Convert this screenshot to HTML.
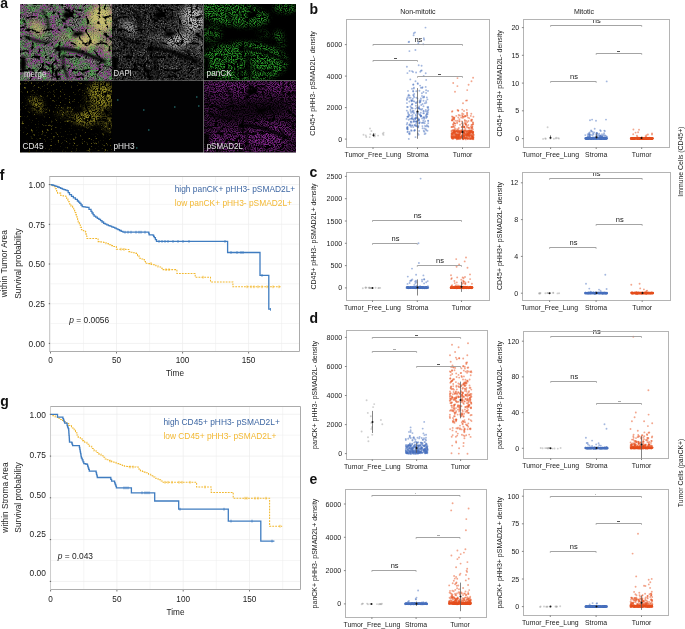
<!DOCTYPE html>
<html><head><meta charset="utf-8"><style>
html,body{margin:0;padding:0;background:#fff;}
svg{display:block;will-change:transform;}
text{font-family:"Liberation Sans", sans-serif;}
</style></head><body>
<svg width="685" height="629" viewBox="0 0 685 629" font-family='"Liberation Sans", sans-serif'>
<defs><filter id="bl0_8" x="-50%" y="-50%" width="200%" height="200%"><feGaussianBlur stdDeviation="0.8"/></filter><filter id="bl1_5" x="-50%" y="-50%" width="200%" height="200%"><feGaussianBlur stdDeviation="1.5"/></filter><filter id="bl2" x="-50%" y="-50%" width="200%" height="200%"><feGaussianBlur stdDeviation="2"/></filter><filter id="bl3" x="-50%" y="-50%" width="200%" height="200%"><feGaussianBlur stdDeviation="3"/></filter><filter id="bl4" x="-50%" y="-50%" width="200%" height="200%"><feGaussianBlur stdDeviation="4"/></filter><filter id="bl6" x="-50%" y="-50%" width="200%" height="200%"><feGaussianBlur stdDeviation="6"/></filter><clipPath id="cp0"><rect x="20" y="4" width="92" height="76.5"/></clipPath><clipPath id="cp1"><rect x="112" y="4" width="91.5" height="76.5"/></clipPath><clipPath id="cp2"><rect x="203.5" y="4" width="92.5" height="76.5"/></clipPath><clipPath id="cp3"><rect x="20" y="80.5" width="92" height="72.0"/></clipPath><clipPath id="cp4"><rect x="112" y="80.5" width="91.5" height="72.0"/></clipPath><clipPath id="cp5"><rect x="203.5" y="80.5" width="92.5" height="72.0"/></clipPath><filter id="tis_f" filterUnits="userSpaceOnUse" x="0" y="0" width="93" height="77" color-interpolation-filters="sRGB"><feTurbulence type="turbulence" baseFrequency="0.075" numOctaves="3" seed="5"/><feColorMatrix type="matrix" values="0 0 0 0 1 0 0 0 0 1 0 0 0 0 1 9 0 0 0 -0.75"/></filter><mask id="tis" maskUnits="userSpaceOnUse" x="0" y="0" width="93" height="77"><rect width="93" height="77" fill="#000"/><rect width="93" height="77" filter="url(#tis_f)"/><g filter="url(#bl0_8)"><path d="M36 45 C48 44 58 47 66 50 S80 56 86 58" stroke="#000" stroke-width="3.2" fill="none"/><ellipse cx="47" cy="11" rx="4" ry="3.5" fill="#000"/><ellipse cx="58" cy="30" rx="6" ry="2.2" fill="#000" transform="rotate(-10 58 30)"/><ellipse cx="3" cy="60" rx="3" ry="8" fill="#000"/><path d="M5 33 C15 36 22 40 30 38" stroke="#000" stroke-width="2" fill="none"/><path d="M22 6 C26 12 30 18 28 26" stroke="#000" stroke-width="1.8" fill="none"/><path d="M44 50 C42 58 44 66 48 74" stroke="#000" stroke-width="2" fill="none"/></g></mask><filter id="f_m_base" filterUnits="userSpaceOnUse" x="0" y="0" width="93" height="77" color-interpolation-filters="sRGB"><feTurbulence type="fractalNoise" baseFrequency="0.6" numOctaves="1" seed="23"/><feColorMatrix type="matrix" values="0 0 0 0 0.196 0 0 0 0 0.220 0 0 0 0 0.196 3 0 0 0 -0.8"/></filter><filter id="f_m_w" filterUnits="userSpaceOnUse" x="0" y="0" width="93" height="77" color-interpolation-filters="sRGB"><feTurbulence type="fractalNoise" baseFrequency="0.83" numOctaves="1" seed="21"/><feColorMatrix type="matrix" values="0 0 0 0 0.549 0 0 0 0 0.549 0 0 0 0 0.529 4 0 0 0 -1.55"/></filter><filter id="f_m_g" filterUnits="userSpaceOnUse" x="0" y="0" width="93" height="77" color-interpolation-filters="sRGB"><feTurbulence type="fractalNoise" baseFrequency="0.77" numOctaves="1" seed="3" result="fn"/><feTurbulence type="fractalNoise" baseFrequency="0.13" numOctaves="2" seed="101" result="mn"/><feColorMatrix in="fn" type="matrix" values="0 0 0 0 0.275 0 0 0 0 0.627 0 0 0 0 0.275 4 0 0 0 -1.35" result="fa"/><feColorMatrix in="mn" type="matrix" values="0 0 0 0 0 0 0 0 0 0 0 0 0 0 0 4 0 0 0 -1.4" result="ma"/><feComposite in="fa" in2="ma" operator="in"/></filter><filter id="f_m_m" filterUnits="userSpaceOnUse" x="0" y="0" width="93" height="77" color-interpolation-filters="sRGB"><feTurbulence type="fractalNoise" baseFrequency="0.71" numOctaves="1" seed="11" result="fn"/><feTurbulence type="fractalNoise" baseFrequency="0.13" numOctaves="2" seed="102" result="mn"/><feColorMatrix in="fn" type="matrix" values="0 0 0 0 0.569 0 0 0 0 0.216 0 0 0 0 0.569 4 0 0 0 -1.5" result="fa"/><feColorMatrix in="mn" type="matrix" values="0 0 0 0 0 0 0 0 0 0 0 0 0 0 0 4 0 0 0 -1.5" result="ma"/><feComposite in="fa" in2="ma" operator="in"/></filter><filter id="f_m_y" filterUnits="userSpaceOnUse" x="0" y="0" width="93" height="77" color-interpolation-filters="sRGB"><feTurbulence type="fractalNoise" baseFrequency="0.87" numOctaves="1" seed="31"/><feColorMatrix type="matrix" values="0 0 0 0 0.784 0 0 0 0 0.745 0 0 0 0 0.431 4 0 0 0 -0.9"/></filter><mask id="r_y" maskUnits="userSpaceOnUse" x="0" y="0" width="93" height="77"><rect x="-10" y="-10" width="113" height="97" fill="rgb(0,0,0)"/><g filter="url(#bl3)"><ellipse cx="81" cy="15" rx="13" ry="14" fill="rgb(255,255,255)" transform="rotate(0 81 15)"/><ellipse cx="70" cy="23" rx="6.5" ry="5.5" fill="rgb(30,30,30)" transform="rotate(0 70 23)"/><ellipse cx="67" cy="37" rx="14" ry="7" fill="rgb(255,255,255)" transform="rotate(-10 67 37)"/><ellipse cx="17" cy="24" rx="5" ry="9" fill="rgb(216,216,216)" transform="rotate(-40 17 24)"/><ellipse cx="45" cy="33" rx="9" ry="2.5" fill="rgb(140,140,140)" transform="rotate(-5 45 33)"/><ellipse cx="88" cy="42" rx="5" ry="9" fill="rgb(153,153,153)" transform="rotate(0 88 42)"/></g></mask><filter id="f_d0" filterUnits="userSpaceOnUse" x="0" y="0" width="93" height="77" color-interpolation-filters="sRGB"><feTurbulence type="fractalNoise" baseFrequency="0.55" numOctaves="1" seed="44"/><feColorMatrix type="matrix" values="0 0 0 0 0.204 0 0 0 0 0.204 0 0 0 0 0.204 3 0 0 0 -0.95"/></filter><filter id="f_d" filterUnits="userSpaceOnUse" x="0" y="0" width="93" height="77" color-interpolation-filters="sRGB"><feTurbulence type="fractalNoise" baseFrequency="0.93" numOctaves="1" seed="41"/><feColorMatrix type="matrix" values="0 0 0 0 0.471 0 0 0 0 0.471 0 0 0 0 0.471 4 0 0 0 -2.2"/></filter><filter id="f_d2" filterUnits="userSpaceOnUse" x="0" y="0" width="93" height="77" color-interpolation-filters="sRGB"><feTurbulence type="fractalNoise" baseFrequency="0.93" numOctaves="1" seed="43"/><feColorMatrix type="matrix" values="0 0 0 0 0.745 0 0 0 0 0.745 0 0 0 0 0.745 4 0 0 0 -1.35"/></filter><filter id="f_p" filterUnits="userSpaceOnUse" x="0" y="0" width="93" height="77" color-interpolation-filters="sRGB"><feTurbulence type="fractalNoise" baseFrequency="0.83" numOctaves="1" seed="51"/><feColorMatrix type="matrix" values="0 0 0 0 0.157 0 0 0 0 0.608 0 0 0 0 0.157 4 0 0 0 -1.6"/></filter><mask id="r_p" maskUnits="userSpaceOnUse" x="0" y="0" width="93" height="77"><rect x="-10" y="-10" width="113" height="97" fill="rgb(0,0,0)"/><g filter="url(#bl2)"><ellipse cx="30" cy="10" rx="36" ry="12" fill="rgb(255,255,255)" transform="rotate(8 30 10)"/><ellipse cx="40" cy="58" rx="44" ry="20" fill="rgb(255,255,255)" transform="rotate(0 40 58)"/><ellipse cx="45" cy="64" rx="4" ry="13" fill="rgb(0,0,0)" transform="rotate(0 45 64)"/><ellipse cx="82" cy="4" rx="12" ry="5" fill="rgb(229,229,229)" transform="rotate(0 82 4)"/><ellipse cx="8" cy="30" rx="10" ry="8" fill="rgb(204,204,204)" transform="rotate(0 8 30)"/><ellipse cx="75" cy="32" rx="5" ry="5" fill="rgb(204,204,204)" transform="rotate(0 75 32)"/><ellipse cx="79" cy="40" rx="3" ry="3" fill="rgb(204,204,204)" transform="rotate(0 79 40)"/><ellipse cx="60" cy="30" rx="6" ry="3" fill="rgb(178,178,178)" transform="rotate(0 60 30)"/></g></mask><filter id="f_c" filterUnits="userSpaceOnUse" x="0" y="0" width="93" height="77" color-interpolation-filters="sRGB"><feTurbulence type="fractalNoise" baseFrequency="0.81" numOctaves="1" seed="61"/><feColorMatrix type="matrix" values="0 0 0 0 0.588 0 0 0 0 0.557 0 0 0 0 0.137 4 0 0 0 -1.4"/></filter><filter id="f_c2" filterUnits="userSpaceOnUse" x="0" y="0" width="93" height="77" color-interpolation-filters="sRGB"><feTurbulence type="fractalNoise" baseFrequency="0.45" numOctaves="3" seed="63"/><feColorMatrix type="matrix" values="0 0 0 0 0.471 0 0 0 0 0.439 0 0 0 0 0.098 5 0 0 0 -3.15"/></filter><filter id="f_s" filterUnits="userSpaceOnUse" x="0" y="0" width="93" height="77" color-interpolation-filters="sRGB"><feTurbulence type="fractalNoise" baseFrequency="0.83" numOctaves="1" seed="71"/><feColorMatrix type="matrix" values="0 0 0 0 0.529 0 0 0 0 0.157 0 0 0 0 0.569 4 0 0 0 -1.5"/></filter><mask id="r_s" maskUnits="userSpaceOnUse" x="0" y="0" width="93" height="77"><rect x="-10" y="-10" width="113" height="97" fill="rgb(127,127,127)"/><g filter="url(#bl4)"><ellipse cx="62" cy="57" rx="26" ry="13" fill="rgb(255,255,255)" transform="rotate(-10 62 57)"/><ellipse cx="22" cy="60" rx="22" ry="10" fill="rgb(216,216,216)" transform="rotate(0 22 60)"/><ellipse cx="30" cy="6" rx="30" ry="7" fill="rgb(229,229,229)" transform="rotate(0 30 6)"/><ellipse cx="76" cy="5" rx="16" ry="6" fill="rgb(255,255,255)" transform="rotate(0 76 5)"/><ellipse cx="50" cy="29" rx="38" ry="9" fill="rgb(51,51,51)" transform="rotate(-5 50 29)"/></g></mask></defs>
<rect width="685" height="629" fill="#fff"/>
<g clip-path="url(#cp0)"><g transform="translate(20,4)"><rect width="93" height="77" fill="#000"/><g mask="url(#tis)"><rect width="93" height="77" filter="url(#f_m_base)"/><rect width="93" height="77" filter="url(#f_m_w)"/><rect width="93" height="77" filter="url(#f_m_g)"/><rect width="93" height="77" filter="url(#f_m_m)"/><g mask="url(#r_y)"><rect width="93" height="77" filter="url(#f_m_y)"/></g></g></g></g><g clip-path="url(#cp1)"><g transform="translate(112,4)"><rect width="93" height="77" fill="#000"/><g mask="url(#tis)"><rect width="93" height="77" filter="url(#f_d0)"/><rect width="93" height="77" filter="url(#f_d)"/><g mask="url(#r_y)"><rect width="93" height="77" filter="url(#f_d2)"/></g></g></g></g><g clip-path="url(#cp2)"><g transform="translate(203.5,4)"><rect width="93" height="77" fill="#000"/><g mask="url(#tis)"><g mask="url(#r_p)"><rect width="93" height="77" filter="url(#f_p)"/></g></g></g></g><g clip-path="url(#cp3)"><g transform="translate(20,80.5)"><rect width="93" height="77" fill="#000"/><g mask="url(#tis)"><rect width="93" height="77" filter="url(#f_c2)"/><g mask="url(#r_y)"><rect width="93" height="77" filter="url(#f_c)"/></g></g></g></g><g clip-path="url(#cp4)"><g transform="translate(112,80.5)"><rect width="93" height="77" fill="#020203"/><rect x="5" y="19" width="1.5" height="1" fill="#3ab0b0" opacity="0.8"/><rect x="31" y="29" width="1.5" height="1" fill="#3ab0b0" opacity="0.8"/><rect x="62" y="26" width="1.5" height="1" fill="#3ab0b0" opacity="0.8"/><rect x="84" y="16" width="1.5" height="1" fill="#3ab0b0" opacity="0.8"/><rect x="86" y="25" width="1.5" height="1" fill="#3ab0b0" opacity="0.8"/><rect x="36" y="49" width="1.5" height="1" fill="#3ab0b0" opacity="0.8"/><rect x="24" y="67" width="1.5" height="1" fill="#3ab0b0" opacity="0.8"/></g></g><g clip-path="url(#cp5)"><g transform="translate(203.5,80.5)"><rect width="93" height="77" fill="#000"/><g mask="url(#tis)"><g mask="url(#r_s)"><rect width="93" height="77" filter="url(#f_s)"/></g></g></g></g><text x="24.0" y="76.6" font-size="8.4" fill="#e6e6e6" textLength="22.3" lengthAdjust="spacingAndGlyphs">merge</text><text x="113.6" y="76.4" font-size="8.4" fill="#e6e6e6" textLength="18.2" lengthAdjust="spacingAndGlyphs">DAPI</text><text x="206.6" y="76.4" font-size="8.4" fill="#e6e6e6" textLength="25.0" lengthAdjust="spacingAndGlyphs">panCK</text><text x="22.4" y="149.0" font-size="8.4" fill="#e6e6e6" textLength="21.2" lengthAdjust="spacingAndGlyphs">CD45</text><text x="113.5" y="148.8" font-size="8.4" fill="#e6e6e6" textLength="21.2" lengthAdjust="spacingAndGlyphs">pHH3</text><text x="206.7" y="149.0" font-size="8.4" fill="#e6e6e6" textLength="36.2" lengthAdjust="spacingAndGlyphs">pSMAD2L</text>
<g fill="#a0a0a0" fill-opacity="0.5"><circle cx="366.3" cy="137.0" r="0.95"/><circle cx="378.1" cy="135.6" r="0.95"/><circle cx="383.5" cy="134.9" r="0.95"/><circle cx="370.3" cy="134.3" r="0.95"/><circle cx="374.7" cy="136.6" r="0.95"/><circle cx="382.8" cy="133.7" r="0.95"/><circle cx="370.0" cy="128.5" r="0.95"/><circle cx="363.5" cy="134.7" r="0.95"/><circle cx="374.8" cy="135.6" r="0.95"/><circle cx="383.6" cy="132.7" r="0.95"/><circle cx="369.7" cy="137.1" r="0.95"/><circle cx="365.8" cy="135.4" r="0.95"/><circle cx="375.0" cy="133.9" r="0.95"/><circle cx="371.4" cy="131.0" r="0.95"/></g>
<g fill="#4a72c0" fill-opacity="0.5"><circle cx="413.4" cy="119.4" r="0.95"/><circle cx="416.3" cy="126.1" r="0.95"/><circle cx="418.9" cy="108.3" r="0.95"/><circle cx="407.7" cy="129.5" r="0.95"/><circle cx="414.1" cy="113.0" r="0.95"/><circle cx="426.1" cy="118.0" r="0.95"/><circle cx="423.7" cy="130.7" r="0.95"/><circle cx="418.3" cy="113.8" r="0.95"/><circle cx="407.4" cy="132.1" r="0.95"/><circle cx="421.2" cy="116.3" r="0.95"/><circle cx="414.9" cy="130.3" r="0.95"/><circle cx="424.5" cy="128.5" r="0.95"/><circle cx="408.0" cy="116.5" r="0.95"/><circle cx="420.9" cy="100.1" r="0.95"/><circle cx="407.5" cy="126.9" r="0.95"/><circle cx="407.3" cy="123.0" r="0.95"/><circle cx="420.3" cy="109.3" r="0.95"/><circle cx="416.3" cy="91.3" r="0.95"/><circle cx="410.6" cy="111.1" r="0.95"/><circle cx="424.4" cy="117.2" r="0.95"/><circle cx="422.2" cy="87.9" r="0.95"/><circle cx="424.3" cy="131.7" r="0.95"/><circle cx="420.9" cy="98.4" r="0.95"/><circle cx="418.9" cy="120.3" r="0.95"/><circle cx="427.9" cy="126.1" r="0.95"/><circle cx="418.2" cy="127.4" r="0.95"/><circle cx="408.7" cy="119.8" r="0.95"/><circle cx="411.6" cy="101.2" r="0.95"/><circle cx="406.8" cy="124.4" r="0.95"/><circle cx="425.6" cy="111.4" r="0.95"/><circle cx="422.3" cy="108.9" r="0.95"/><circle cx="411.6" cy="118.2" r="0.95"/><circle cx="413.1" cy="112.6" r="0.95"/><circle cx="414.2" cy="130.7" r="0.95"/><circle cx="419.1" cy="130.9" r="0.95"/><circle cx="428.2" cy="123.3" r="0.95"/><circle cx="428.2" cy="107.0" r="0.95"/><circle cx="425.8" cy="116.0" r="0.95"/><circle cx="418.5" cy="119.6" r="0.95"/><circle cx="423.4" cy="110.9" r="0.95"/><circle cx="411.1" cy="115.8" r="0.95"/><circle cx="418.6" cy="120.4" r="0.95"/><circle cx="417.3" cy="101.7" r="0.95"/><circle cx="423.5" cy="106.3" r="0.95"/><circle cx="416.9" cy="121.6" r="0.95"/><circle cx="412.2" cy="111.6" r="0.95"/><circle cx="423.3" cy="113.3" r="0.95"/><circle cx="416.3" cy="97.6" r="0.95"/><circle cx="421.2" cy="105.0" r="0.95"/><circle cx="418.3" cy="120.6" r="0.95"/><circle cx="422.5" cy="87.2" r="0.95"/><circle cx="413.3" cy="127.1" r="0.95"/><circle cx="408.6" cy="116.5" r="0.95"/><circle cx="422.6" cy="104.0" r="0.95"/><circle cx="410.3" cy="125.8" r="0.95"/><circle cx="409.1" cy="114.6" r="0.95"/><circle cx="409.7" cy="131.9" r="0.95"/><circle cx="412.0" cy="107.9" r="0.95"/><circle cx="412.4" cy="103.9" r="0.95"/><circle cx="427.1" cy="111.3" r="0.95"/><circle cx="423.0" cy="97.5" r="0.95"/><circle cx="418.8" cy="119.6" r="0.95"/><circle cx="427.4" cy="107.1" r="0.95"/><circle cx="406.8" cy="110.6" r="0.95"/><circle cx="413.6" cy="111.0" r="0.95"/><circle cx="416.0" cy="115.8" r="0.95"/><circle cx="407.0" cy="99.9" r="0.95"/><circle cx="413.3" cy="91.5" r="0.95"/><circle cx="426.3" cy="114.7" r="0.95"/><circle cx="411.2" cy="107.7" r="0.95"/><circle cx="414.6" cy="130.3" r="0.95"/><circle cx="410.5" cy="106.3" r="0.95"/><circle cx="419.2" cy="108.7" r="0.95"/><circle cx="413.2" cy="84.7" r="0.95"/><circle cx="423.5" cy="100.8" r="0.95"/><circle cx="414.1" cy="121.0" r="0.95"/><circle cx="423.9" cy="117.7" r="0.95"/><circle cx="417.0" cy="107.7" r="0.95"/><circle cx="409.5" cy="134.2" r="0.95"/><circle cx="419.9" cy="114.9" r="0.95"/><circle cx="426.9" cy="125.2" r="0.95"/><circle cx="407.2" cy="127.4" r="0.95"/><circle cx="411.7" cy="130.7" r="0.95"/><circle cx="424.9" cy="103.3" r="0.95"/><circle cx="417.5" cy="126.8" r="0.95"/><circle cx="410.7" cy="122.0" r="0.95"/><circle cx="415.9" cy="117.8" r="0.95"/><circle cx="410.6" cy="97.8" r="0.95"/><circle cx="407.4" cy="129.1" r="0.95"/><circle cx="409.1" cy="115.4" r="0.95"/><circle cx="418.1" cy="112.1" r="0.95"/><circle cx="424.0" cy="96.5" r="0.95"/><circle cx="420.2" cy="101.1" r="0.95"/><circle cx="409.3" cy="97.9" r="0.95"/><circle cx="423.3" cy="120.8" r="0.95"/><circle cx="427.0" cy="116.6" r="0.95"/><circle cx="415.3" cy="118.8" r="0.95"/><circle cx="414.1" cy="97.2" r="0.95"/><circle cx="426.1" cy="90.2" r="0.95"/><circle cx="418.5" cy="126.0" r="0.95"/><circle cx="409.1" cy="124.9" r="0.95"/><circle cx="423.5" cy="122.7" r="0.95"/><circle cx="419.7" cy="122.1" r="0.95"/><circle cx="427.6" cy="114.2" r="0.95"/><circle cx="423.7" cy="111.1" r="0.95"/><circle cx="413.5" cy="121.5" r="0.95"/><circle cx="415.5" cy="137.1" r="0.95"/><circle cx="407.5" cy="116.9" r="0.95"/><circle cx="415.0" cy="118.3" r="0.95"/><circle cx="416.9" cy="112.0" r="0.95"/><circle cx="413.1" cy="91.0" r="0.95"/><circle cx="407.1" cy="106.9" r="0.95"/><circle cx="408.2" cy="113.8" r="0.95"/><circle cx="421.4" cy="109.8" r="0.95"/><circle cx="427.9" cy="107.9" r="0.95"/><circle cx="427.5" cy="130.7" r="0.95"/><circle cx="422.0" cy="95.9" r="0.95"/><circle cx="419.8" cy="102.5" r="0.95"/><circle cx="426.8" cy="97.4" r="0.95"/><circle cx="419.6" cy="102.2" r="0.95"/><circle cx="412.6" cy="117.0" r="0.95"/><circle cx="426.8" cy="117.0" r="0.95"/><circle cx="407.4" cy="127.7" r="0.95"/><circle cx="428.4" cy="109.4" r="0.95"/><circle cx="411.1" cy="130.2" r="0.95"/><circle cx="426.2" cy="130.3" r="0.95"/><circle cx="419.3" cy="123.0" r="0.95"/><circle cx="415.6" cy="125.5" r="0.95"/><circle cx="406.6" cy="118.9" r="0.95"/><circle cx="407.8" cy="131.6" r="0.95"/><circle cx="408.8" cy="138.9" r="0.95"/><circle cx="425.0" cy="125.9" r="0.95"/><circle cx="407.4" cy="128.3" r="0.95"/><circle cx="417.3" cy="118.3" r="0.95"/><circle cx="409.7" cy="133.6" r="0.95"/><circle cx="424.1" cy="97.2" r="0.95"/><circle cx="425.8" cy="109.9" r="0.95"/><circle cx="412.4" cy="125.6" r="0.95"/><circle cx="416.6" cy="121.9" r="0.95"/><circle cx="419.0" cy="119.1" r="0.95"/><circle cx="417.8" cy="118.3" r="0.95"/><circle cx="428.3" cy="126.8" r="0.95"/><circle cx="406.9" cy="98.9" r="0.95"/><circle cx="413.4" cy="84.4" r="0.95"/><circle cx="415.7" cy="114.8" r="0.95"/><circle cx="426.8" cy="114.5" r="0.95"/><circle cx="425.8" cy="129.1" r="0.95"/><circle cx="422.6" cy="128.3" r="0.95"/><circle cx="413.1" cy="119.1" r="0.95"/><circle cx="411.0" cy="121.4" r="0.95"/><circle cx="419.6" cy="100.5" r="0.95"/><circle cx="410.2" cy="125.1" r="0.95"/><circle cx="424.6" cy="134.1" r="0.95"/><circle cx="428.0" cy="90.9" r="0.95"/><circle cx="411.1" cy="112.7" r="0.95"/><circle cx="422.4" cy="126.1" r="0.95"/><circle cx="420.8" cy="112.8" r="0.95"/><circle cx="417.9" cy="133.5" r="0.95"/><circle cx="426.8" cy="113.2" r="0.95"/><circle cx="420.9" cy="87.8" r="0.95"/><circle cx="417.4" cy="98.4" r="0.95"/><circle cx="419.1" cy="106.4" r="0.95"/><circle cx="415.9" cy="121.4" r="0.95"/><circle cx="416.0" cy="118.2" r="0.95"/><circle cx="414.5" cy="124.9" r="0.95"/><circle cx="415.9" cy="103.1" r="0.95"/><circle cx="427.9" cy="112.6" r="0.95"/><circle cx="406.9" cy="103.1" r="0.95"/><circle cx="415.2" cy="119.2" r="0.95"/><circle cx="419.5" cy="122.7" r="0.95"/><circle cx="411.8" cy="100.8" r="0.95"/><circle cx="425.7" cy="86.9" r="0.95"/><circle cx="412.8" cy="98.8" r="0.95"/><circle cx="413.6" cy="101.1" r="0.95"/><circle cx="426.1" cy="101.1" r="0.95"/><circle cx="411.8" cy="104.6" r="0.95"/><circle cx="421.9" cy="122.9" r="0.95"/><circle cx="416.8" cy="113.3" r="0.95"/><circle cx="411.6" cy="118.7" r="0.95"/><circle cx="425.5" cy="133.5" r="0.95"/><circle cx="409.0" cy="133.4" r="0.95"/><circle cx="428.2" cy="121.0" r="0.95"/><circle cx="416.6" cy="121.2" r="0.95"/><circle cx="407.8" cy="107.0" r="0.95"/><circle cx="408.0" cy="90.9" r="0.95"/><circle cx="421.1" cy="115.7" r="0.95"/><circle cx="426.1" cy="92.9" r="0.95"/><circle cx="420.1" cy="85.6" r="0.95"/><circle cx="419.4" cy="90.7" r="0.95"/><circle cx="412.0" cy="118.6" r="0.95"/><circle cx="422.6" cy="122.6" r="0.95"/><circle cx="411.5" cy="122.5" r="0.95"/><circle cx="419.1" cy="123.6" r="0.95"/><circle cx="416.2" cy="123.7" r="0.95"/><circle cx="410.5" cy="109.8" r="0.95"/><circle cx="413.8" cy="96.0" r="0.95"/><circle cx="427.4" cy="99.4" r="0.95"/><circle cx="419.8" cy="114.4" r="0.95"/><circle cx="415.5" cy="108.6" r="0.95"/><circle cx="420.5" cy="101.7" r="0.95"/><circle cx="407.2" cy="128.7" r="0.95"/><circle cx="418.8" cy="107.9" r="0.95"/><circle cx="413.2" cy="95.0" r="0.95"/><circle cx="426.3" cy="102.7" r="0.95"/><circle cx="412.1" cy="104.4" r="0.95"/><circle cx="412.6" cy="115.0" r="0.95"/><circle cx="409.9" cy="124.3" r="0.95"/><circle cx="416.2" cy="102.7" r="0.95"/><circle cx="410.1" cy="118.9" r="0.95"/><circle cx="409.4" cy="101.5" r="0.95"/><circle cx="413.8" cy="88.6" r="0.95"/><circle cx="423.2" cy="117.2" r="0.95"/><circle cx="417.0" cy="117.1" r="0.95"/><circle cx="423.5" cy="92.0" r="0.95"/><circle cx="415.9" cy="105.8" r="0.95"/><circle cx="412.0" cy="125.2" r="0.95"/><circle cx="418.1" cy="126.9" r="0.95"/><circle cx="414.9" cy="125.5" r="0.95"/><circle cx="409.5" cy="95.6" r="0.95"/><circle cx="414.4" cy="101.6" r="0.95"/><circle cx="416.6" cy="125.9" r="0.95"/><circle cx="411.1" cy="100.1" r="0.95"/><circle cx="413.9" cy="87.6" r="0.95"/><circle cx="418.5" cy="107.9" r="0.95"/><circle cx="422.1" cy="118.6" r="0.95"/><circle cx="408.0" cy="112.2" r="0.95"/><circle cx="411.2" cy="126.9" r="0.95"/><circle cx="418.6" cy="134.8" r="0.95"/><circle cx="412.0" cy="88.7" r="0.95"/><circle cx="412.7" cy="108.5" r="0.95"/><circle cx="423.9" cy="113.3" r="0.95"/><circle cx="421.9" cy="93.2" r="0.95"/><circle cx="420.9" cy="115.8" r="0.95"/><circle cx="407.5" cy="97.4" r="0.95"/><circle cx="412.2" cy="100.4" r="0.95"/><circle cx="424.6" cy="123.3" r="0.95"/><circle cx="416.0" cy="121.6" r="0.95"/><circle cx="428.1" cy="120.6" r="0.95"/><circle cx="414.0" cy="121.8" r="0.95"/><circle cx="428.1" cy="110.8" r="0.95"/><circle cx="425.1" cy="121.2" r="0.95"/><circle cx="420.9" cy="116.5" r="0.95"/><circle cx="426.1" cy="126.4" r="0.95"/><circle cx="408.7" cy="94.7" r="0.95"/><circle cx="424.2" cy="118.9" r="0.95"/><circle cx="420.6" cy="115.5" r="0.95"/><circle cx="412.7" cy="110.9" r="0.95"/><circle cx="408.4" cy="95.7" r="0.95"/><circle cx="407.5" cy="116.6" r="0.95"/><circle cx="414.2" cy="94.0" r="0.95"/><circle cx="416.1" cy="72.5" r="0.95"/><circle cx="412.0" cy="71.1" r="0.95"/><circle cx="420.3" cy="71.7" r="0.95"/><circle cx="417.7" cy="83.3" r="0.95"/><circle cx="425.7" cy="73.3" r="0.95"/><circle cx="410.3" cy="79.4" r="0.95"/><circle cx="417.8" cy="83.9" r="0.95"/><circle cx="418.7" cy="65.3" r="0.95"/><circle cx="426.2" cy="79.9" r="0.95"/><circle cx="407.4" cy="73.1" r="0.95"/><circle cx="406.9" cy="66.7" r="0.95"/><circle cx="409.6" cy="70.9" r="0.95"/><circle cx="423.7" cy="76.0" r="0.95"/><circle cx="413.0" cy="72.0" r="0.95"/><circle cx="421.7" cy="70.5" r="0.95"/><circle cx="421.6" cy="65.7" r="0.95"/><circle cx="415.5" cy="81.2" r="0.95"/><circle cx="421.0" cy="70.6" r="0.95"/><circle cx="409.4" cy="51.1" r="0.95"/><circle cx="415.4" cy="50.0" r="0.95"/><circle cx="415.0" cy="32.4" r="0.95"/><circle cx="418.6" cy="41.9" r="0.95"/><circle cx="424.1" cy="39.7" r="0.95"/><circle cx="413.8" cy="33.2" r="0.95"/><circle cx="425.5" cy="27.6" r="0.95"/><circle cx="423.3" cy="44.3" r="0.95"/><circle cx="423.8" cy="38.2" r="0.95"/><circle cx="409.1" cy="41.8" r="0.95"/><circle cx="408.6" cy="42.1" r="0.95"/><circle cx="413.6" cy="35.2" r="0.95"/><circle cx="418.3" cy="43.6" r="0.95"/></g>
<g fill="#e8501e" fill-opacity="0.5"><circle cx="467.0" cy="134.7" r="0.95"/><circle cx="469.0" cy="135.3" r="0.95"/><circle cx="458.5" cy="130.7" r="0.95"/><circle cx="468.3" cy="133.2" r="0.95"/><circle cx="459.7" cy="131.4" r="0.95"/><circle cx="454.9" cy="131.2" r="0.95"/><circle cx="461.6" cy="137.1" r="0.95"/><circle cx="459.0" cy="134.1" r="0.95"/><circle cx="462.8" cy="131.1" r="0.95"/><circle cx="470.9" cy="131.7" r="0.95"/><circle cx="466.8" cy="137.8" r="0.95"/><circle cx="470.5" cy="138.3" r="0.95"/><circle cx="463.7" cy="135.2" r="0.95"/><circle cx="457.5" cy="138.8" r="0.95"/><circle cx="469.1" cy="136.9" r="0.95"/><circle cx="453.4" cy="138.2" r="0.95"/><circle cx="472.7" cy="132.9" r="0.95"/><circle cx="469.3" cy="132.3" r="0.95"/><circle cx="463.7" cy="131.4" r="0.95"/><circle cx="460.5" cy="137.8" r="0.95"/><circle cx="453.5" cy="133.2" r="0.95"/><circle cx="453.8" cy="133.1" r="0.95"/><circle cx="466.3" cy="138.0" r="0.95"/><circle cx="469.2" cy="131.6" r="0.95"/><circle cx="472.0" cy="130.4" r="0.95"/><circle cx="451.7" cy="137.0" r="0.95"/><circle cx="468.6" cy="130.6" r="0.95"/><circle cx="463.2" cy="135.9" r="0.95"/><circle cx="454.9" cy="134.9" r="0.95"/><circle cx="471.3" cy="130.7" r="0.95"/><circle cx="460.3" cy="131.9" r="0.95"/><circle cx="457.6" cy="138.1" r="0.95"/><circle cx="468.7" cy="135.5" r="0.95"/><circle cx="458.2" cy="134.8" r="0.95"/><circle cx="462.2" cy="136.4" r="0.95"/><circle cx="459.5" cy="137.7" r="0.95"/><circle cx="466.6" cy="136.3" r="0.95"/><circle cx="463.9" cy="133.1" r="0.95"/><circle cx="463.1" cy="139.3" r="0.95"/><circle cx="451.7" cy="134.6" r="0.95"/><circle cx="467.2" cy="135.3" r="0.95"/><circle cx="470.2" cy="138.7" r="0.95"/><circle cx="458.9" cy="136.4" r="0.95"/><circle cx="469.6" cy="133.6" r="0.95"/><circle cx="473.4" cy="134.8" r="0.95"/><circle cx="452.5" cy="138.2" r="0.95"/><circle cx="453.2" cy="130.6" r="0.95"/><circle cx="458.6" cy="132.1" r="0.95"/><circle cx="461.3" cy="130.3" r="0.95"/><circle cx="471.5" cy="138.5" r="0.95"/><circle cx="463.8" cy="136.8" r="0.95"/><circle cx="458.3" cy="138.8" r="0.95"/><circle cx="459.1" cy="132.7" r="0.95"/><circle cx="472.5" cy="136.9" r="0.95"/><circle cx="469.7" cy="137.6" r="0.95"/><circle cx="454.2" cy="135.3" r="0.95"/><circle cx="454.3" cy="131.1" r="0.95"/><circle cx="473.2" cy="132.3" r="0.95"/><circle cx="472.6" cy="136.6" r="0.95"/><circle cx="456.4" cy="137.4" r="0.95"/><circle cx="457.5" cy="130.8" r="0.95"/><circle cx="463.1" cy="134.0" r="0.95"/><circle cx="466.3" cy="133.1" r="0.95"/><circle cx="464.6" cy="138.2" r="0.95"/><circle cx="467.7" cy="138.8" r="0.95"/><circle cx="467.2" cy="133.1" r="0.95"/><circle cx="461.7" cy="135.2" r="0.95"/><circle cx="452.4" cy="138.4" r="0.95"/><circle cx="465.1" cy="130.7" r="0.95"/><circle cx="470.4" cy="133.9" r="0.95"/><circle cx="470.3" cy="132.4" r="0.95"/><circle cx="462.2" cy="138.1" r="0.95"/><circle cx="457.5" cy="131.9" r="0.95"/><circle cx="473.2" cy="138.2" r="0.95"/><circle cx="451.6" cy="131.5" r="0.95"/><circle cx="459.2" cy="135.2" r="0.95"/><circle cx="454.0" cy="136.4" r="0.95"/><circle cx="458.9" cy="134.6" r="0.95"/><circle cx="458.7" cy="130.9" r="0.95"/><circle cx="455.4" cy="137.2" r="0.95"/><circle cx="464.5" cy="138.2" r="0.95"/><circle cx="452.9" cy="134.6" r="0.95"/><circle cx="467.6" cy="137.4" r="0.95"/><circle cx="472.1" cy="137.8" r="0.95"/><circle cx="459.7" cy="138.1" r="0.95"/><circle cx="463.3" cy="139.0" r="0.95"/><circle cx="457.1" cy="137.0" r="0.95"/><circle cx="472.3" cy="136.2" r="0.95"/><circle cx="463.8" cy="136.3" r="0.95"/><circle cx="464.2" cy="132.9" r="0.95"/><circle cx="472.3" cy="136.9" r="0.95"/><circle cx="457.1" cy="135.0" r="0.95"/><circle cx="451.9" cy="137.5" r="0.95"/><circle cx="472.3" cy="135.9" r="0.95"/><circle cx="459.6" cy="139.0" r="0.95"/><circle cx="456.7" cy="137.1" r="0.95"/><circle cx="465.9" cy="138.6" r="0.95"/><circle cx="471.7" cy="132.4" r="0.95"/><circle cx="466.8" cy="134.2" r="0.95"/><circle cx="454.7" cy="137.1" r="0.95"/><circle cx="473.5" cy="135.2" r="0.95"/><circle cx="461.6" cy="131.2" r="0.95"/><circle cx="472.8" cy="138.5" r="0.95"/><circle cx="463.2" cy="131.8" r="0.95"/><circle cx="462.9" cy="135.7" r="0.95"/><circle cx="467.6" cy="134.9" r="0.95"/><circle cx="470.0" cy="131.8" r="0.95"/><circle cx="463.8" cy="136.0" r="0.95"/><circle cx="455.9" cy="135.0" r="0.95"/><circle cx="452.0" cy="133.2" r="0.95"/><circle cx="464.1" cy="130.3" r="0.95"/><circle cx="471.8" cy="136.1" r="0.95"/><circle cx="455.6" cy="131.8" r="0.95"/><circle cx="464.5" cy="132.9" r="0.95"/><circle cx="451.6" cy="133.3" r="0.95"/><circle cx="467.2" cy="135.3" r="0.95"/><circle cx="457.1" cy="136.3" r="0.95"/><circle cx="470.5" cy="138.9" r="0.95"/><circle cx="455.3" cy="137.6" r="0.95"/><circle cx="468.1" cy="138.6" r="0.95"/><circle cx="459.5" cy="132.3" r="0.95"/><circle cx="461.0" cy="136.7" r="0.95"/><circle cx="464.4" cy="138.1" r="0.95"/><circle cx="456.1" cy="138.0" r="0.95"/><circle cx="466.8" cy="131.5" r="0.95"/><circle cx="456.4" cy="131.5" r="0.95"/><circle cx="473.2" cy="133.2" r="0.95"/><circle cx="458.4" cy="136.6" r="0.95"/><circle cx="455.1" cy="136.9" r="0.95"/><circle cx="466.9" cy="136.4" r="0.95"/><circle cx="469.0" cy="134.9" r="0.95"/><circle cx="453.7" cy="137.8" r="0.95"/><circle cx="461.5" cy="135.6" r="0.95"/><circle cx="453.8" cy="137.0" r="0.95"/><circle cx="466.2" cy="130.7" r="0.95"/><circle cx="454.3" cy="130.8" r="0.95"/><circle cx="468.2" cy="134.3" r="0.95"/><circle cx="461.9" cy="137.1" r="0.95"/><circle cx="464.9" cy="130.7" r="0.95"/><circle cx="455.6" cy="136.4" r="0.95"/><circle cx="463.6" cy="136.3" r="0.95"/><circle cx="473.4" cy="139.1" r="0.95"/><circle cx="458.7" cy="135.6" r="0.95"/><circle cx="465.4" cy="135.2" r="0.95"/><circle cx="457.0" cy="134.9" r="0.95"/><circle cx="473.5" cy="137.3" r="0.95"/><circle cx="472.2" cy="134.7" r="0.95"/><circle cx="465.8" cy="139.4" r="0.95"/><circle cx="456.0" cy="136.7" r="0.95"/><circle cx="473.2" cy="138.0" r="0.95"/><circle cx="458.2" cy="135.6" r="0.95"/><circle cx="467.9" cy="138.8" r="0.95"/><circle cx="472.0" cy="139.0" r="0.95"/><circle cx="451.5" cy="136.1" r="0.95"/><circle cx="452.3" cy="137.0" r="0.95"/><circle cx="452.1" cy="134.0" r="0.95"/><circle cx="465.4" cy="134.3" r="0.95"/><circle cx="470.3" cy="132.5" r="0.95"/><circle cx="472.6" cy="133.3" r="0.95"/><circle cx="465.1" cy="132.9" r="0.95"/><circle cx="457.3" cy="131.7" r="0.95"/><circle cx="451.6" cy="135.5" r="0.95"/><circle cx="458.6" cy="136.6" r="0.95"/><circle cx="462.5" cy="130.2" r="0.95"/><circle cx="458.1" cy="137.9" r="0.95"/><circle cx="469.3" cy="132.5" r="0.95"/><circle cx="468.6" cy="133.4" r="0.95"/><circle cx="463.0" cy="138.7" r="0.95"/><circle cx="461.1" cy="132.3" r="0.95"/><circle cx="471.7" cy="131.7" r="0.95"/><circle cx="467.7" cy="133.8" r="0.95"/><circle cx="454.6" cy="132.4" r="0.95"/><circle cx="469.8" cy="132.2" r="0.95"/><circle cx="465.4" cy="137.7" r="0.95"/><circle cx="457.4" cy="134.9" r="0.95"/><circle cx="463.2" cy="134.3" r="0.95"/><circle cx="459.0" cy="131.7" r="0.95"/><circle cx="453.0" cy="132.5" r="0.95"/><circle cx="471.4" cy="132.2" r="0.95"/><circle cx="451.6" cy="134.0" r="0.95"/><circle cx="454.0" cy="131.5" r="0.95"/><circle cx="469.3" cy="133.4" r="0.95"/><circle cx="468.9" cy="132.8" r="0.95"/><circle cx="451.8" cy="136.8" r="0.95"/><circle cx="470.0" cy="139.1" r="0.95"/><circle cx="462.9" cy="137.7" r="0.95"/><circle cx="470.4" cy="135.7" r="0.95"/><circle cx="458.6" cy="137.8" r="0.95"/><circle cx="473.1" cy="131.8" r="0.95"/><circle cx="468.5" cy="134.5" r="0.95"/><circle cx="464.3" cy="134.1" r="0.95"/><circle cx="468.5" cy="134.0" r="0.95"/><circle cx="472.7" cy="132.9" r="0.95"/><circle cx="468.0" cy="134.6" r="0.95"/><circle cx="458.6" cy="138.9" r="0.95"/><circle cx="473.2" cy="131.8" r="0.95"/><circle cx="461.1" cy="132.3" r="0.95"/><circle cx="473.4" cy="134.7" r="0.95"/><circle cx="466.9" cy="134.5" r="0.95"/><circle cx="468.4" cy="133.3" r="0.95"/><circle cx="460.6" cy="138.7" r="0.95"/><circle cx="467.0" cy="133.0" r="0.95"/><circle cx="458.3" cy="137.2" r="0.95"/><circle cx="467.7" cy="138.5" r="0.95"/><circle cx="460.5" cy="136.9" r="0.95"/><circle cx="453.2" cy="132.5" r="0.95"/><circle cx="458.3" cy="137.0" r="0.95"/><circle cx="452.6" cy="132.9" r="0.95"/><circle cx="467.6" cy="130.7" r="0.95"/><circle cx="456.0" cy="135.0" r="0.95"/><circle cx="469.7" cy="135.9" r="0.95"/><circle cx="456.5" cy="135.0" r="0.95"/><circle cx="460.2" cy="133.0" r="0.95"/><circle cx="454.8" cy="132.7" r="0.95"/><circle cx="465.4" cy="134.1" r="0.95"/><circle cx="455.3" cy="133.3" r="0.95"/><circle cx="462.7" cy="138.1" r="0.95"/><circle cx="458.1" cy="137.9" r="0.95"/><circle cx="462.1" cy="137.2" r="0.95"/><circle cx="464.2" cy="132.8" r="0.95"/><circle cx="464.4" cy="136.7" r="0.95"/><circle cx="459.6" cy="133.8" r="0.95"/><circle cx="473.1" cy="139.2" r="0.95"/><circle cx="454.3" cy="138.3" r="0.95"/><circle cx="456.4" cy="136.9" r="0.95"/><circle cx="454.4" cy="132.9" r="0.95"/><circle cx="462.4" cy="132.7" r="0.95"/><circle cx="457.2" cy="133.2" r="0.95"/><circle cx="456.0" cy="136.2" r="0.95"/><circle cx="457.2" cy="134.4" r="0.95"/><circle cx="458.6" cy="135.0" r="0.95"/><circle cx="459.4" cy="134.9" r="0.95"/><circle cx="451.9" cy="138.3" r="0.95"/><circle cx="467.7" cy="131.4" r="0.95"/><circle cx="451.6" cy="137.2" r="0.95"/><circle cx="471.3" cy="130.6" r="0.95"/><circle cx="456.0" cy="131.2" r="0.95"/><circle cx="471.1" cy="138.6" r="0.95"/><circle cx="462.5" cy="135.2" r="0.95"/><circle cx="454.1" cy="131.9" r="0.95"/><circle cx="465.1" cy="130.9" r="0.95"/><circle cx="465.3" cy="135.3" r="0.95"/><circle cx="459.8" cy="136.4" r="0.95"/><circle cx="451.9" cy="137.6" r="0.95"/><circle cx="470.5" cy="131.2" r="0.95"/><circle cx="453.2" cy="137.5" r="0.95"/><circle cx="455.3" cy="133.9" r="0.95"/><circle cx="455.9" cy="138.2" r="0.95"/><circle cx="469.5" cy="134.8" r="0.95"/><circle cx="459.9" cy="131.2" r="0.95"/><circle cx="457.2" cy="138.0" r="0.95"/><circle cx="466.3" cy="131.8" r="0.95"/><circle cx="459.9" cy="134.4" r="0.95"/><circle cx="469.0" cy="131.2" r="0.95"/><circle cx="454.5" cy="132.8" r="0.95"/><circle cx="465.6" cy="137.2" r="0.95"/><circle cx="463.0" cy="131.6" r="0.95"/><circle cx="468.1" cy="134.7" r="0.95"/><circle cx="463.3" cy="138.6" r="0.95"/><circle cx="456.8" cy="138.8" r="0.95"/><circle cx="453.2" cy="134.7" r="0.95"/><circle cx="471.0" cy="135.3" r="0.95"/><circle cx="453.4" cy="136.3" r="0.95"/><circle cx="464.5" cy="137.9" r="0.95"/><circle cx="452.1" cy="135.8" r="0.95"/><circle cx="464.0" cy="136.4" r="0.95"/><circle cx="453.3" cy="132.0" r="0.95"/><circle cx="456.8" cy="139.2" r="0.95"/><circle cx="463.2" cy="132.5" r="0.95"/><circle cx="472.3" cy="131.7" r="0.95"/><circle cx="460.8" cy="138.1" r="0.95"/><circle cx="470.0" cy="131.5" r="0.95"/><circle cx="468.4" cy="133.0" r="0.95"/><circle cx="467.3" cy="131.4" r="0.95"/><circle cx="472.6" cy="137.0" r="0.95"/><circle cx="468.2" cy="135.6" r="0.95"/><circle cx="464.0" cy="135.6" r="0.95"/><circle cx="456.6" cy="130.7" r="0.95"/><circle cx="456.4" cy="134.2" r="0.95"/><circle cx="462.3" cy="135.9" r="0.95"/><circle cx="467.0" cy="135.6" r="0.95"/><circle cx="473.3" cy="137.1" r="0.95"/><circle cx="469.1" cy="138.5" r="0.95"/><circle cx="466.2" cy="138.2" r="0.95"/><circle cx="472.2" cy="131.8" r="0.95"/><circle cx="459.4" cy="136.2" r="0.95"/><circle cx="461.8" cy="131.0" r="0.95"/><circle cx="458.3" cy="136.6" r="0.95"/><circle cx="462.1" cy="136.5" r="0.95"/><circle cx="455.3" cy="134.6" r="0.95"/><circle cx="459.2" cy="137.5" r="0.95"/><circle cx="463.2" cy="135.8" r="0.95"/><circle cx="454.4" cy="130.4" r="0.95"/><circle cx="463.8" cy="131.8" r="0.95"/><circle cx="457.7" cy="131.9" r="0.95"/><circle cx="458.5" cy="133.8" r="0.95"/><circle cx="462.4" cy="131.4" r="0.95"/><circle cx="451.6" cy="130.7" r="0.95"/><circle cx="456.0" cy="134.2" r="0.95"/><circle cx="460.3" cy="132.8" r="0.95"/><circle cx="472.7" cy="138.6" r="0.95"/><circle cx="464.2" cy="133.1" r="0.95"/><circle cx="465.6" cy="135.3" r="0.95"/><circle cx="469.7" cy="132.4" r="0.95"/><circle cx="452.3" cy="133.9" r="0.95"/><circle cx="463.3" cy="136.7" r="0.95"/><circle cx="453.0" cy="138.9" r="0.95"/><circle cx="459.7" cy="131.2" r="0.95"/><circle cx="457.7" cy="138.3" r="0.95"/><circle cx="459.6" cy="134.8" r="0.95"/><circle cx="471.2" cy="135.9" r="0.95"/><circle cx="457.5" cy="136.5" r="0.95"/><circle cx="473.1" cy="132.4" r="0.95"/><circle cx="456.1" cy="130.9" r="0.95"/><circle cx="453.2" cy="136.8" r="0.95"/><circle cx="468.7" cy="133.6" r="0.95"/><circle cx="468.9" cy="136.2" r="0.95"/><circle cx="471.1" cy="134.2" r="0.95"/><circle cx="469.4" cy="135.7" r="0.95"/><circle cx="471.1" cy="137.6" r="0.95"/><circle cx="457.2" cy="137.4" r="0.95"/><circle cx="462.4" cy="136.9" r="0.95"/><circle cx="455.1" cy="131.6" r="0.95"/><circle cx="464.1" cy="135.1" r="0.95"/><circle cx="454.8" cy="137.2" r="0.95"/><circle cx="461.8" cy="130.9" r="0.95"/><circle cx="457.3" cy="130.8" r="0.95"/><circle cx="467.4" cy="135.2" r="0.95"/><circle cx="464.9" cy="138.2" r="0.95"/><circle cx="472.5" cy="137.5" r="0.95"/><circle cx="452.6" cy="130.1" r="0.95"/><circle cx="455.1" cy="125.6" r="0.95"/><circle cx="454.5" cy="129.8" r="0.95"/><circle cx="464.3" cy="127.4" r="0.95"/><circle cx="461.8" cy="126.9" r="0.95"/><circle cx="467.3" cy="122.3" r="0.95"/><circle cx="458.3" cy="117.5" r="0.95"/><circle cx="472.2" cy="119.8" r="0.95"/><circle cx="473.2" cy="124.4" r="0.95"/><circle cx="460.0" cy="124.7" r="0.95"/><circle cx="457.1" cy="123.2" r="0.95"/><circle cx="471.4" cy="125.0" r="0.95"/><circle cx="462.6" cy="126.3" r="0.95"/><circle cx="471.1" cy="130.2" r="0.95"/><circle cx="453.8" cy="126.8" r="0.95"/><circle cx="462.9" cy="116.2" r="0.95"/><circle cx="455.6" cy="129.1" r="0.95"/><circle cx="473.2" cy="122.9" r="0.95"/><circle cx="464.9" cy="121.0" r="0.95"/><circle cx="468.0" cy="117.6" r="0.95"/><circle cx="471.9" cy="127.6" r="0.95"/><circle cx="470.8" cy="126.7" r="0.95"/><circle cx="452.5" cy="127.0" r="0.95"/><circle cx="453.2" cy="124.8" r="0.95"/><circle cx="472.9" cy="124.1" r="0.95"/><circle cx="467.3" cy="115.8" r="0.95"/><circle cx="462.8" cy="117.9" r="0.95"/><circle cx="453.7" cy="117.5" r="0.95"/><circle cx="461.3" cy="130.7" r="0.95"/><circle cx="469.8" cy="130.9" r="0.95"/><circle cx="454.1" cy="119.7" r="0.95"/><circle cx="452.7" cy="116.9" r="0.95"/><circle cx="465.5" cy="124.1" r="0.95"/><circle cx="472.8" cy="122.3" r="0.95"/><circle cx="454.2" cy="131.5" r="0.95"/><circle cx="468.3" cy="125.0" r="0.95"/><circle cx="473.4" cy="116.7" r="0.95"/><circle cx="454.1" cy="118.0" r="0.95"/><circle cx="454.4" cy="117.8" r="0.95"/><circle cx="465.2" cy="116.2" r="0.95"/><circle cx="451.7" cy="126.9" r="0.95"/><circle cx="472.9" cy="129.3" r="0.95"/><circle cx="457.3" cy="129.1" r="0.95"/><circle cx="453.9" cy="123.2" r="0.95"/><circle cx="471.2" cy="120.5" r="0.95"/><circle cx="464.9" cy="116.0" r="0.95"/><circle cx="464.8" cy="119.9" r="0.95"/><circle cx="468.5" cy="121.0" r="0.95"/><circle cx="454.0" cy="119.0" r="0.95"/><circle cx="465.9" cy="123.7" r="0.95"/><circle cx="453.9" cy="122.3" r="0.95"/><circle cx="469.0" cy="130.6" r="0.95"/><circle cx="459.4" cy="119.3" r="0.95"/><circle cx="464.3" cy="127.4" r="0.95"/><circle cx="463.9" cy="117.0" r="0.95"/><circle cx="459.6" cy="121.0" r="0.95"/><circle cx="464.2" cy="126.8" r="0.95"/><circle cx="465.5" cy="129.0" r="0.95"/><circle cx="464.3" cy="127.1" r="0.95"/><circle cx="461.9" cy="121.4" r="0.95"/><circle cx="451.9" cy="120.2" r="0.95"/><circle cx="458.4" cy="129.5" r="0.95"/><circle cx="469.6" cy="130.1" r="0.95"/><circle cx="465.4" cy="122.8" r="0.95"/><circle cx="457.1" cy="122.1" r="0.95"/><circle cx="463.2" cy="124.9" r="0.95"/><circle cx="468.3" cy="127.7" r="0.95"/><circle cx="459.3" cy="121.6" r="0.95"/><circle cx="469.9" cy="131.4" r="0.95"/><circle cx="472.1" cy="126.3" r="0.95"/><circle cx="453.1" cy="124.1" r="0.95"/><circle cx="452.0" cy="116.4" r="0.95"/><circle cx="466.4" cy="120.9" r="0.95"/><circle cx="461.2" cy="117.5" r="0.95"/><circle cx="455.0" cy="123.6" r="0.95"/><circle cx="468.8" cy="127.7" r="0.95"/><circle cx="464.4" cy="127.0" r="0.95"/><circle cx="456.3" cy="115.9" r="0.95"/><circle cx="452.2" cy="120.2" r="0.95"/><circle cx="464.1" cy="126.7" r="0.95"/><circle cx="463.7" cy="131.2" r="0.95"/><circle cx="461.8" cy="123.4" r="0.95"/><circle cx="457.7" cy="120.6" r="0.95"/><circle cx="472.1" cy="124.6" r="0.95"/><circle cx="451.5" cy="127.1" r="0.95"/><circle cx="455.9" cy="120.8" r="0.95"/><circle cx="462.7" cy="116.6" r="0.95"/><circle cx="471.9" cy="127.9" r="0.95"/><circle cx="453.4" cy="130.3" r="0.95"/><circle cx="466.9" cy="126.0" r="0.95"/><circle cx="465.9" cy="124.6" r="0.95"/><circle cx="452.3" cy="120.4" r="0.95"/><circle cx="469.9" cy="128.2" r="0.95"/><circle cx="452.5" cy="118.4" r="0.95"/><circle cx="471.4" cy="119.6" r="0.95"/><circle cx="455.1" cy="123.4" r="0.95"/><circle cx="471.8" cy="128.3" r="0.95"/><circle cx="465.7" cy="116.2" r="0.95"/><circle cx="453.4" cy="126.3" r="0.95"/><circle cx="469.3" cy="118.2" r="0.95"/><circle cx="454.7" cy="127.9" r="0.95"/><circle cx="467.0" cy="127.3" r="0.95"/><circle cx="452.9" cy="119.3" r="0.95"/><circle cx="472.5" cy="126.7" r="0.95"/><circle cx="470.8" cy="115.9" r="0.95"/><circle cx="464.2" cy="123.2" r="0.95"/><circle cx="458.8" cy="128.0" r="0.95"/><circle cx="461.7" cy="127.3" r="0.95"/><circle cx="465.9" cy="124.8" r="0.95"/><circle cx="471.4" cy="121.0" r="0.95"/><circle cx="453.2" cy="83.0" r="0.95"/><circle cx="463.4" cy="114.1" r="0.95"/><circle cx="462.3" cy="109.6" r="0.95"/><circle cx="467.0" cy="112.6" r="0.95"/><circle cx="473.1" cy="77.7" r="0.95"/><circle cx="471.3" cy="113.8" r="0.95"/><circle cx="458.7" cy="115.0" r="0.95"/><circle cx="467.1" cy="114.8" r="0.95"/><circle cx="457.6" cy="109.9" r="0.95"/><circle cx="467.2" cy="90.1" r="0.95"/><circle cx="455.0" cy="91.8" r="0.95"/><circle cx="466.0" cy="100.6" r="0.95"/><circle cx="457.5" cy="78.1" r="0.95"/><circle cx="457.4" cy="86.1" r="0.95"/><circle cx="458.2" cy="110.7" r="0.95"/><circle cx="462.2" cy="113.5" r="0.95"/><circle cx="468.6" cy="84.8" r="0.95"/><circle cx="467.0" cy="100.4" r="0.95"/><circle cx="462.1" cy="115.2" r="0.95"/><circle cx="463.0" cy="103.2" r="0.95"/><circle cx="466.8" cy="109.9" r="0.95"/><circle cx="458.3" cy="110.6" r="0.95"/><circle cx="464.0" cy="111.0" r="0.95"/><circle cx="467.1" cy="113.4" r="0.95"/><circle cx="459.9" cy="115.5" r="0.95"/><circle cx="452.0" cy="111.7" r="0.95"/><circle cx="452.4" cy="111.1" r="0.95"/><circle cx="471.5" cy="81.3" r="0.95"/></g>
<line x1="373.5" y1="136.7" x2="373.5" y2="133.1" stroke="#555" stroke-width="0.9" stroke-opacity="0.8"/>
<circle cx="373.5" cy="135.2" r="1.0" fill="#111"/>
<line x1="417.5" y1="138.8" x2="417.5" y2="88.1" stroke="#555" stroke-width="0.9" stroke-opacity="0.8"/>
<circle cx="417.5" cy="111.5" r="1.0" fill="#111"/>
<line x1="462.5" y1="139.1" x2="462.5" y2="121.4" stroke="#555" stroke-width="0.9" stroke-opacity="0.8"/>
<circle cx="462.5" cy="131.9" r="1.0" fill="#111"/>
<path d="M373 45.7V44.5H462.5V45.7" fill="none" stroke="#9a9a9a" stroke-width="0.9"/>
<text x="418.4" y="41.9" font-size="7.5" text-anchor="middle" fill="#1a1a1a">ns</text>
<path d="M373 61.7V60.5H417.5V61.7" fill="none" stroke="#9a9a9a" stroke-width="0.9"/>
<rect x="394" y="58" width="3" height="1" fill="#555"/>
<path d="M417.5 77.7V76.5H462.5V77.7" fill="none" stroke="#9a9a9a" stroke-width="0.9"/>
<rect x="438" y="74" width="3" height="1" fill="#555"/>
<rect x="346.5" y="19.5" width="143.0" height="128.0" fill="none" stroke="#b4b4b4" stroke-width="1"/>
<line x1="344.9" y1="139.1" x2="346.5" y2="139.1" stroke="#555" stroke-width="0.7"/>
<text x="342.3" y="141.6" font-size="7.1" text-anchor="end" fill="#222">0</text>
<line x1="344.9" y1="107.6" x2="346.5" y2="107.6" stroke="#555" stroke-width="0.7"/>
<text x="342.3" y="110.1" font-size="7.1" text-anchor="end" fill="#222">2000</text>
<line x1="344.9" y1="76.1" x2="346.5" y2="76.1" stroke="#555" stroke-width="0.7"/>
<text x="342.3" y="78.6" font-size="7.1" text-anchor="end" fill="#222">4000</text>
<line x1="344.9" y1="44.6" x2="346.5" y2="44.6" stroke="#555" stroke-width="0.7"/>
<text x="342.3" y="47.1" font-size="7.1" text-anchor="end" fill="#222">6000</text>
<line x1="373" y1="147.5" x2="373" y2="149.0" stroke="#555" stroke-width="0.7"/>
<text x="373" y="157.3" font-size="6.9" text-anchor="middle" fill="#222">Tumor_Free_Lung</text>
<line x1="417.5" y1="147.5" x2="417.5" y2="149.0" stroke="#555" stroke-width="0.7"/>
<text x="417.5" y="157.3" font-size="6.9" text-anchor="middle" fill="#222">Stroma</text>
<line x1="462.5" y1="147.5" x2="462.5" y2="149.0" stroke="#555" stroke-width="0.7"/>
<text x="462.5" y="157.3" font-size="6.9" text-anchor="middle" fill="#222">Tumor</text>
<text x="315.5" y="83.4" font-size="7" text-anchor="middle" fill="#222" transform="rotate(-90 315.5 83.4)">CD45+ pHH3- pSMAD2L- density</text>
<text x="417.9" y="14.3" font-size="7" text-anchor="middle" fill="#222">Non-mitotic</text>
<g fill="#a0a0a0" fill-opacity="0.5"><circle cx="543.1" cy="138.9" r="0.95"/><circle cx="545.8" cy="138.8" r="0.95"/><circle cx="553.9" cy="138.7" r="0.95"/><circle cx="555.9" cy="138.4" r="0.95"/><circle cx="558.0" cy="138.1" r="0.95"/><circle cx="556.3" cy="137.8" r="0.95"/><circle cx="545.2" cy="138.5" r="0.95"/><circle cx="547.6" cy="127.2" r="0.95"/><circle cx="558.9" cy="138.5" r="0.95"/><circle cx="550.4" cy="138.6" r="0.95"/></g>
<g fill="#4a72c0" fill-opacity="0.5"><circle cx="604.6" cy="138.1" r="0.95"/><circle cx="593.1" cy="138.7" r="0.95"/><circle cx="597.0" cy="132.9" r="0.95"/><circle cx="590.9" cy="138.2" r="0.95"/><circle cx="599.9" cy="138.4" r="0.95"/><circle cx="605.8" cy="138.2" r="0.95"/><circle cx="606.5" cy="138.4" r="0.95"/><circle cx="596.5" cy="138.3" r="0.95"/><circle cx="593.1" cy="133.4" r="0.95"/><circle cx="596.2" cy="138.9" r="0.95"/><circle cx="602.0" cy="137.5" r="0.95"/><circle cx="591.3" cy="131.3" r="0.95"/><circle cx="586.4" cy="138.9" r="0.95"/><circle cx="604.0" cy="138.0" r="0.95"/><circle cx="606.1" cy="138.7" r="0.95"/><circle cx="593.8" cy="138.5" r="0.95"/><circle cx="598.6" cy="138.5" r="0.95"/><circle cx="604.3" cy="130.6" r="0.95"/><circle cx="592.4" cy="138.2" r="0.95"/><circle cx="602.3" cy="138.7" r="0.95"/><circle cx="599.6" cy="137.9" r="0.95"/><circle cx="586.9" cy="138.8" r="0.95"/><circle cx="593.2" cy="138.4" r="0.95"/><circle cx="606.6" cy="137.7" r="0.95"/><circle cx="599.2" cy="133.8" r="0.95"/><circle cx="597.5" cy="133.9" r="0.95"/><circle cx="588.7" cy="138.7" r="0.95"/><circle cx="606.5" cy="138.8" r="0.95"/><circle cx="602.6" cy="138.7" r="0.95"/><circle cx="601.0" cy="138.5" r="0.95"/><circle cx="603.3" cy="137.9" r="0.95"/><circle cx="599.0" cy="138.5" r="0.95"/><circle cx="589.1" cy="138.4" r="0.95"/><circle cx="592.4" cy="131.7" r="0.95"/><circle cx="602.4" cy="137.4" r="0.95"/><circle cx="607.1" cy="138.1" r="0.95"/><circle cx="586.6" cy="138.4" r="0.95"/><circle cx="586.9" cy="138.9" r="0.95"/><circle cx="593.1" cy="138.3" r="0.95"/><circle cx="604.0" cy="138.6" r="0.95"/><circle cx="599.1" cy="138.2" r="0.95"/><circle cx="595.3" cy="138.9" r="0.95"/><circle cx="591.3" cy="138.5" r="0.95"/><circle cx="595.7" cy="138.3" r="0.95"/><circle cx="588.4" cy="138.5" r="0.95"/><circle cx="602.8" cy="138.3" r="0.95"/><circle cx="586.5" cy="138.7" r="0.95"/><circle cx="588.2" cy="138.5" r="0.95"/><circle cx="586.2" cy="138.4" r="0.95"/><circle cx="588.4" cy="138.3" r="0.95"/><circle cx="594.5" cy="138.4" r="0.95"/><circle cx="594.8" cy="138.3" r="0.95"/><circle cx="594.1" cy="132.5" r="0.95"/><circle cx="591.4" cy="138.8" r="0.95"/><circle cx="589.4" cy="138.2" r="0.95"/><circle cx="597.3" cy="135.6" r="0.95"/><circle cx="601.1" cy="136.7" r="0.95"/><circle cx="600.1" cy="136.5" r="0.95"/><circle cx="605.6" cy="138.4" r="0.95"/><circle cx="594.7" cy="128.8" r="0.95"/><circle cx="596.9" cy="138.2" r="0.95"/><circle cx="599.9" cy="138.4" r="0.95"/><circle cx="600.8" cy="138.4" r="0.95"/><circle cx="595.2" cy="138.6" r="0.95"/><circle cx="601.0" cy="138.7" r="0.95"/><circle cx="594.6" cy="138.2" r="0.95"/><circle cx="587.7" cy="138.3" r="0.95"/><circle cx="589.2" cy="138.3" r="0.95"/><circle cx="599.8" cy="138.4" r="0.95"/><circle cx="605.2" cy="138.2" r="0.95"/><circle cx="590.6" cy="138.2" r="0.95"/><circle cx="588.4" cy="138.6" r="0.95"/><circle cx="597.9" cy="138.3" r="0.95"/><circle cx="603.0" cy="138.5" r="0.95"/><circle cx="594.6" cy="138.5" r="0.95"/><circle cx="599.6" cy="138.2" r="0.95"/><circle cx="587.2" cy="138.4" r="0.95"/><circle cx="606.0" cy="119.6" r="0.95"/><circle cx="599.3" cy="138.1" r="0.95"/><circle cx="602.2" cy="138.9" r="0.95"/><circle cx="593.4" cy="138.4" r="0.95"/><circle cx="596.5" cy="136.6" r="0.95"/><circle cx="589.8" cy="136.6" r="0.95"/><circle cx="600.3" cy="136.5" r="0.95"/><circle cx="606.2" cy="138.8" r="0.95"/><circle cx="604.4" cy="138.9" r="0.95"/><circle cx="603.6" cy="137.9" r="0.95"/><circle cx="588.1" cy="138.8" r="0.95"/><circle cx="604.4" cy="138.5" r="0.95"/><circle cx="598.8" cy="138.2" r="0.95"/><circle cx="594.5" cy="138.3" r="0.95"/><circle cx="597.3" cy="138.3" r="0.95"/><circle cx="587.9" cy="138.5" r="0.95"/><circle cx="597.8" cy="138.5" r="0.95"/><circle cx="591.7" cy="138.5" r="0.95"/><circle cx="591.3" cy="138.7" r="0.95"/><circle cx="589.8" cy="135.5" r="0.95"/><circle cx="597.4" cy="137.9" r="0.95"/><circle cx="587.0" cy="137.8" r="0.95"/><circle cx="596.7" cy="138.8" r="0.95"/><circle cx="589.7" cy="132.5" r="0.95"/><circle cx="591.9" cy="138.8" r="0.95"/><circle cx="590.3" cy="138.5" r="0.95"/><circle cx="585.9" cy="138.2" r="0.95"/><circle cx="600.8" cy="131.0" r="0.95"/><circle cx="587.7" cy="138.5" r="0.95"/><circle cx="605.9" cy="138.5" r="0.95"/><circle cx="597.5" cy="138.1" r="0.95"/><circle cx="596.3" cy="138.2" r="0.95"/><circle cx="604.6" cy="138.6" r="0.95"/><circle cx="592.8" cy="138.3" r="0.95"/><circle cx="589.3" cy="138.7" r="0.95"/><circle cx="603.7" cy="138.4" r="0.95"/><circle cx="598.5" cy="138.4" r="0.95"/><circle cx="589.6" cy="138.2" r="0.95"/><circle cx="601.4" cy="138.3" r="0.95"/><circle cx="597.6" cy="137.9" r="0.95"/><circle cx="585.7" cy="138.3" r="0.95"/><circle cx="599.6" cy="138.7" r="0.95"/><circle cx="607.0" cy="138.6" r="0.95"/><circle cx="596.7" cy="138.1" r="0.95"/><circle cx="606.3" cy="138.5" r="0.95"/><circle cx="604.1" cy="133.2" r="0.95"/><circle cx="603.6" cy="138.5" r="0.95"/><circle cx="590.0" cy="138.4" r="0.95"/><circle cx="586.9" cy="138.2" r="0.95"/><circle cx="590.0" cy="120.3" r="0.95"/><circle cx="589.0" cy="133.1" r="0.95"/><circle cx="598.8" cy="138.8" r="0.95"/><circle cx="606.1" cy="136.2" r="0.95"/><circle cx="600.2" cy="130.3" r="0.95"/><circle cx="604.9" cy="138.8" r="0.95"/><circle cx="602.0" cy="138.3" r="0.95"/><circle cx="591.0" cy="138.9" r="0.95"/><circle cx="606.5" cy="137.9" r="0.95"/><circle cx="592.6" cy="138.3" r="0.95"/><circle cx="600.1" cy="138.8" r="0.95"/><circle cx="602.8" cy="137.8" r="0.95"/><circle cx="593.9" cy="138.7" r="0.95"/><circle cx="599.6" cy="138.6" r="0.95"/><circle cx="604.4" cy="138.0" r="0.95"/><circle cx="585.5" cy="138.2" r="0.95"/><circle cx="587.3" cy="138.3" r="0.95"/><circle cx="587.1" cy="138.5" r="0.95"/><circle cx="590.2" cy="138.2" r="0.95"/><circle cx="601.8" cy="136.0" r="0.95"/><circle cx="594.2" cy="138.6" r="0.95"/><circle cx="597.4" cy="138.6" r="0.95"/><circle cx="596.4" cy="135.3" r="0.95"/><circle cx="595.4" cy="138.5" r="0.95"/><circle cx="600.4" cy="135.4" r="0.95"/><circle cx="600.4" cy="138.8" r="0.95"/><circle cx="601.9" cy="136.7" r="0.95"/><circle cx="593.0" cy="138.3" r="0.95"/><circle cx="587.2" cy="137.7" r="0.95"/><circle cx="604.6" cy="138.8" r="0.95"/><circle cx="589.2" cy="135.9" r="0.95"/><circle cx="603.0" cy="138.6" r="0.95"/><circle cx="604.1" cy="138.3" r="0.95"/><circle cx="592.6" cy="138.5" r="0.95"/><circle cx="601.2" cy="138.4" r="0.95"/><circle cx="591.8" cy="138.4" r="0.95"/><circle cx="593.8" cy="138.5" r="0.95"/><circle cx="590.1" cy="138.6" r="0.95"/><circle cx="600.7" cy="138.4" r="0.95"/><circle cx="599.8" cy="138.5" r="0.95"/><circle cx="585.5" cy="138.9" r="0.95"/><circle cx="591.5" cy="138.6" r="0.95"/><circle cx="606.3" cy="138.1" r="0.95"/><circle cx="586.6" cy="138.1" r="0.95"/><circle cx="588.6" cy="138.7" r="0.95"/><circle cx="596.6" cy="133.2" r="0.95"/><circle cx="591.2" cy="138.5" r="0.95"/><circle cx="589.0" cy="138.2" r="0.95"/><circle cx="605.1" cy="138.5" r="0.95"/><circle cx="590.3" cy="138.6" r="0.95"/><circle cx="587.7" cy="134.2" r="0.95"/><circle cx="599.5" cy="138.1" r="0.95"/><circle cx="597.3" cy="138.3" r="0.95"/><circle cx="601.6" cy="138.6" r="0.95"/><circle cx="605.2" cy="138.6" r="0.95"/><circle cx="589.2" cy="138.3" r="0.95"/><circle cx="600.7" cy="138.8" r="0.95"/><circle cx="586.6" cy="138.5" r="0.95"/><circle cx="591.4" cy="138.3" r="0.95"/><circle cx="604.4" cy="138.0" r="0.95"/><circle cx="601.6" cy="138.8" r="0.95"/><circle cx="591.3" cy="138.4" r="0.95"/><circle cx="593.5" cy="134.4" r="0.95"/><circle cx="596.9" cy="138.6" r="0.95"/><circle cx="588.9" cy="134.3" r="0.95"/><circle cx="588.7" cy="138.4" r="0.95"/><circle cx="603.9" cy="138.8" r="0.95"/><circle cx="593.3" cy="139.0" r="0.95"/><circle cx="586.0" cy="138.9" r="0.95"/><circle cx="589.6" cy="134.3" r="0.95"/><circle cx="602.0" cy="134.2" r="0.95"/><circle cx="601.7" cy="138.0" r="0.95"/><circle cx="587.9" cy="136.0" r="0.95"/><circle cx="587.1" cy="138.5" r="0.95"/><circle cx="592.8" cy="138.7" r="0.95"/><circle cx="596.0" cy="138.9" r="0.95"/><circle cx="603.8" cy="138.3" r="0.95"/><circle cx="605.4" cy="138.9" r="0.95"/><circle cx="597.6" cy="137.3" r="0.95"/><circle cx="588.9" cy="137.1" r="0.95"/><circle cx="590.0" cy="138.0" r="0.95"/><circle cx="598.7" cy="135.1" r="0.95"/><circle cx="602.1" cy="138.4" r="0.95"/><circle cx="603.4" cy="137.9" r="0.95"/><circle cx="603.8" cy="134.6" r="0.95"/><circle cx="599.1" cy="136.5" r="0.95"/><circle cx="600.5" cy="135.7" r="0.95"/><circle cx="601.1" cy="138.6" r="0.95"/><circle cx="588.3" cy="138.2" r="0.95"/><circle cx="601.7" cy="137.7" r="0.95"/><circle cx="599.1" cy="138.3" r="0.95"/><circle cx="600.9" cy="138.2" r="0.95"/><circle cx="595.7" cy="138.5" r="0.95"/><circle cx="601.7" cy="138.2" r="0.95"/><circle cx="596.4" cy="138.3" r="0.95"/><circle cx="598.2" cy="138.2" r="0.95"/><circle cx="589.7" cy="138.2" r="0.95"/><circle cx="604.9" cy="131.1" r="0.95"/><circle cx="604.6" cy="138.6" r="0.95"/><circle cx="591.1" cy="130.5" r="0.95"/><circle cx="585.4" cy="138.6" r="0.95"/><circle cx="599.1" cy="138.3" r="0.95"/><circle cx="596.6" cy="133.0" r="0.95"/><circle cx="600.0" cy="138.4" r="0.95"/><circle cx="605.2" cy="135.4" r="0.95"/><circle cx="586.8" cy="138.8" r="0.95"/><circle cx="604.7" cy="137.7" r="0.95"/><circle cx="600.9" cy="138.8" r="0.95"/><circle cx="604.6" cy="138.1" r="0.95"/><circle cx="603.6" cy="138.4" r="0.95"/><circle cx="602.8" cy="138.7" r="0.95"/><circle cx="595.4" cy="136.6" r="0.95"/><circle cx="602.9" cy="135.8" r="0.95"/><circle cx="606.3" cy="138.6" r="0.95"/><circle cx="601.4" cy="138.5" r="0.95"/><circle cx="594.0" cy="138.5" r="0.95"/><circle cx="596.4" cy="138.3" r="0.95"/><circle cx="590.9" cy="138.6" r="0.95"/><circle cx="603.8" cy="138.1" r="0.95"/><circle cx="600.3" cy="138.6" r="0.95"/><circle cx="597.8" cy="138.7" r="0.95"/><circle cx="585.4" cy="138.1" r="0.95"/><circle cx="606.5" cy="138.1" r="0.95"/><circle cx="595.5" cy="138.2" r="0.95"/><circle cx="590.8" cy="138.7" r="0.95"/><circle cx="585.9" cy="138.6" r="0.95"/><circle cx="602.8" cy="137.8" r="0.95"/><circle cx="590.9" cy="138.9" r="0.95"/><circle cx="593.4" cy="138.4" r="0.95"/><circle cx="606.1" cy="138.4" r="0.95"/><circle cx="600.2" cy="138.1" r="0.95"/><circle cx="585.3" cy="135.1" r="0.95"/><circle cx="587.5" cy="138.7" r="0.95"/><circle cx="590.7" cy="138.7" r="0.95"/><circle cx="600.1" cy="138.3" r="0.95"/><circle cx="600.8" cy="138.4" r="0.95"/><circle cx="596.8" cy="138.1" r="0.95"/><circle cx="603.5" cy="138.7" r="0.95"/><circle cx="598.0" cy="137.9" r="0.95"/><circle cx="592.7" cy="138.0" r="0.95"/><circle cx="592.4" cy="135.3" r="0.95"/><circle cx="597.6" cy="138.3" r="0.95"/><circle cx="590.5" cy="138.4" r="0.95"/><circle cx="585.5" cy="138.0" r="0.95"/><circle cx="595.1" cy="137.7" r="0.95"/><circle cx="604.8" cy="138.3" r="0.95"/><circle cx="601.7" cy="138.6" r="0.95"/><circle cx="592.1" cy="138.5" r="0.95"/><circle cx="607.0" cy="138.6" r="0.95"/><circle cx="593.7" cy="138.9" r="0.95"/><circle cx="590.9" cy="138.7" r="0.95"/><circle cx="592.0" cy="138.5" r="0.95"/><circle cx="592.1" cy="138.6" r="0.95"/><circle cx="604.6" cy="138.7" r="0.95"/><circle cx="589.2" cy="134.6" r="0.95"/><circle cx="601.1" cy="138.5" r="0.95"/><circle cx="603.9" cy="137.9" r="0.95"/><circle cx="598.4" cy="138.5" r="0.95"/><circle cx="602.3" cy="136.8" r="0.95"/><circle cx="586.6" cy="138.6" r="0.95"/><circle cx="591.1" cy="138.6" r="0.95"/><circle cx="593.9" cy="138.5" r="0.95"/><circle cx="597.0" cy="138.4" r="0.95"/><circle cx="604.8" cy="138.3" r="0.95"/><circle cx="591.2" cy="138.2" r="0.95"/><circle cx="587.7" cy="138.7" r="0.95"/><circle cx="605.4" cy="138.1" r="0.95"/><circle cx="593.1" cy="137.1" r="0.95"/><circle cx="604.2" cy="138.8" r="0.95"/><circle cx="607.0" cy="136.6" r="0.95"/><circle cx="586.7" cy="138.3" r="0.95"/><circle cx="596.3" cy="134.2" r="0.95"/><circle cx="590.8" cy="134.8" r="0.95"/><circle cx="600.2" cy="138.0" r="0.95"/><circle cx="587.9" cy="138.4" r="0.95"/><circle cx="587.2" cy="138.1" r="0.95"/><circle cx="587.5" cy="138.8" r="0.95"/><circle cx="604.5" cy="138.0" r="0.95"/><circle cx="602.9" cy="138.7" r="0.95"/><circle cx="599.5" cy="138.4" r="0.95"/><circle cx="603.2" cy="138.1" r="0.95"/><circle cx="586.2" cy="138.6" r="0.95"/><circle cx="590.1" cy="138.9" r="0.95"/><circle cx="601.8" cy="138.1" r="0.95"/><circle cx="587.3" cy="138.6" r="0.95"/><circle cx="588.4" cy="138.6" r="0.95"/><circle cx="600.0" cy="135.9" r="0.95"/><circle cx="595.7" cy="138.1" r="0.95"/><circle cx="604.4" cy="138.4" r="0.95"/><circle cx="600.4" cy="138.6" r="0.95"/><circle cx="586.5" cy="138.8" r="0.95"/><circle cx="602.3" cy="138.4" r="0.95"/><circle cx="598.2" cy="137.8" r="0.95"/><circle cx="601.8" cy="138.4" r="0.95"/><circle cx="591.3" cy="138.4" r="0.95"/><circle cx="589.9" cy="136.7" r="0.95"/><circle cx="596.7" cy="138.9" r="0.95"/><circle cx="601.0" cy="138.2" r="0.95"/><circle cx="596.4" cy="138.4" r="0.95"/><circle cx="597.9" cy="138.4" r="0.95"/><circle cx="596.4" cy="138.7" r="0.95"/><circle cx="604.6" cy="136.1" r="0.95"/><circle cx="602.5" cy="138.5" r="0.95"/><circle cx="587.8" cy="136.8" r="0.95"/><circle cx="592.1" cy="119.6" r="0.95"/><circle cx="596.0" cy="120.7" r="0.95"/></g>
<g fill="#e8501e" fill-opacity="0.5"><circle cx="652.7" cy="138.6" r="0.95"/><circle cx="638.9" cy="138.6" r="0.95"/><circle cx="651.0" cy="138.2" r="0.95"/><circle cx="644.5" cy="138.9" r="0.95"/><circle cx="639.0" cy="137.7" r="0.95"/><circle cx="648.4" cy="138.3" r="0.95"/><circle cx="633.9" cy="138.6" r="0.95"/><circle cx="639.8" cy="138.4" r="0.95"/><circle cx="640.9" cy="138.8" r="0.95"/><circle cx="650.4" cy="138.9" r="0.95"/><circle cx="647.6" cy="138.3" r="0.95"/><circle cx="638.8" cy="138.1" r="0.95"/><circle cx="635.1" cy="138.4" r="0.95"/><circle cx="634.6" cy="138.6" r="0.95"/><circle cx="633.6" cy="138.6" r="0.95"/><circle cx="639.7" cy="138.2" r="0.95"/><circle cx="645.8" cy="138.4" r="0.95"/><circle cx="631.2" cy="138.6" r="0.95"/><circle cx="647.3" cy="138.8" r="0.95"/><circle cx="637.2" cy="138.2" r="0.95"/><circle cx="646.0" cy="138.2" r="0.95"/><circle cx="652.0" cy="138.7" r="0.95"/><circle cx="642.8" cy="138.2" r="0.95"/><circle cx="636.9" cy="135.6" r="0.95"/><circle cx="652.3" cy="138.3" r="0.95"/><circle cx="643.7" cy="138.2" r="0.95"/><circle cx="652.1" cy="138.8" r="0.95"/><circle cx="648.6" cy="138.7" r="0.95"/><circle cx="634.7" cy="138.2" r="0.95"/><circle cx="631.6" cy="138.4" r="0.95"/><circle cx="632.5" cy="138.2" r="0.95"/><circle cx="634.5" cy="138.7" r="0.95"/><circle cx="648.1" cy="138.4" r="0.95"/><circle cx="652.1" cy="138.1" r="0.95"/><circle cx="633.8" cy="138.2" r="0.95"/><circle cx="648.4" cy="138.2" r="0.95"/><circle cx="648.1" cy="138.6" r="0.95"/><circle cx="648.3" cy="138.4" r="0.95"/><circle cx="631.6" cy="138.2" r="0.95"/><circle cx="646.6" cy="138.6" r="0.95"/><circle cx="647.5" cy="138.1" r="0.95"/><circle cx="636.8" cy="138.3" r="0.95"/><circle cx="649.4" cy="138.6" r="0.95"/><circle cx="634.1" cy="138.7" r="0.95"/><circle cx="631.6" cy="138.5" r="0.95"/><circle cx="636.4" cy="138.6" r="0.95"/><circle cx="646.5" cy="138.6" r="0.95"/><circle cx="635.0" cy="138.0" r="0.95"/><circle cx="644.8" cy="138.7" r="0.95"/><circle cx="630.9" cy="138.7" r="0.95"/><circle cx="650.4" cy="138.1" r="0.95"/><circle cx="642.1" cy="138.7" r="0.95"/><circle cx="651.1" cy="138.7" r="0.95"/><circle cx="642.0" cy="138.7" r="0.95"/><circle cx="641.5" cy="138.0" r="0.95"/><circle cx="642.7" cy="138.3" r="0.95"/><circle cx="638.1" cy="138.5" r="0.95"/><circle cx="635.6" cy="138.3" r="0.95"/><circle cx="647.1" cy="138.8" r="0.95"/><circle cx="640.7" cy="138.8" r="0.95"/><circle cx="633.5" cy="138.5" r="0.95"/><circle cx="647.1" cy="138.4" r="0.95"/><circle cx="639.2" cy="138.3" r="0.95"/><circle cx="651.8" cy="138.6" r="0.95"/><circle cx="645.1" cy="138.4" r="0.95"/><circle cx="633.2" cy="138.5" r="0.95"/><circle cx="639.6" cy="138.7" r="0.95"/><circle cx="645.3" cy="138.7" r="0.95"/><circle cx="643.2" cy="138.7" r="0.95"/><circle cx="633.6" cy="138.9" r="0.95"/><circle cx="643.5" cy="138.7" r="0.95"/><circle cx="634.9" cy="138.1" r="0.95"/><circle cx="646.2" cy="138.6" r="0.95"/><circle cx="645.4" cy="138.3" r="0.95"/><circle cx="641.4" cy="138.7" r="0.95"/><circle cx="644.8" cy="138.9" r="0.95"/><circle cx="632.7" cy="138.7" r="0.95"/><circle cx="631.0" cy="138.7" r="0.95"/><circle cx="642.5" cy="138.2" r="0.95"/><circle cx="639.9" cy="138.7" r="0.95"/><circle cx="649.8" cy="138.0" r="0.95"/><circle cx="641.9" cy="138.7" r="0.95"/><circle cx="633.3" cy="138.7" r="0.95"/><circle cx="651.4" cy="138.4" r="0.95"/><circle cx="635.3" cy="138.2" r="0.95"/><circle cx="635.5" cy="138.3" r="0.95"/><circle cx="646.3" cy="138.7" r="0.95"/><circle cx="643.0" cy="138.9" r="0.95"/><circle cx="640.1" cy="138.7" r="0.95"/><circle cx="630.7" cy="138.4" r="0.95"/><circle cx="631.2" cy="138.2" r="0.95"/><circle cx="648.5" cy="138.0" r="0.95"/><circle cx="637.3" cy="136.8" r="0.95"/><circle cx="642.3" cy="138.0" r="0.95"/><circle cx="633.1" cy="138.7" r="0.95"/><circle cx="639.6" cy="138.2" r="0.95"/><circle cx="641.2" cy="138.3" r="0.95"/><circle cx="652.7" cy="138.2" r="0.95"/><circle cx="634.7" cy="138.0" r="0.95"/><circle cx="642.8" cy="139.0" r="0.95"/><circle cx="647.8" cy="138.3" r="0.95"/><circle cx="642.6" cy="138.5" r="0.95"/><circle cx="652.2" cy="138.7" r="0.95"/><circle cx="644.0" cy="138.3" r="0.95"/><circle cx="640.3" cy="138.4" r="0.95"/><circle cx="639.0" cy="138.5" r="0.95"/><circle cx="632.7" cy="138.4" r="0.95"/><circle cx="652.4" cy="138.5" r="0.95"/><circle cx="641.8" cy="138.4" r="0.95"/><circle cx="648.6" cy="138.6" r="0.95"/><circle cx="639.1" cy="138.8" r="0.95"/><circle cx="635.1" cy="138.6" r="0.95"/><circle cx="631.1" cy="138.1" r="0.95"/><circle cx="634.6" cy="138.4" r="0.95"/><circle cx="646.9" cy="138.2" r="0.95"/><circle cx="650.0" cy="138.1" r="0.95"/><circle cx="651.6" cy="138.9" r="0.95"/><circle cx="644.2" cy="138.7" r="0.95"/><circle cx="651.4" cy="138.4" r="0.95"/><circle cx="649.5" cy="138.0" r="0.95"/><circle cx="647.9" cy="134.5" r="0.95"/><circle cx="647.8" cy="138.2" r="0.95"/><circle cx="632.5" cy="138.3" r="0.95"/><circle cx="644.0" cy="138.6" r="0.95"/><circle cx="634.6" cy="138.6" r="0.95"/><circle cx="652.0" cy="133.5" r="0.95"/><circle cx="648.7" cy="138.8" r="0.95"/><circle cx="645.5" cy="138.3" r="0.95"/><circle cx="639.9" cy="138.4" r="0.95"/><circle cx="633.4" cy="138.0" r="0.95"/><circle cx="636.9" cy="138.2" r="0.95"/><circle cx="650.5" cy="138.4" r="0.95"/><circle cx="650.0" cy="138.6" r="0.95"/><circle cx="650.5" cy="138.8" r="0.95"/><circle cx="646.3" cy="138.3" r="0.95"/><circle cx="636.1" cy="138.5" r="0.95"/><circle cx="637.6" cy="138.6" r="0.95"/><circle cx="631.6" cy="138.6" r="0.95"/><circle cx="638.2" cy="138.3" r="0.95"/><circle cx="642.6" cy="139.0" r="0.95"/><circle cx="652.6" cy="138.4" r="0.95"/><circle cx="651.8" cy="138.9" r="0.95"/><circle cx="642.3" cy="138.4" r="0.95"/><circle cx="635.0" cy="138.7" r="0.95"/><circle cx="641.4" cy="138.7" r="0.95"/><circle cx="651.0" cy="138.7" r="0.95"/><circle cx="646.0" cy="138.4" r="0.95"/><circle cx="633.6" cy="138.4" r="0.95"/><circle cx="632.1" cy="138.2" r="0.95"/><circle cx="652.3" cy="138.2" r="0.95"/><circle cx="633.7" cy="138.4" r="0.95"/><circle cx="632.0" cy="138.5" r="0.95"/><circle cx="635.7" cy="138.3" r="0.95"/><circle cx="644.7" cy="138.8" r="0.95"/><circle cx="631.0" cy="138.6" r="0.95"/><circle cx="643.5" cy="138.5" r="0.95"/><circle cx="640.0" cy="138.1" r="0.95"/><circle cx="638.4" cy="138.5" r="0.95"/><circle cx="638.1" cy="139.0" r="0.95"/><circle cx="638.2" cy="138.9" r="0.95"/><circle cx="648.5" cy="138.8" r="0.95"/><circle cx="641.5" cy="138.6" r="0.95"/><circle cx="649.3" cy="138.3" r="0.95"/><circle cx="635.6" cy="132.6" r="0.95"/><circle cx="641.5" cy="138.5" r="0.95"/><circle cx="651.7" cy="138.9" r="0.95"/><circle cx="639.6" cy="138.4" r="0.95"/><circle cx="633.0" cy="138.7" r="0.95"/><circle cx="642.1" cy="137.5" r="0.95"/><circle cx="650.0" cy="138.2" r="0.95"/><circle cx="634.9" cy="138.5" r="0.95"/><circle cx="652.6" cy="138.0" r="0.95"/><circle cx="636.6" cy="138.7" r="0.95"/><circle cx="638.1" cy="132.3" r="0.95"/><circle cx="631.1" cy="138.3" r="0.95"/><circle cx="637.5" cy="138.8" r="0.95"/><circle cx="632.9" cy="137.9" r="0.95"/><circle cx="650.2" cy="138.8" r="0.95"/><circle cx="648.4" cy="138.0" r="0.95"/><circle cx="641.3" cy="138.3" r="0.95"/><circle cx="633.4" cy="129.5" r="0.95"/><circle cx="646.9" cy="138.6" r="0.95"/><circle cx="633.6" cy="138.4" r="0.95"/><circle cx="632.2" cy="138.8" r="0.95"/><circle cx="647.3" cy="138.6" r="0.95"/><circle cx="651.8" cy="138.9" r="0.95"/><circle cx="635.2" cy="138.2" r="0.95"/><circle cx="634.9" cy="138.4" r="0.95"/><circle cx="643.8" cy="138.6" r="0.95"/><circle cx="647.7" cy="138.3" r="0.95"/><circle cx="637.6" cy="138.5" r="0.95"/><circle cx="651.6" cy="138.1" r="0.95"/><circle cx="641.4" cy="138.3" r="0.95"/><circle cx="647.1" cy="138.5" r="0.95"/><circle cx="649.2" cy="138.7" r="0.95"/><circle cx="651.8" cy="138.6" r="0.95"/><circle cx="643.8" cy="139.0" r="0.95"/><circle cx="648.4" cy="138.4" r="0.95"/><circle cx="633.0" cy="138.9" r="0.95"/><circle cx="632.1" cy="138.6" r="0.95"/><circle cx="651.2" cy="138.6" r="0.95"/><circle cx="651.6" cy="138.6" r="0.95"/><circle cx="647.1" cy="138.6" r="0.95"/><circle cx="635.6" cy="138.1" r="0.95"/><circle cx="647.0" cy="138.5" r="0.95"/><circle cx="633.4" cy="138.5" r="0.95"/><circle cx="636.5" cy="138.4" r="0.95"/><circle cx="650.0" cy="138.6" r="0.95"/><circle cx="647.2" cy="138.7" r="0.95"/><circle cx="640.3" cy="138.3" r="0.95"/><circle cx="640.2" cy="138.4" r="0.95"/><circle cx="647.8" cy="138.8" r="0.95"/><circle cx="637.3" cy="138.7" r="0.95"/><circle cx="635.4" cy="138.1" r="0.95"/><circle cx="645.8" cy="138.5" r="0.95"/><circle cx="638.0" cy="138.7" r="0.95"/><circle cx="646.5" cy="138.4" r="0.95"/><circle cx="647.4" cy="138.8" r="0.95"/><circle cx="633.8" cy="138.9" r="0.95"/><circle cx="640.3" cy="138.3" r="0.95"/><circle cx="639.0" cy="129.7" r="0.95"/><circle cx="642.3" cy="138.3" r="0.95"/><circle cx="632.0" cy="138.6" r="0.95"/><circle cx="646.5" cy="138.7" r="0.95"/><circle cx="639.4" cy="138.8" r="0.95"/><circle cx="631.1" cy="138.2" r="0.95"/><circle cx="631.1" cy="138.6" r="0.95"/><circle cx="642.2" cy="138.4" r="0.95"/><circle cx="642.3" cy="138.1" r="0.95"/><circle cx="631.5" cy="138.8" r="0.95"/><circle cx="650.2" cy="138.2" r="0.95"/><circle cx="645.1" cy="138.6" r="0.95"/><circle cx="642.5" cy="138.9" r="0.95"/><circle cx="644.8" cy="138.9" r="0.95"/><circle cx="645.7" cy="138.8" r="0.95"/><circle cx="633.3" cy="138.8" r="0.95"/><circle cx="637.7" cy="138.8" r="0.95"/><circle cx="648.1" cy="138.8" r="0.95"/><circle cx="647.3" cy="138.5" r="0.95"/><circle cx="642.2" cy="138.8" r="0.95"/><circle cx="632.0" cy="138.6" r="0.95"/><circle cx="643.2" cy="138.7" r="0.95"/><circle cx="638.2" cy="138.5" r="0.95"/><circle cx="646.9" cy="138.3" r="0.95"/><circle cx="645.7" cy="138.8" r="0.95"/><circle cx="638.8" cy="138.5" r="0.95"/><circle cx="641.3" cy="138.8" r="0.95"/><circle cx="636.6" cy="138.2" r="0.95"/><circle cx="639.3" cy="138.6" r="0.95"/><circle cx="634.1" cy="138.8" r="0.95"/><circle cx="641.8" cy="138.6" r="0.95"/><circle cx="639.8" cy="138.2" r="0.95"/><circle cx="639.2" cy="138.5" r="0.95"/><circle cx="632.7" cy="138.7" r="0.95"/><circle cx="643.6" cy="138.4" r="0.95"/><circle cx="631.3" cy="138.2" r="0.95"/><circle cx="638.1" cy="138.6" r="0.95"/><circle cx="634.5" cy="138.5" r="0.95"/><circle cx="636.7" cy="138.6" r="0.95"/><circle cx="645.8" cy="137.9" r="0.95"/><circle cx="647.2" cy="138.7" r="0.95"/><circle cx="632.5" cy="138.7" r="0.95"/><circle cx="641.3" cy="138.6" r="0.95"/><circle cx="651.3" cy="138.5" r="0.95"/><circle cx="649.4" cy="138.3" r="0.95"/><circle cx="645.0" cy="138.1" r="0.95"/><circle cx="648.8" cy="138.5" r="0.95"/><circle cx="640.7" cy="138.4" r="0.95"/><circle cx="638.9" cy="138.2" r="0.95"/><circle cx="645.9" cy="138.5" r="0.95"/><circle cx="631.9" cy="138.4" r="0.95"/><circle cx="651.2" cy="138.4" r="0.95"/><circle cx="637.2" cy="138.6" r="0.95"/><circle cx="638.9" cy="138.8" r="0.95"/><circle cx="652.3" cy="138.2" r="0.95"/><circle cx="635.6" cy="138.2" r="0.95"/><circle cx="640.5" cy="138.1" r="0.95"/><circle cx="645.5" cy="138.8" r="0.95"/><circle cx="632.3" cy="138.1" r="0.95"/><circle cx="633.2" cy="134.3" r="0.95"/><circle cx="633.6" cy="138.5" r="0.95"/><circle cx="638.7" cy="138.7" r="0.95"/><circle cx="652.0" cy="134.5" r="0.95"/><circle cx="640.0" cy="138.6" r="0.95"/><circle cx="633.6" cy="138.4" r="0.95"/><circle cx="650.1" cy="138.6" r="0.95"/><circle cx="633.8" cy="138.2" r="0.95"/><circle cx="650.5" cy="138.7" r="0.95"/><circle cx="647.5" cy="138.2" r="0.95"/><circle cx="644.3" cy="138.1" r="0.95"/><circle cx="646.9" cy="138.8" r="0.95"/><circle cx="637.8" cy="138.0" r="0.95"/><circle cx="646.8" cy="139.0" r="0.95"/><circle cx="644.4" cy="138.4" r="0.95"/><circle cx="637.9" cy="138.6" r="0.95"/><circle cx="652.0" cy="138.4" r="0.95"/><circle cx="635.6" cy="138.9" r="0.95"/><circle cx="640.1" cy="138.2" r="0.95"/><circle cx="637.5" cy="138.7" r="0.95"/><circle cx="652.3" cy="138.4" r="0.95"/><circle cx="649.5" cy="137.6" r="0.95"/><circle cx="640.0" cy="138.8" r="0.95"/><circle cx="652.1" cy="138.7" r="0.95"/><circle cx="646.2" cy="136.9" r="0.95"/><circle cx="650.9" cy="138.8" r="0.95"/><circle cx="642.4" cy="138.4" r="0.95"/><circle cx="630.9" cy="138.6" r="0.95"/><circle cx="638.5" cy="138.2" r="0.95"/><circle cx="652.5" cy="138.3" r="0.95"/><circle cx="651.2" cy="138.1" r="0.95"/><circle cx="638.6" cy="138.7" r="0.95"/><circle cx="645.5" cy="138.6" r="0.95"/><circle cx="641.4" cy="138.2" r="0.95"/><circle cx="649.0" cy="138.6" r="0.95"/><circle cx="641.2" cy="138.6" r="0.95"/><circle cx="648.4" cy="138.6" r="0.95"/><circle cx="641.2" cy="138.5" r="0.95"/><circle cx="646.9" cy="138.7" r="0.95"/><circle cx="638.1" cy="138.7" r="0.95"/><circle cx="639.0" cy="138.7" r="0.95"/><circle cx="639.0" cy="138.8" r="0.95"/><circle cx="651.4" cy="138.7" r="0.95"/><circle cx="639.1" cy="138.1" r="0.95"/><circle cx="640.2" cy="138.7" r="0.95"/><circle cx="631.4" cy="138.6" r="0.95"/><circle cx="651.1" cy="138.1" r="0.95"/><circle cx="650.3" cy="138.6" r="0.95"/><circle cx="652.6" cy="138.7" r="0.95"/><circle cx="646.5" cy="135.1" r="0.95"/><circle cx="640.0" cy="138.2" r="0.95"/><circle cx="649.5" cy="138.8" r="0.95"/><circle cx="646.6" cy="138.2" r="0.95"/><circle cx="641.7" cy="138.5" r="0.95"/><circle cx="638.7" cy="138.4" r="0.95"/><circle cx="640.8" cy="139.0" r="0.95"/><circle cx="644.5" cy="138.8" r="0.95"/><circle cx="650.7" cy="138.3" r="0.95"/><circle cx="647.7" cy="138.5" r="0.95"/><circle cx="643.8" cy="138.6" r="0.95"/><circle cx="647.0" cy="138.3" r="0.95"/><circle cx="645.6" cy="136.1" r="0.95"/><circle cx="647.9" cy="138.5" r="0.95"/><circle cx="644.9" cy="138.7" r="0.95"/><circle cx="636.9" cy="138.1" r="0.95"/><circle cx="650.4" cy="138.6" r="0.95"/><circle cx="644.9" cy="138.7" r="0.95"/><circle cx="650.3" cy="138.4" r="0.95"/><circle cx="652.4" cy="138.5" r="0.95"/><circle cx="646.7" cy="138.6" r="0.95"/><circle cx="638.7" cy="138.5" r="0.95"/></g>
<circle cx="606.7" cy="81.4" r="0.95" fill="#4a72c0" fill-opacity="0.5"/>
<line x1="550.5" y1="138.6" x2="550.5" y2="135.3" stroke="#555" stroke-width="0.9" stroke-opacity="0.8"/>
<circle cx="550.5" cy="137.8" r="1.0" fill="#111"/>
<line x1="596.5" y1="138.6" x2="596.5" y2="133.6" stroke="#555" stroke-width="0.9" stroke-opacity="0.8"/>
<circle cx="596.5" cy="137.2" r="1.0" fill="#111"/>
<line x1="641.5" y1="138.6" x2="641.5" y2="136.7" stroke="#555" stroke-width="0.9" stroke-opacity="0.8"/>
<circle cx="641.5" cy="138.0" r="1.0" fill="#111"/>
<path d="M550.6 26.7V25.5H641.7V26.7" fill="none" stroke="#9a9a9a" stroke-width="0.9"/>
<text x="596.8" y="22.9" font-size="7.5" text-anchor="middle" fill="#1a1a1a">ns</text>
<path d="M596.2 54.7V53.5H641.7V54.7" fill="none" stroke="#9a9a9a" stroke-width="0.9"/>
<rect x="617" y="51" width="3" height="1" fill="#555"/>
<path d="M550.6 82.7V81.5H596.2V82.7" fill="none" stroke="#9a9a9a" stroke-width="0.9"/>
<text x="574.0" y="78.9" font-size="7.5" text-anchor="middle" fill="#1a1a1a">ns</text>
<rect x="523.5" y="19.5" width="146.0" height="128.0" fill="none" stroke="#b4b4b4" stroke-width="1"/>
<line x1="521.9" y1="138.6" x2="523.5" y2="138.6" stroke="#555" stroke-width="0.7"/>
<text x="519.3" y="141.1" font-size="7.1" text-anchor="end" fill="#222">0</text>
<line x1="521.9" y1="110.8" x2="523.5" y2="110.8" stroke="#555" stroke-width="0.7"/>
<text x="519.3" y="113.3" font-size="7.1" text-anchor="end" fill="#222">5</text>
<line x1="521.9" y1="83.1" x2="523.5" y2="83.1" stroke="#555" stroke-width="0.7"/>
<text x="519.3" y="85.6" font-size="7.1" text-anchor="end" fill="#222">10</text>
<line x1="521.9" y1="55.3" x2="523.5" y2="55.3" stroke="#555" stroke-width="0.7"/>
<text x="519.3" y="57.8" font-size="7.1" text-anchor="end" fill="#222">15</text>
<line x1="521.9" y1="27.6" x2="523.5" y2="27.6" stroke="#555" stroke-width="0.7"/>
<text x="519.3" y="30.1" font-size="7.1" text-anchor="end" fill="#222">20</text>
<line x1="550.6" y1="147.5" x2="550.6" y2="149.0" stroke="#555" stroke-width="0.7"/>
<text x="550.6" y="157.3" font-size="6.9" text-anchor="middle" fill="#222">Tumor_Free_Lung</text>
<line x1="596.2" y1="147.5" x2="596.2" y2="149.0" stroke="#555" stroke-width="0.7"/>
<text x="596.2" y="157.3" font-size="6.9" text-anchor="middle" fill="#222">Stroma</text>
<line x1="641.7" y1="147.5" x2="641.7" y2="149.0" stroke="#555" stroke-width="0.7"/>
<text x="641.7" y="157.3" font-size="6.9" text-anchor="middle" fill="#222">Tumor</text>
<text x="502" y="83.4" font-size="7" text-anchor="middle" fill="#222" transform="rotate(-90 502 83.4)">CD45+ pHH3+ pSMAD2L- density</text>
<text x="584" y="14.3" font-size="7" text-anchor="middle" fill="#222">Mitotic</text>
<g fill="#a0a0a0" fill-opacity="0.5"><circle cx="369.6" cy="287.7" r="0.95"/><circle cx="370.6" cy="288.1" r="0.95"/><circle cx="362.8" cy="288.2" r="0.95"/><circle cx="378.9" cy="287.9" r="0.95"/><circle cx="375.6" cy="287.7" r="0.95"/><circle cx="378.3" cy="288.1" r="0.95"/><circle cx="369.9" cy="287.9" r="0.95"/><circle cx="366.3" cy="287.6" r="0.95"/><circle cx="380.2" cy="287.9" r="0.95"/><circle cx="371.3" cy="288.0" r="0.95"/><circle cx="365.6" cy="287.5" r="0.95"/><circle cx="369.4" cy="287.8" r="0.95"/><circle cx="365.6" cy="287.8" r="0.95"/><circle cx="368.7" cy="287.7" r="0.95"/></g>
<g fill="#4a72c0" fill-opacity="0.5"><circle cx="422.6" cy="287.8" r="0.95"/><circle cx="422.6" cy="287.7" r="0.95"/><circle cx="414.6" cy="287.4" r="0.95"/><circle cx="424.8" cy="287.4" r="0.95"/><circle cx="419.1" cy="287.8" r="0.95"/><circle cx="418.4" cy="287.0" r="0.95"/><circle cx="406.5" cy="288.0" r="0.95"/><circle cx="419.9" cy="287.4" r="0.95"/><circle cx="426.3" cy="288.2" r="0.95"/><circle cx="419.4" cy="287.4" r="0.95"/><circle cx="420.0" cy="287.5" r="0.95"/><circle cx="418.9" cy="287.9" r="0.95"/><circle cx="409.2" cy="287.8" r="0.95"/><circle cx="413.1" cy="287.2" r="0.95"/><circle cx="407.1" cy="286.9" r="0.95"/><circle cx="412.2" cy="287.7" r="0.95"/><circle cx="427.0" cy="287.2" r="0.95"/><circle cx="412.7" cy="287.5" r="0.95"/><circle cx="420.4" cy="287.6" r="0.95"/><circle cx="421.0" cy="287.2" r="0.95"/><circle cx="407.3" cy="287.7" r="0.95"/><circle cx="422.2" cy="287.0" r="0.95"/><circle cx="407.4" cy="287.7" r="0.95"/><circle cx="407.7" cy="287.8" r="0.95"/><circle cx="421.5" cy="287.5" r="0.95"/><circle cx="415.3" cy="287.1" r="0.95"/><circle cx="408.2" cy="287.6" r="0.95"/><circle cx="425.6" cy="287.9" r="0.95"/><circle cx="422.9" cy="288.0" r="0.95"/><circle cx="419.2" cy="287.3" r="0.95"/><circle cx="420.7" cy="287.8" r="0.95"/><circle cx="415.0" cy="288.0" r="0.95"/><circle cx="412.9" cy="287.6" r="0.95"/><circle cx="421.2" cy="287.6" r="0.95"/><circle cx="413.9" cy="287.8" r="0.95"/><circle cx="415.1" cy="287.5" r="0.95"/><circle cx="414.1" cy="288.1" r="0.95"/><circle cx="410.4" cy="287.5" r="0.95"/><circle cx="412.5" cy="287.6" r="0.95"/><circle cx="423.3" cy="287.1" r="0.95"/><circle cx="417.0" cy="286.7" r="0.95"/><circle cx="420.5" cy="287.8" r="0.95"/><circle cx="411.2" cy="287.4" r="0.95"/><circle cx="413.0" cy="287.6" r="0.95"/><circle cx="425.9" cy="288.0" r="0.95"/><circle cx="423.7" cy="287.4" r="0.95"/><circle cx="416.4" cy="287.6" r="0.95"/><circle cx="416.4" cy="288.2" r="0.95"/><circle cx="408.3" cy="287.6" r="0.95"/><circle cx="410.6" cy="287.8" r="0.95"/><circle cx="412.9" cy="287.5" r="0.95"/><circle cx="407.4" cy="287.4" r="0.95"/><circle cx="417.6" cy="287.2" r="0.95"/><circle cx="422.2" cy="288.0" r="0.95"/><circle cx="412.1" cy="287.6" r="0.95"/><circle cx="419.5" cy="287.0" r="0.95"/><circle cx="426.9" cy="287.7" r="0.95"/><circle cx="417.2" cy="287.6" r="0.95"/><circle cx="408.0" cy="287.4" r="0.95"/><circle cx="423.3" cy="287.3" r="0.95"/><circle cx="408.5" cy="288.0" r="0.95"/><circle cx="416.6" cy="287.9" r="0.95"/><circle cx="415.4" cy="287.9" r="0.95"/><circle cx="425.5" cy="287.6" r="0.95"/><circle cx="418.1" cy="287.8" r="0.95"/><circle cx="416.2" cy="287.7" r="0.95"/><circle cx="421.8" cy="288.1" r="0.95"/><circle cx="411.9" cy="287.9" r="0.95"/><circle cx="418.3" cy="287.5" r="0.95"/><circle cx="406.7" cy="287.0" r="0.95"/><circle cx="416.2" cy="287.4" r="0.95"/><circle cx="425.1" cy="287.6" r="0.95"/><circle cx="422.6" cy="287.9" r="0.95"/><circle cx="420.0" cy="288.1" r="0.95"/><circle cx="407.5" cy="287.6" r="0.95"/><circle cx="409.9" cy="288.0" r="0.95"/><circle cx="411.1" cy="287.4" r="0.95"/><circle cx="409.3" cy="287.5" r="0.95"/><circle cx="418.2" cy="287.7" r="0.95"/><circle cx="416.5" cy="286.9" r="0.95"/><circle cx="417.9" cy="287.6" r="0.95"/><circle cx="408.3" cy="287.1" r="0.95"/><circle cx="409.6" cy="287.4" r="0.95"/><circle cx="410.0" cy="287.8" r="0.95"/><circle cx="409.9" cy="288.1" r="0.95"/><circle cx="425.6" cy="287.7" r="0.95"/><circle cx="407.9" cy="288.0" r="0.95"/><circle cx="408.2" cy="287.9" r="0.95"/><circle cx="422.9" cy="287.6" r="0.95"/><circle cx="425.9" cy="287.5" r="0.95"/><circle cx="422.2" cy="288.0" r="0.95"/><circle cx="426.0" cy="287.6" r="0.95"/><circle cx="415.9" cy="287.5" r="0.95"/><circle cx="425.0" cy="287.5" r="0.95"/><circle cx="411.9" cy="287.4" r="0.95"/><circle cx="410.8" cy="287.3" r="0.95"/><circle cx="426.7" cy="287.6" r="0.95"/><circle cx="414.1" cy="287.6" r="0.95"/><circle cx="421.5" cy="287.6" r="0.95"/><circle cx="408.6" cy="287.0" r="0.95"/><circle cx="412.7" cy="287.8" r="0.95"/><circle cx="415.6" cy="287.8" r="0.95"/><circle cx="412.2" cy="287.4" r="0.95"/><circle cx="426.1" cy="287.6" r="0.95"/><circle cx="423.6" cy="287.9" r="0.95"/><circle cx="412.5" cy="287.5" r="0.95"/><circle cx="415.7" cy="288.0" r="0.95"/><circle cx="418.6" cy="288.0" r="0.95"/><circle cx="426.8" cy="287.1" r="0.95"/><circle cx="421.5" cy="288.0" r="0.95"/><circle cx="420.7" cy="287.2" r="0.95"/><circle cx="421.4" cy="287.4" r="0.95"/><circle cx="410.6" cy="287.0" r="0.95"/><circle cx="407.8" cy="287.1" r="0.95"/><circle cx="408.6" cy="288.2" r="0.95"/><circle cx="415.4" cy="288.3" r="0.95"/><circle cx="422.4" cy="287.5" r="0.95"/><circle cx="410.3" cy="287.8" r="0.95"/><circle cx="419.7" cy="287.9" r="0.95"/><circle cx="425.9" cy="287.5" r="0.95"/><circle cx="406.8" cy="287.4" r="0.95"/><circle cx="421.4" cy="287.4" r="0.95"/><circle cx="424.0" cy="288.1" r="0.95"/><circle cx="420.1" cy="288.1" r="0.95"/><circle cx="409.1" cy="288.0" r="0.95"/><circle cx="421.0" cy="287.4" r="0.95"/><circle cx="410.0" cy="287.8" r="0.95"/><circle cx="413.0" cy="288.0" r="0.95"/><circle cx="412.4" cy="287.8" r="0.95"/><circle cx="417.4" cy="288.1" r="0.95"/><circle cx="413.0" cy="288.1" r="0.95"/><circle cx="422.2" cy="287.6" r="0.95"/><circle cx="427.1" cy="288.1" r="0.95"/><circle cx="422.8" cy="287.8" r="0.95"/><circle cx="407.3" cy="287.6" r="0.95"/><circle cx="420.6" cy="287.1" r="0.95"/><circle cx="420.5" cy="287.3" r="0.95"/><circle cx="414.8" cy="288.0" r="0.95"/><circle cx="424.8" cy="287.9" r="0.95"/><circle cx="416.1" cy="287.8" r="0.95"/><circle cx="428.0" cy="288.0" r="0.95"/><circle cx="419.7" cy="287.6" r="0.95"/><circle cx="426.1" cy="287.4" r="0.95"/><circle cx="408.9" cy="287.9" r="0.95"/><circle cx="410.6" cy="287.8" r="0.95"/><circle cx="421.4" cy="287.3" r="0.95"/><circle cx="426.3" cy="287.8" r="0.95"/><circle cx="420.8" cy="288.0" r="0.95"/><circle cx="423.9" cy="287.7" r="0.95"/><circle cx="424.4" cy="288.2" r="0.95"/><circle cx="421.6" cy="287.4" r="0.95"/><circle cx="414.5" cy="287.4" r="0.95"/><circle cx="414.3" cy="287.4" r="0.95"/><circle cx="416.3" cy="287.5" r="0.95"/><circle cx="416.7" cy="287.4" r="0.95"/><circle cx="422.3" cy="287.3" r="0.95"/><circle cx="426.9" cy="287.1" r="0.95"/><circle cx="420.2" cy="287.4" r="0.95"/><circle cx="410.7" cy="287.4" r="0.95"/><circle cx="418.4" cy="287.8" r="0.95"/><circle cx="410.4" cy="287.0" r="0.95"/><circle cx="424.7" cy="287.7" r="0.95"/><circle cx="411.7" cy="287.8" r="0.95"/><circle cx="425.6" cy="287.4" r="0.95"/><circle cx="416.8" cy="287.9" r="0.95"/><circle cx="415.8" cy="287.4" r="0.95"/><circle cx="408.6" cy="287.9" r="0.95"/><circle cx="416.3" cy="287.3" r="0.95"/><circle cx="416.2" cy="287.3" r="0.95"/><circle cx="408.1" cy="288.0" r="0.95"/><circle cx="423.0" cy="287.5" r="0.95"/><circle cx="413.3" cy="287.4" r="0.95"/><circle cx="413.3" cy="287.8" r="0.95"/><circle cx="422.9" cy="287.8" r="0.95"/><circle cx="425.0" cy="288.2" r="0.95"/><circle cx="418.8" cy="287.1" r="0.95"/><circle cx="409.3" cy="288.0" r="0.95"/><circle cx="409.2" cy="288.1" r="0.95"/><circle cx="407.5" cy="286.9" r="0.95"/><circle cx="428.2" cy="287.4" r="0.95"/><circle cx="418.5" cy="287.6" r="0.95"/><circle cx="408.9" cy="287.5" r="0.95"/><circle cx="414.4" cy="288.0" r="0.95"/><circle cx="423.5" cy="287.9" r="0.95"/><circle cx="410.3" cy="287.8" r="0.95"/><circle cx="426.4" cy="287.3" r="0.95"/><circle cx="414.0" cy="287.4" r="0.95"/><circle cx="428.2" cy="287.3" r="0.95"/><circle cx="421.5" cy="287.4" r="0.95"/><circle cx="417.9" cy="287.8" r="0.95"/><circle cx="408.4" cy="287.7" r="0.95"/><circle cx="413.3" cy="287.8" r="0.95"/><circle cx="422.0" cy="287.5" r="0.95"/><circle cx="409.6" cy="288.1" r="0.95"/><circle cx="421.7" cy="287.8" r="0.95"/><circle cx="422.7" cy="288.2" r="0.95"/><circle cx="411.7" cy="287.8" r="0.95"/><circle cx="424.0" cy="287.3" r="0.95"/><circle cx="426.2" cy="287.3" r="0.95"/><circle cx="427.3" cy="287.9" r="0.95"/><circle cx="427.7" cy="287.9" r="0.95"/><circle cx="423.5" cy="287.3" r="0.95"/><circle cx="416.4" cy="287.6" r="0.95"/><circle cx="424.0" cy="287.3" r="0.95"/><circle cx="426.1" cy="287.2" r="0.95"/><circle cx="417.8" cy="287.4" r="0.95"/><circle cx="410.1" cy="287.5" r="0.95"/><circle cx="407.3" cy="287.4" r="0.95"/><circle cx="419.9" cy="287.7" r="0.95"/><circle cx="423.8" cy="287.8" r="0.95"/><circle cx="421.3" cy="287.3" r="0.95"/><circle cx="413.6" cy="287.1" r="0.95"/><circle cx="409.8" cy="287.9" r="0.95"/><circle cx="409.3" cy="287.9" r="0.95"/><circle cx="414.6" cy="287.8" r="0.95"/><circle cx="425.5" cy="288.0" r="0.95"/><circle cx="427.5" cy="288.0" r="0.95"/><circle cx="415.1" cy="288.1" r="0.95"/><circle cx="423.1" cy="287.6" r="0.95"/><circle cx="413.5" cy="287.3" r="0.95"/><circle cx="424.9" cy="287.1" r="0.95"/><circle cx="425.9" cy="288.0" r="0.95"/><circle cx="419.3" cy="287.3" r="0.95"/><circle cx="414.7" cy="287.7" r="0.95"/><circle cx="422.0" cy="287.8" r="0.95"/><circle cx="422.0" cy="288.1" r="0.95"/><circle cx="408.2" cy="287.3" r="0.95"/><circle cx="427.0" cy="287.5" r="0.95"/><circle cx="424.2" cy="287.5" r="0.95"/><circle cx="411.2" cy="287.2" r="0.95"/><circle cx="415.7" cy="287.9" r="0.95"/><circle cx="407.5" cy="287.4" r="0.95"/><circle cx="412.6" cy="288.0" r="0.95"/><circle cx="422.8" cy="287.5" r="0.95"/><circle cx="415.2" cy="287.4" r="0.95"/><circle cx="421.9" cy="287.7" r="0.95"/><circle cx="414.1" cy="287.6" r="0.95"/><circle cx="411.5" cy="287.3" r="0.95"/><circle cx="422.8" cy="287.7" r="0.95"/><circle cx="407.5" cy="287.8" r="0.95"/><circle cx="418.8" cy="287.7" r="0.95"/><circle cx="414.8" cy="287.6" r="0.95"/><circle cx="414.3" cy="287.1" r="0.95"/><circle cx="425.5" cy="287.5" r="0.95"/><circle cx="426.2" cy="287.5" r="0.95"/><circle cx="418.5" cy="287.6" r="0.95"/><circle cx="415.3" cy="287.6" r="0.95"/><circle cx="425.7" cy="287.5" r="0.95"/><circle cx="407.6" cy="287.6" r="0.95"/><circle cx="425.6" cy="287.5" r="0.95"/><circle cx="422.9" cy="287.4" r="0.95"/><circle cx="413.4" cy="287.9" r="0.95"/><circle cx="418.8" cy="287.5" r="0.95"/><circle cx="409.8" cy="287.8" r="0.95"/><circle cx="421.5" cy="288.1" r="0.95"/><circle cx="416.6" cy="288.0" r="0.95"/><circle cx="408.7" cy="287.7" r="0.95"/><circle cx="413.5" cy="288.0" r="0.95"/><circle cx="412.8" cy="287.0" r="0.95"/><circle cx="412.2" cy="288.0" r="0.95"/><circle cx="422.0" cy="279.7" r="0.95"/><circle cx="415.4" cy="283.3" r="0.95"/><circle cx="424.1" cy="279.3" r="0.95"/><circle cx="422.1" cy="281.4" r="0.95"/><circle cx="416.1" cy="280.7" r="0.95"/><circle cx="411.3" cy="280.5" r="0.95"/><circle cx="416.4" cy="282.3" r="0.95"/><circle cx="424.1" cy="283.4" r="0.95"/><circle cx="427.9" cy="286.2" r="0.95"/><circle cx="415.1" cy="281.4" r="0.95"/><circle cx="407.5" cy="283.9" r="0.95"/><circle cx="409.6" cy="283.0" r="0.95"/><circle cx="412.3" cy="279.5" r="0.95"/><circle cx="416.5" cy="285.8" r="0.95"/><circle cx="410.1" cy="281.0" r="0.95"/><circle cx="420.1" cy="286.3" r="0.95"/><circle cx="427.7" cy="281.1" r="0.95"/><circle cx="411.2" cy="280.4" r="0.95"/><circle cx="414.3" cy="284.9" r="0.95"/><circle cx="426.2" cy="282.3" r="0.95"/><circle cx="418.9" cy="263.0" r="0.95"/><circle cx="412.0" cy="268.6" r="0.95"/><circle cx="416.1" cy="274.8" r="0.95"/><circle cx="423.4" cy="275.4" r="0.95"/><circle cx="407.8" cy="276.6" r="0.95"/><circle cx="424.3" cy="279.4" r="0.95"/></g>
<g fill="#e8501e" fill-opacity="0.5"><circle cx="459.1" cy="287.8" r="0.95"/><circle cx="451.4" cy="287.4" r="0.95"/><circle cx="465.6" cy="287.5" r="0.95"/><circle cx="459.7" cy="287.9" r="0.95"/><circle cx="456.3" cy="287.8" r="0.95"/><circle cx="458.1" cy="287.6" r="0.95"/><circle cx="459.1" cy="287.6" r="0.95"/><circle cx="470.8" cy="287.8" r="0.95"/><circle cx="472.5" cy="287.6" r="0.95"/><circle cx="460.8" cy="287.7" r="0.95"/><circle cx="469.6" cy="287.6" r="0.95"/><circle cx="465.5" cy="287.5" r="0.95"/><circle cx="462.4" cy="287.1" r="0.95"/><circle cx="470.6" cy="287.8" r="0.95"/><circle cx="471.5" cy="287.6" r="0.95"/><circle cx="458.0" cy="287.5" r="0.95"/><circle cx="471.0" cy="288.0" r="0.95"/><circle cx="468.6" cy="287.6" r="0.95"/><circle cx="464.1" cy="287.4" r="0.95"/><circle cx="468.8" cy="287.7" r="0.95"/><circle cx="464.8" cy="286.9" r="0.95"/><circle cx="467.3" cy="287.6" r="0.95"/><circle cx="457.5" cy="287.8" r="0.95"/><circle cx="467.5" cy="287.6" r="0.95"/><circle cx="469.0" cy="287.3" r="0.95"/><circle cx="459.0" cy="287.5" r="0.95"/><circle cx="470.4" cy="287.8" r="0.95"/><circle cx="460.1" cy="287.6" r="0.95"/><circle cx="451.5" cy="287.6" r="0.95"/><circle cx="468.8" cy="287.6" r="0.95"/><circle cx="460.8" cy="287.9" r="0.95"/><circle cx="451.0" cy="287.7" r="0.95"/><circle cx="456.0" cy="287.1" r="0.95"/><circle cx="458.3" cy="287.7" r="0.95"/><circle cx="470.2" cy="287.6" r="0.95"/><circle cx="453.0" cy="287.3" r="0.95"/><circle cx="468.9" cy="287.6" r="0.95"/><circle cx="460.2" cy="287.2" r="0.95"/><circle cx="452.8" cy="287.4" r="0.95"/><circle cx="470.2" cy="287.3" r="0.95"/><circle cx="457.6" cy="287.2" r="0.95"/><circle cx="463.1" cy="287.5" r="0.95"/><circle cx="464.7" cy="287.9" r="0.95"/><circle cx="472.2" cy="287.3" r="0.95"/><circle cx="457.0" cy="287.1" r="0.95"/><circle cx="456.9" cy="287.5" r="0.95"/><circle cx="451.2" cy="287.9" r="0.95"/><circle cx="456.6" cy="288.0" r="0.95"/><circle cx="468.4" cy="288.1" r="0.95"/><circle cx="451.0" cy="287.2" r="0.95"/><circle cx="469.2" cy="288.0" r="0.95"/><circle cx="463.8" cy="287.2" r="0.95"/><circle cx="468.6" cy="287.6" r="0.95"/><circle cx="458.2" cy="287.3" r="0.95"/><circle cx="460.9" cy="287.6" r="0.95"/><circle cx="465.3" cy="287.8" r="0.95"/><circle cx="464.9" cy="287.2" r="0.95"/><circle cx="459.4" cy="287.8" r="0.95"/><circle cx="453.4" cy="287.8" r="0.95"/><circle cx="465.5" cy="287.9" r="0.95"/><circle cx="457.8" cy="287.5" r="0.95"/><circle cx="466.0" cy="287.1" r="0.95"/><circle cx="463.7" cy="287.6" r="0.95"/><circle cx="466.4" cy="286.9" r="0.95"/><circle cx="471.9" cy="287.3" r="0.95"/><circle cx="469.7" cy="287.5" r="0.95"/><circle cx="466.3" cy="287.5" r="0.95"/><circle cx="465.9" cy="288.1" r="0.95"/><circle cx="459.5" cy="288.0" r="0.95"/><circle cx="460.1" cy="287.1" r="0.95"/><circle cx="466.2" cy="287.5" r="0.95"/><circle cx="470.2" cy="287.6" r="0.95"/><circle cx="470.0" cy="287.3" r="0.95"/><circle cx="453.2" cy="287.7" r="0.95"/><circle cx="455.8" cy="287.3" r="0.95"/><circle cx="454.9" cy="287.5" r="0.95"/><circle cx="466.7" cy="287.2" r="0.95"/><circle cx="453.5" cy="287.2" r="0.95"/><circle cx="463.3" cy="286.9" r="0.95"/><circle cx="466.3" cy="287.6" r="0.95"/><circle cx="471.0" cy="287.5" r="0.95"/><circle cx="464.9" cy="288.0" r="0.95"/><circle cx="461.7" cy="287.5" r="0.95"/><circle cx="451.8" cy="287.9" r="0.95"/><circle cx="465.1" cy="287.7" r="0.95"/><circle cx="461.8" cy="287.5" r="0.95"/><circle cx="470.7" cy="287.4" r="0.95"/><circle cx="453.6" cy="287.7" r="0.95"/><circle cx="467.3" cy="287.6" r="0.95"/><circle cx="472.2" cy="287.8" r="0.95"/><circle cx="453.9" cy="287.8" r="0.95"/><circle cx="461.3" cy="287.2" r="0.95"/><circle cx="467.8" cy="287.4" r="0.95"/><circle cx="471.8" cy="287.4" r="0.95"/><circle cx="456.7" cy="287.5" r="0.95"/><circle cx="455.6" cy="287.2" r="0.95"/><circle cx="456.5" cy="287.2" r="0.95"/><circle cx="460.8" cy="287.2" r="0.95"/><circle cx="468.6" cy="288.2" r="0.95"/><circle cx="470.8" cy="287.4" r="0.95"/><circle cx="451.1" cy="287.5" r="0.95"/><circle cx="466.8" cy="287.8" r="0.95"/><circle cx="471.6" cy="288.2" r="0.95"/><circle cx="465.5" cy="287.6" r="0.95"/><circle cx="459.3" cy="287.3" r="0.95"/><circle cx="459.2" cy="287.0" r="0.95"/><circle cx="457.5" cy="287.2" r="0.95"/><circle cx="462.4" cy="288.1" r="0.95"/><circle cx="464.7" cy="287.5" r="0.95"/><circle cx="460.0" cy="287.4" r="0.95"/><circle cx="468.4" cy="287.7" r="0.95"/><circle cx="460.3" cy="288.2" r="0.95"/><circle cx="457.0" cy="287.8" r="0.95"/><circle cx="472.1" cy="287.3" r="0.95"/><circle cx="462.4" cy="287.3" r="0.95"/><circle cx="457.9" cy="287.9" r="0.95"/><circle cx="459.8" cy="287.7" r="0.95"/><circle cx="462.7" cy="287.9" r="0.95"/><circle cx="463.1" cy="287.4" r="0.95"/><circle cx="459.1" cy="287.2" r="0.95"/><circle cx="458.5" cy="287.7" r="0.95"/><circle cx="450.8" cy="287.9" r="0.95"/><circle cx="462.0" cy="287.5" r="0.95"/><circle cx="466.0" cy="287.1" r="0.95"/><circle cx="453.3" cy="287.4" r="0.95"/><circle cx="451.4" cy="288.0" r="0.95"/><circle cx="461.7" cy="288.1" r="0.95"/><circle cx="469.4" cy="287.7" r="0.95"/><circle cx="458.1" cy="287.4" r="0.95"/><circle cx="467.4" cy="287.5" r="0.95"/><circle cx="466.3" cy="288.1" r="0.95"/><circle cx="467.0" cy="287.8" r="0.95"/><circle cx="466.8" cy="287.7" r="0.95"/><circle cx="463.3" cy="287.6" r="0.95"/><circle cx="471.1" cy="287.8" r="0.95"/><circle cx="463.0" cy="287.0" r="0.95"/><circle cx="452.8" cy="287.8" r="0.95"/><circle cx="470.9" cy="286.9" r="0.95"/><circle cx="467.5" cy="286.8" r="0.95"/><circle cx="466.2" cy="287.1" r="0.95"/><circle cx="463.6" cy="288.0" r="0.95"/><circle cx="451.2" cy="288.1" r="0.95"/><circle cx="462.0" cy="287.5" r="0.95"/><circle cx="457.3" cy="287.7" r="0.95"/><circle cx="466.8" cy="287.1" r="0.95"/><circle cx="452.0" cy="287.5" r="0.95"/><circle cx="464.5" cy="287.3" r="0.95"/><circle cx="467.3" cy="287.6" r="0.95"/><circle cx="458.6" cy="287.8" r="0.95"/><circle cx="453.7" cy="287.8" r="0.95"/><circle cx="464.7" cy="287.4" r="0.95"/><circle cx="465.2" cy="287.1" r="0.95"/><circle cx="471.9" cy="287.2" r="0.95"/><circle cx="470.8" cy="287.8" r="0.95"/><circle cx="455.2" cy="288.0" r="0.95"/><circle cx="464.0" cy="287.6" r="0.95"/><circle cx="465.7" cy="287.7" r="0.95"/><circle cx="465.5" cy="287.1" r="0.95"/><circle cx="471.7" cy="287.9" r="0.95"/><circle cx="460.1" cy="287.8" r="0.95"/><circle cx="472.4" cy="287.4" r="0.95"/><circle cx="454.7" cy="287.2" r="0.95"/><circle cx="461.3" cy="287.3" r="0.95"/><circle cx="455.7" cy="287.7" r="0.95"/><circle cx="450.9" cy="287.8" r="0.95"/><circle cx="459.5" cy="287.9" r="0.95"/><circle cx="456.2" cy="287.7" r="0.95"/><circle cx="455.2" cy="287.1" r="0.95"/><circle cx="469.5" cy="287.4" r="0.95"/><circle cx="457.0" cy="287.6" r="0.95"/><circle cx="458.6" cy="287.4" r="0.95"/><circle cx="453.6" cy="287.8" r="0.95"/><circle cx="469.8" cy="288.0" r="0.95"/><circle cx="468.5" cy="287.9" r="0.95"/><circle cx="455.6" cy="287.5" r="0.95"/><circle cx="453.4" cy="287.5" r="0.95"/><circle cx="462.5" cy="287.8" r="0.95"/><circle cx="466.2" cy="287.6" r="0.95"/><circle cx="463.9" cy="287.3" r="0.95"/><circle cx="453.6" cy="287.7" r="0.95"/><circle cx="454.6" cy="287.8" r="0.95"/><circle cx="467.2" cy="287.7" r="0.95"/><circle cx="460.5" cy="287.6" r="0.95"/><circle cx="453.6" cy="287.9" r="0.95"/><circle cx="458.7" cy="287.9" r="0.95"/><circle cx="458.6" cy="286.9" r="0.95"/><circle cx="454.1" cy="287.8" r="0.95"/><circle cx="460.0" cy="287.0" r="0.95"/><circle cx="469.7" cy="287.4" r="0.95"/><circle cx="455.5" cy="287.6" r="0.95"/><circle cx="462.8" cy="287.9" r="0.95"/><circle cx="451.2" cy="287.5" r="0.95"/><circle cx="466.0" cy="288.1" r="0.95"/><circle cx="459.8" cy="287.2" r="0.95"/><circle cx="452.6" cy="287.2" r="0.95"/><circle cx="469.7" cy="287.5" r="0.95"/><circle cx="470.3" cy="288.0" r="0.95"/><circle cx="470.8" cy="287.1" r="0.95"/><circle cx="459.8" cy="288.0" r="0.95"/><circle cx="457.3" cy="287.7" r="0.95"/><circle cx="451.0" cy="287.7" r="0.95"/><circle cx="462.6" cy="287.6" r="0.95"/><circle cx="456.2" cy="287.9" r="0.95"/><circle cx="454.3" cy="288.1" r="0.95"/><circle cx="469.7" cy="287.4" r="0.95"/><circle cx="453.4" cy="287.4" r="0.95"/><circle cx="457.0" cy="287.5" r="0.95"/><circle cx="466.1" cy="287.9" r="0.95"/><circle cx="456.5" cy="287.3" r="0.95"/><circle cx="466.4" cy="288.1" r="0.95"/><circle cx="458.2" cy="287.5" r="0.95"/><circle cx="455.4" cy="287.4" r="0.95"/><circle cx="463.3" cy="287.3" r="0.95"/><circle cx="463.8" cy="287.5" r="0.95"/><circle cx="451.5" cy="287.2" r="0.95"/><circle cx="459.6" cy="286.8" r="0.95"/><circle cx="462.5" cy="287.5" r="0.95"/><circle cx="464.3" cy="287.8" r="0.95"/><circle cx="463.9" cy="287.5" r="0.95"/><circle cx="453.0" cy="287.8" r="0.95"/><circle cx="471.0" cy="287.3" r="0.95"/><circle cx="468.7" cy="287.6" r="0.95"/><circle cx="460.1" cy="286.9" r="0.95"/><circle cx="461.1" cy="287.8" r="0.95"/><circle cx="468.0" cy="287.9" r="0.95"/><circle cx="461.9" cy="288.2" r="0.95"/><circle cx="458.7" cy="286.4" r="0.95"/><circle cx="459.9" cy="287.9" r="0.95"/><circle cx="467.5" cy="287.6" r="0.95"/><circle cx="451.1" cy="287.9" r="0.95"/><circle cx="454.7" cy="288.1" r="0.95"/><circle cx="463.0" cy="286.8" r="0.95"/><circle cx="462.0" cy="287.9" r="0.95"/><circle cx="455.4" cy="287.5" r="0.95"/><circle cx="451.7" cy="287.0" r="0.95"/><circle cx="463.6" cy="287.9" r="0.95"/><circle cx="463.7" cy="287.9" r="0.95"/><circle cx="454.9" cy="287.4" r="0.95"/><circle cx="462.3" cy="287.3" r="0.95"/><circle cx="459.2" cy="287.5" r="0.95"/><circle cx="469.9" cy="287.2" r="0.95"/><circle cx="465.7" cy="287.9" r="0.95"/><circle cx="456.8" cy="288.2" r="0.95"/><circle cx="456.1" cy="287.1" r="0.95"/><circle cx="454.7" cy="287.5" r="0.95"/><circle cx="465.7" cy="287.6" r="0.95"/><circle cx="453.1" cy="287.5" r="0.95"/><circle cx="457.9" cy="287.8" r="0.95"/><circle cx="464.9" cy="286.8" r="0.95"/><circle cx="451.5" cy="288.0" r="0.95"/><circle cx="469.6" cy="287.4" r="0.95"/><circle cx="455.4" cy="287.4" r="0.95"/><circle cx="468.8" cy="287.4" r="0.95"/><circle cx="471.5" cy="287.3" r="0.95"/><circle cx="470.4" cy="286.8" r="0.95"/><circle cx="463.7" cy="288.2" r="0.95"/><circle cx="466.4" cy="288.2" r="0.95"/><circle cx="458.2" cy="288.1" r="0.95"/><circle cx="470.4" cy="287.5" r="0.95"/><circle cx="467.5" cy="287.3" r="0.95"/><circle cx="455.2" cy="287.8" r="0.95"/><circle cx="467.5" cy="287.9" r="0.95"/><circle cx="470.7" cy="287.7" r="0.95"/><circle cx="460.4" cy="287.3" r="0.95"/><circle cx="456.5" cy="287.4" r="0.95"/><circle cx="456.2" cy="288.0" r="0.95"/><circle cx="468.2" cy="287.6" r="0.95"/><circle cx="457.1" cy="287.2" r="0.95"/><circle cx="453.1" cy="288.1" r="0.95"/><circle cx="471.6" cy="288.0" r="0.95"/><circle cx="456.7" cy="287.9" r="0.95"/><circle cx="460.2" cy="287.4" r="0.95"/><circle cx="470.5" cy="287.7" r="0.95"/><circle cx="465.4" cy="287.4" r="0.95"/><circle cx="452.9" cy="287.5" r="0.95"/><circle cx="456.3" cy="287.5" r="0.95"/><circle cx="463.1" cy="286.8" r="0.95"/><circle cx="455.2" cy="288.1" r="0.95"/><circle cx="458.6" cy="287.4" r="0.95"/><circle cx="450.7" cy="287.7" r="0.95"/><circle cx="451.2" cy="287.6" r="0.95"/><circle cx="451.1" cy="287.3" r="0.95"/><circle cx="464.1" cy="287.8" r="0.95"/><circle cx="455.3" cy="287.9" r="0.95"/><circle cx="471.9" cy="287.9" r="0.95"/><circle cx="471.0" cy="287.7" r="0.95"/><circle cx="458.6" cy="287.9" r="0.95"/><circle cx="459.6" cy="288.1" r="0.95"/><circle cx="454.2" cy="287.6" r="0.95"/><circle cx="460.4" cy="286.7" r="0.95"/><circle cx="472.3" cy="287.4" r="0.95"/><circle cx="450.6" cy="287.6" r="0.95"/><circle cx="469.8" cy="287.5" r="0.95"/><circle cx="461.9" cy="287.8" r="0.95"/><circle cx="469.0" cy="287.4" r="0.95"/><circle cx="463.9" cy="288.2" r="0.95"/><circle cx="471.9" cy="287.4" r="0.95"/><circle cx="457.9" cy="288.0" r="0.95"/><circle cx="466.6" cy="287.5" r="0.95"/><circle cx="465.4" cy="286.7" r="0.95"/><circle cx="466.3" cy="287.6" r="0.95"/><circle cx="455.6" cy="287.5" r="0.95"/><circle cx="462.7" cy="287.6" r="0.95"/><circle cx="456.7" cy="287.0" r="0.95"/><circle cx="458.7" cy="287.5" r="0.95"/><circle cx="471.9" cy="287.4" r="0.95"/><circle cx="462.6" cy="287.3" r="0.95"/><circle cx="462.5" cy="287.7" r="0.95"/><circle cx="462.0" cy="287.4" r="0.95"/><circle cx="458.2" cy="287.4" r="0.95"/><circle cx="455.2" cy="287.3" r="0.95"/><circle cx="456.8" cy="287.3" r="0.95"/><circle cx="459.6" cy="287.1" r="0.95"/><circle cx="453.0" cy="287.5" r="0.95"/><circle cx="460.4" cy="287.7" r="0.95"/><circle cx="460.0" cy="287.9" r="0.95"/><circle cx="465.5" cy="286.9" r="0.95"/><circle cx="462.6" cy="287.7" r="0.95"/><circle cx="466.9" cy="287.3" r="0.95"/><circle cx="455.4" cy="287.3" r="0.95"/><circle cx="472.2" cy="287.3" r="0.95"/><circle cx="456.0" cy="287.8" r="0.95"/><circle cx="451.6" cy="287.7" r="0.95"/><circle cx="460.0" cy="287.7" r="0.95"/><circle cx="467.7" cy="288.1" r="0.95"/><circle cx="457.5" cy="287.0" r="0.95"/><circle cx="455.2" cy="286.3" r="0.95"/><circle cx="456.4" cy="287.6" r="0.95"/><circle cx="470.2" cy="287.5" r="0.95"/><circle cx="456.4" cy="288.2" r="0.95"/><circle cx="463.4" cy="283.3" r="0.95"/><circle cx="452.1" cy="285.3" r="0.95"/><circle cx="455.3" cy="287.0" r="0.95"/><circle cx="451.8" cy="278.1" r="0.95"/><circle cx="468.5" cy="282.0" r="0.95"/><circle cx="456.8" cy="282.4" r="0.95"/><circle cx="463.9" cy="281.4" r="0.95"/><circle cx="465.4" cy="283.9" r="0.95"/><circle cx="457.9" cy="285.4" r="0.95"/><circle cx="460.6" cy="286.7" r="0.95"/><circle cx="462.1" cy="284.0" r="0.95"/><circle cx="465.2" cy="283.8" r="0.95"/><circle cx="461.3" cy="279.7" r="0.95"/><circle cx="463.7" cy="281.8" r="0.95"/><circle cx="457.2" cy="277.4" r="0.95"/><circle cx="471.9" cy="283.8" r="0.95"/><circle cx="462.7" cy="277.4" r="0.95"/><circle cx="454.4" cy="281.0" r="0.95"/><circle cx="459.9" cy="286.1" r="0.95"/><circle cx="456.1" cy="285.2" r="0.95"/><circle cx="463.1" cy="280.7" r="0.95"/><circle cx="465.0" cy="277.0" r="0.95"/><circle cx="454.8" cy="283.1" r="0.95"/><circle cx="451.3" cy="279.0" r="0.95"/><circle cx="465.4" cy="282.5" r="0.95"/><circle cx="463.5" cy="278.2" r="0.95"/><circle cx="451.5" cy="286.0" r="0.95"/><circle cx="461.7" cy="282.4" r="0.95"/><circle cx="466.0" cy="257.5" r="0.95"/><circle cx="456.2" cy="259.1" r="0.95"/><circle cx="464.7" cy="261.4" r="0.95"/><circle cx="459.1" cy="264.4" r="0.95"/><circle cx="456.6" cy="266.7" r="0.95"/><circle cx="467.5" cy="267.8" r="0.95"/><circle cx="470.0" cy="274.4" r="0.95"/><circle cx="451.0" cy="275.2" r="0.95"/><circle cx="470.1" cy="279.1" r="0.95"/></g>
<circle cx="420.6" cy="178.6" r="0.95" fill="#4a72c0" fill-opacity="0.5"/>
<circle cx="418.5" cy="243.3" r="0.95" fill="#4a72c0" fill-opacity="0.5"/>
<line x1="372.5" y1="287.9" x2="372.5" y2="287.9" stroke="#555" stroke-width="0.9" stroke-opacity="0.8"/>
<circle cx="372.5" cy="287.9" r="1.0" fill="#111"/>
<line x1="417.5" y1="295.5" x2="417.5" y2="279.4" stroke="#555" stroke-width="0.9" stroke-opacity="0.8"/>
<circle cx="417.5" cy="287.5" r="1.0" fill="#111"/>
<line x1="461.5" y1="291.9" x2="461.5" y2="281.7" stroke="#555" stroke-width="0.9" stroke-opacity="0.8"/>
<circle cx="461.5" cy="286.8" r="1.0" fill="#111"/>
<path d="M372.5 221.7V220.5H461.5V221.7" fill="none" stroke="#9a9a9a" stroke-width="0.9"/>
<text x="417.6" y="217.9" font-size="7.5" text-anchor="middle" fill="#1a1a1a">ns</text>
<path d="M372.5 244.7V243.5H417.3V244.7" fill="none" stroke="#9a9a9a" stroke-width="0.9"/>
<text x="395.5" y="240.9" font-size="7.5" text-anchor="middle" fill="#1a1a1a">ns</text>
<path d="M417.3 266.7V265.5H461.5V266.7" fill="none" stroke="#9a9a9a" stroke-width="0.9"/>
<text x="440.0" y="262.9" font-size="7.5" text-anchor="middle" fill="#1a1a1a">ns</text>
<rect x="346.5" y="172.5" width="143.0" height="128.0" fill="none" stroke="#b4b4b4" stroke-width="1"/>
<line x1="344.9" y1="287.9" x2="346.5" y2="287.9" stroke="#555" stroke-width="0.7"/>
<text x="342.3" y="290.4" font-size="7.1" text-anchor="end" fill="#222">0</text>
<line x1="344.9" y1="265.6" x2="346.5" y2="265.6" stroke="#555" stroke-width="0.7"/>
<text x="342.3" y="268.1" font-size="7.1" text-anchor="end" fill="#222">500</text>
<line x1="344.9" y1="243.3" x2="346.5" y2="243.3" stroke="#555" stroke-width="0.7"/>
<text x="342.3" y="245.8" font-size="7.1" text-anchor="end" fill="#222">1000</text>
<line x1="344.9" y1="221.0" x2="346.5" y2="221.0" stroke="#555" stroke-width="0.7"/>
<text x="342.3" y="223.5" font-size="7.1" text-anchor="end" fill="#222">1500</text>
<line x1="344.9" y1="198.7" x2="346.5" y2="198.7" stroke="#555" stroke-width="0.7"/>
<text x="342.3" y="201.2" font-size="7.1" text-anchor="end" fill="#222">2000</text>
<line x1="344.9" y1="176.4" x2="346.5" y2="176.4" stroke="#555" stroke-width="0.7"/>
<text x="342.3" y="178.9" font-size="7.1" text-anchor="end" fill="#222">2500</text>
<line x1="372.5" y1="300.5" x2="372.5" y2="302.0" stroke="#555" stroke-width="0.7"/>
<text x="372.5" y="310.3" font-size="6.9" text-anchor="middle" fill="#222">Tumor_Free_Lung</text>
<line x1="417.3" y1="300.5" x2="417.3" y2="302.0" stroke="#555" stroke-width="0.7"/>
<text x="417.3" y="310.3" font-size="6.9" text-anchor="middle" fill="#222">Stroma</text>
<line x1="461.5" y1="300.5" x2="461.5" y2="302.0" stroke="#555" stroke-width="0.7"/>
<text x="461.5" y="310.3" font-size="6.9" text-anchor="middle" fill="#222">Tumor</text>
<text x="315.5" y="236.5" font-size="7" text-anchor="middle" fill="#222" transform="rotate(-90 315.5 236.5)">CD45+ pHH3- pSMAD2L+ density</text>
<g fill="#a0a0a0" fill-opacity="0.5"><circle cx="540.5" cy="293.0" r="0.95"/><circle cx="547.3" cy="293.1" r="0.95"/><circle cx="539.2" cy="293.5" r="0.95"/><circle cx="550.3" cy="293.0" r="0.95"/><circle cx="539.3" cy="293.2" r="0.95"/><circle cx="559.1" cy="293.3" r="0.95"/><circle cx="557.5" cy="293.4" r="0.95"/><circle cx="553.2" cy="292.8" r="0.95"/><circle cx="545.4" cy="293.2" r="0.95"/><circle cx="547.8" cy="292.9" r="0.95"/><circle cx="540.1" cy="293.5" r="0.95"/><circle cx="553.3" cy="292.9" r="0.95"/></g>
<g fill="#4a72c0" fill-opacity="0.5"><circle cx="595.4" cy="293.3" r="0.95"/><circle cx="588.3" cy="293.2" r="0.95"/><circle cx="590.2" cy="293.4" r="0.95"/><circle cx="602.7" cy="293.5" r="0.95"/><circle cx="593.5" cy="292.7" r="0.95"/><circle cx="592.2" cy="293.0" r="0.95"/><circle cx="606.1" cy="293.5" r="0.95"/><circle cx="607.0" cy="293.4" r="0.95"/><circle cx="595.9" cy="293.0" r="0.95"/><circle cx="605.1" cy="293.1" r="0.95"/><circle cx="605.3" cy="293.4" r="0.95"/><circle cx="591.3" cy="293.0" r="0.95"/><circle cx="600.3" cy="292.7" r="0.95"/><circle cx="590.7" cy="292.8" r="0.95"/><circle cx="587.4" cy="293.3" r="0.95"/><circle cx="607.0" cy="293.3" r="0.95"/><circle cx="596.2" cy="293.3" r="0.95"/><circle cx="600.2" cy="293.0" r="0.95"/><circle cx="596.5" cy="292.6" r="0.95"/><circle cx="590.4" cy="293.0" r="0.95"/><circle cx="593.0" cy="293.2" r="0.95"/><circle cx="590.4" cy="292.9" r="0.95"/><circle cx="604.3" cy="293.3" r="0.95"/><circle cx="605.6" cy="293.2" r="0.95"/><circle cx="589.4" cy="293.1" r="0.95"/><circle cx="603.4" cy="293.2" r="0.95"/><circle cx="590.1" cy="293.1" r="0.95"/><circle cx="598.1" cy="292.7" r="0.95"/><circle cx="590.5" cy="293.2" r="0.95"/><circle cx="599.8" cy="293.0" r="0.95"/><circle cx="597.7" cy="293.1" r="0.95"/><circle cx="592.7" cy="292.8" r="0.95"/><circle cx="601.4" cy="293.4" r="0.95"/><circle cx="594.7" cy="293.2" r="0.95"/><circle cx="603.3" cy="293.2" r="0.95"/><circle cx="602.9" cy="293.5" r="0.95"/><circle cx="586.0" cy="293.5" r="0.95"/><circle cx="595.0" cy="293.2" r="0.95"/><circle cx="601.3" cy="292.7" r="0.95"/><circle cx="598.0" cy="292.8" r="0.95"/><circle cx="601.2" cy="293.0" r="0.95"/><circle cx="593.4" cy="293.0" r="0.95"/><circle cx="602.9" cy="293.2" r="0.95"/><circle cx="591.7" cy="293.4" r="0.95"/><circle cx="589.2" cy="293.4" r="0.95"/><circle cx="598.4" cy="293.3" r="0.95"/><circle cx="598.7" cy="293.4" r="0.95"/><circle cx="600.4" cy="292.9" r="0.95"/><circle cx="598.1" cy="293.2" r="0.95"/><circle cx="591.4" cy="292.8" r="0.95"/><circle cx="602.7" cy="293.4" r="0.95"/><circle cx="606.3" cy="293.2" r="0.95"/><circle cx="596.2" cy="293.0" r="0.95"/><circle cx="600.6" cy="293.3" r="0.95"/><circle cx="605.9" cy="293.3" r="0.95"/><circle cx="593.5" cy="292.9" r="0.95"/><circle cx="586.1" cy="293.1" r="0.95"/><circle cx="594.5" cy="293.1" r="0.95"/><circle cx="586.3" cy="293.0" r="0.95"/><circle cx="604.9" cy="293.0" r="0.95"/><circle cx="601.5" cy="292.9" r="0.95"/><circle cx="599.6" cy="293.1" r="0.95"/><circle cx="590.6" cy="293.3" r="0.95"/><circle cx="598.0" cy="293.1" r="0.95"/><circle cx="596.4" cy="293.0" r="0.95"/><circle cx="605.0" cy="293.3" r="0.95"/><circle cx="592.6" cy="293.3" r="0.95"/><circle cx="588.5" cy="292.7" r="0.95"/><circle cx="604.6" cy="293.1" r="0.95"/><circle cx="602.7" cy="292.9" r="0.95"/><circle cx="595.5" cy="292.8" r="0.95"/><circle cx="602.7" cy="293.1" r="0.95"/><circle cx="593.8" cy="293.1" r="0.95"/><circle cx="589.7" cy="293.0" r="0.95"/><circle cx="600.3" cy="293.0" r="0.95"/><circle cx="587.4" cy="293.0" r="0.95"/><circle cx="595.1" cy="293.6" r="0.95"/><circle cx="593.6" cy="292.9" r="0.95"/><circle cx="606.5" cy="293.3" r="0.95"/><circle cx="595.2" cy="293.0" r="0.95"/><circle cx="590.1" cy="292.9" r="0.95"/><circle cx="595.5" cy="293.1" r="0.95"/><circle cx="587.4" cy="293.1" r="0.95"/><circle cx="588.9" cy="293.2" r="0.95"/><circle cx="592.7" cy="293.2" r="0.95"/><circle cx="602.3" cy="293.1" r="0.95"/><circle cx="593.5" cy="292.4" r="0.95"/><circle cx="589.8" cy="293.3" r="0.95"/><circle cx="602.9" cy="292.9" r="0.95"/><circle cx="606.6" cy="293.5" r="0.95"/><circle cx="593.1" cy="293.1" r="0.95"/><circle cx="599.9" cy="292.8" r="0.95"/><circle cx="593.2" cy="293.4" r="0.95"/><circle cx="595.8" cy="293.0" r="0.95"/><circle cx="597.5" cy="292.8" r="0.95"/><circle cx="595.5" cy="293.0" r="0.95"/><circle cx="588.8" cy="293.0" r="0.95"/><circle cx="600.6" cy="293.0" r="0.95"/><circle cx="596.1" cy="293.0" r="0.95"/><circle cx="594.4" cy="293.4" r="0.95"/><circle cx="589.8" cy="292.6" r="0.95"/><circle cx="597.6" cy="293.1" r="0.95"/><circle cx="593.5" cy="293.0" r="0.95"/><circle cx="592.6" cy="292.7" r="0.95"/><circle cx="602.5" cy="293.3" r="0.95"/><circle cx="591.2" cy="293.0" r="0.95"/><circle cx="595.2" cy="292.8" r="0.95"/><circle cx="601.2" cy="292.9" r="0.95"/><circle cx="606.9" cy="293.3" r="0.95"/><circle cx="605.0" cy="292.8" r="0.95"/><circle cx="587.5" cy="293.4" r="0.95"/><circle cx="587.5" cy="293.3" r="0.95"/><circle cx="589.0" cy="293.2" r="0.95"/><circle cx="586.3" cy="292.9" r="0.95"/><circle cx="604.2" cy="293.0" r="0.95"/><circle cx="595.0" cy="293.6" r="0.95"/><circle cx="602.4" cy="292.9" r="0.95"/><circle cx="600.6" cy="293.1" r="0.95"/><circle cx="595.3" cy="292.8" r="0.95"/><circle cx="590.1" cy="292.9" r="0.95"/><circle cx="591.1" cy="292.4" r="0.95"/><circle cx="604.3" cy="293.1" r="0.95"/><circle cx="597.4" cy="293.2" r="0.95"/><circle cx="600.0" cy="292.7" r="0.95"/><circle cx="606.1" cy="293.2" r="0.95"/><circle cx="603.6" cy="293.0" r="0.95"/><circle cx="603.4" cy="293.2" r="0.95"/><circle cx="585.8" cy="293.1" r="0.95"/><circle cx="600.5" cy="292.9" r="0.95"/><circle cx="606.0" cy="293.4" r="0.95"/><circle cx="603.5" cy="293.4" r="0.95"/><circle cx="592.6" cy="293.1" r="0.95"/><circle cx="585.2" cy="293.4" r="0.95"/><circle cx="587.0" cy="293.1" r="0.95"/><circle cx="594.8" cy="292.6" r="0.95"/><circle cx="599.1" cy="293.3" r="0.95"/><circle cx="590.0" cy="292.9" r="0.95"/><circle cx="602.1" cy="292.9" r="0.95"/><circle cx="585.5" cy="292.9" r="0.95"/><circle cx="605.9" cy="292.9" r="0.95"/><circle cx="591.5" cy="292.8" r="0.95"/><circle cx="604.6" cy="293.2" r="0.95"/><circle cx="593.6" cy="293.1" r="0.95"/><circle cx="585.7" cy="292.8" r="0.95"/><circle cx="593.3" cy="293.2" r="0.95"/><circle cx="588.2" cy="292.4" r="0.95"/><circle cx="603.9" cy="292.5" r="0.95"/><circle cx="586.3" cy="292.9" r="0.95"/><circle cx="586.8" cy="293.0" r="0.95"/><circle cx="597.8" cy="292.9" r="0.95"/><circle cx="591.4" cy="292.9" r="0.95"/><circle cx="592.4" cy="292.9" r="0.95"/><circle cx="587.5" cy="293.3" r="0.95"/><circle cx="585.1" cy="293.4" r="0.95"/><circle cx="589.7" cy="293.0" r="0.95"/><circle cx="589.2" cy="293.1" r="0.95"/><circle cx="590.9" cy="293.2" r="0.95"/><circle cx="602.2" cy="293.4" r="0.95"/><circle cx="606.5" cy="293.1" r="0.95"/><circle cx="597.2" cy="292.9" r="0.95"/><circle cx="591.4" cy="292.9" r="0.95"/><circle cx="606.5" cy="292.8" r="0.95"/><circle cx="601.5" cy="292.7" r="0.95"/><circle cx="598.2" cy="293.0" r="0.95"/><circle cx="600.9" cy="293.2" r="0.95"/><circle cx="591.9" cy="293.1" r="0.95"/><circle cx="585.2" cy="292.6" r="0.95"/><circle cx="605.1" cy="292.8" r="0.95"/><circle cx="593.8" cy="293.3" r="0.95"/><circle cx="585.9" cy="293.4" r="0.95"/><circle cx="589.6" cy="293.6" r="0.95"/><circle cx="594.6" cy="293.2" r="0.95"/><circle cx="598.4" cy="292.8" r="0.95"/><circle cx="596.2" cy="292.8" r="0.95"/><circle cx="602.5" cy="293.3" r="0.95"/><circle cx="600.1" cy="292.7" r="0.95"/><circle cx="594.1" cy="292.9" r="0.95"/><circle cx="586.0" cy="293.3" r="0.95"/><circle cx="587.3" cy="293.1" r="0.95"/><circle cx="591.0" cy="292.8" r="0.95"/><circle cx="606.1" cy="293.1" r="0.95"/><circle cx="601.2" cy="293.2" r="0.95"/><circle cx="597.5" cy="293.2" r="0.95"/><circle cx="586.5" cy="292.9" r="0.95"/><circle cx="589.9" cy="293.0" r="0.95"/><circle cx="593.8" cy="293.4" r="0.95"/><circle cx="590.2" cy="293.0" r="0.95"/><circle cx="605.3" cy="293.2" r="0.95"/><circle cx="594.5" cy="292.9" r="0.95"/><circle cx="601.2" cy="292.8" r="0.95"/><circle cx="601.0" cy="292.9" r="0.95"/><circle cx="602.8" cy="292.8" r="0.95"/><circle cx="605.2" cy="293.0" r="0.95"/><circle cx="585.6" cy="292.7" r="0.95"/><circle cx="605.2" cy="293.3" r="0.95"/><circle cx="591.5" cy="293.4" r="0.95"/><circle cx="597.9" cy="292.9" r="0.95"/><circle cx="600.2" cy="293.1" r="0.95"/><circle cx="588.2" cy="293.4" r="0.95"/><circle cx="600.9" cy="292.8" r="0.95"/><circle cx="594.5" cy="293.3" r="0.95"/><circle cx="593.3" cy="292.8" r="0.95"/><circle cx="596.7" cy="293.4" r="0.95"/><circle cx="587.2" cy="293.0" r="0.95"/><circle cx="595.7" cy="293.6" r="0.95"/><circle cx="606.9" cy="292.7" r="0.95"/><circle cx="599.2" cy="292.7" r="0.95"/><circle cx="589.7" cy="292.7" r="0.95"/><circle cx="596.1" cy="293.5" r="0.95"/><circle cx="606.3" cy="292.9" r="0.95"/><circle cx="604.9" cy="292.9" r="0.95"/><circle cx="586.7" cy="293.3" r="0.95"/><circle cx="591.1" cy="293.4" r="0.95"/><circle cx="588.0" cy="293.4" r="0.95"/><circle cx="596.4" cy="293.1" r="0.95"/><circle cx="589.1" cy="292.8" r="0.95"/><circle cx="601.8" cy="293.0" r="0.95"/><circle cx="606.7" cy="293.1" r="0.95"/><circle cx="605.0" cy="292.8" r="0.95"/><circle cx="601.3" cy="293.2" r="0.95"/><circle cx="604.5" cy="293.0" r="0.95"/><circle cx="595.3" cy="293.4" r="0.95"/><circle cx="590.7" cy="293.1" r="0.95"/><circle cx="603.7" cy="293.0" r="0.95"/><circle cx="595.9" cy="292.5" r="0.95"/><circle cx="601.9" cy="293.1" r="0.95"/><circle cx="590.3" cy="292.9" r="0.95"/><circle cx="588.1" cy="293.4" r="0.95"/><circle cx="602.6" cy="293.5" r="0.95"/><circle cx="599.9" cy="292.9" r="0.95"/><circle cx="594.4" cy="293.5" r="0.95"/><circle cx="585.1" cy="292.9" r="0.95"/><circle cx="588.4" cy="292.7" r="0.95"/><circle cx="591.2" cy="293.2" r="0.95"/><circle cx="586.6" cy="293.5" r="0.95"/><circle cx="594.6" cy="292.9" r="0.95"/><circle cx="587.3" cy="293.1" r="0.95"/><circle cx="592.8" cy="293.1" r="0.95"/><circle cx="587.5" cy="292.9" r="0.95"/><circle cx="596.2" cy="292.7" r="0.95"/><circle cx="596.1" cy="293.0" r="0.95"/><circle cx="598.1" cy="292.6" r="0.95"/><circle cx="599.0" cy="292.9" r="0.95"/><circle cx="588.2" cy="292.7" r="0.95"/><circle cx="596.8" cy="292.8" r="0.95"/><circle cx="591.2" cy="292.4" r="0.95"/><circle cx="604.8" cy="292.6" r="0.95"/><circle cx="599.9" cy="293.4" r="0.95"/><circle cx="595.0" cy="293.0" r="0.95"/><circle cx="592.4" cy="293.4" r="0.95"/><circle cx="600.2" cy="292.7" r="0.95"/><circle cx="600.6" cy="292.9" r="0.95"/><circle cx="595.7" cy="292.8" r="0.95"/><circle cx="595.8" cy="293.1" r="0.95"/><circle cx="601.2" cy="293.0" r="0.95"/><circle cx="586.3" cy="293.1" r="0.95"/><circle cx="605.2" cy="293.1" r="0.95"/><circle cx="598.7" cy="293.3" r="0.95"/><circle cx="599.1" cy="293.4" r="0.95"/><circle cx="606.1" cy="293.3" r="0.95"/><circle cx="602.9" cy="292.7" r="0.95"/><circle cx="590.9" cy="293.3" r="0.95"/><circle cx="597.9" cy="293.1" r="0.95"/><circle cx="602.1" cy="292.8" r="0.95"/><circle cx="588.9" cy="293.3" r="0.95"/><circle cx="587.5" cy="293.0" r="0.95"/><circle cx="591.2" cy="293.1" r="0.95"/><circle cx="599.5" cy="293.3" r="0.95"/><circle cx="598.7" cy="292.7" r="0.95"/><circle cx="604.8" cy="293.2" r="0.95"/><circle cx="605.1" cy="293.2" r="0.95"/><circle cx="599.3" cy="293.3" r="0.95"/><circle cx="601.5" cy="293.3" r="0.95"/><circle cx="586.0" cy="292.8" r="0.95"/><circle cx="600.9" cy="293.4" r="0.95"/><circle cx="593.6" cy="292.8" r="0.95"/><circle cx="594.8" cy="293.2" r="0.95"/><circle cx="601.7" cy="292.6" r="0.95"/><circle cx="589.5" cy="292.9" r="0.95"/><circle cx="601.5" cy="292.8" r="0.95"/><circle cx="604.7" cy="292.8" r="0.95"/><circle cx="589.3" cy="293.1" r="0.95"/><circle cx="588.2" cy="293.5" r="0.95"/><circle cx="585.6" cy="292.9" r="0.95"/><circle cx="593.4" cy="292.6" r="0.95"/><circle cx="590.0" cy="293.6" r="0.95"/><circle cx="604.0" cy="293.1" r="0.95"/><circle cx="604.3" cy="293.4" r="0.95"/><circle cx="604.0" cy="293.3" r="0.95"/><circle cx="597.6" cy="293.1" r="0.95"/><circle cx="600.9" cy="293.2" r="0.95"/><circle cx="606.5" cy="292.9" r="0.95"/><circle cx="604.9" cy="293.2" r="0.95"/><circle cx="594.8" cy="293.4" r="0.95"/><circle cx="591.4" cy="293.1" r="0.95"/><circle cx="597.8" cy="293.1" r="0.95"/><circle cx="590.4" cy="293.1" r="0.95"/><circle cx="599.6" cy="293.5" r="0.95"/><circle cx="591.7" cy="293.1" r="0.95"/><circle cx="604.6" cy="293.2" r="0.95"/><circle cx="600.5" cy="290.7" r="0.95"/><circle cx="599.0" cy="289.6" r="0.95"/><circle cx="589.3" cy="288.6" r="0.95"/><circle cx="606.6" cy="289.0" r="0.95"/><circle cx="586.0" cy="283.8" r="0.95"/><circle cx="590.4" cy="291.6" r="0.95"/></g>
<g fill="#e8501e" fill-opacity="0.5"><circle cx="635.2" cy="293.4" r="0.95"/><circle cx="635.5" cy="293.1" r="0.95"/><circle cx="652.6" cy="292.8" r="0.95"/><circle cx="644.0" cy="292.9" r="0.95"/><circle cx="647.8" cy="292.7" r="0.95"/><circle cx="646.1" cy="292.9" r="0.95"/><circle cx="652.3" cy="293.0" r="0.95"/><circle cx="645.9" cy="292.7" r="0.95"/><circle cx="651.9" cy="293.2" r="0.95"/><circle cx="651.3" cy="293.4" r="0.95"/><circle cx="632.5" cy="293.4" r="0.95"/><circle cx="639.6" cy="292.9" r="0.95"/><circle cx="650.8" cy="293.1" r="0.95"/><circle cx="638.9" cy="292.7" r="0.95"/><circle cx="645.5" cy="292.8" r="0.95"/><circle cx="636.5" cy="292.8" r="0.95"/><circle cx="635.0" cy="293.3" r="0.95"/><circle cx="637.1" cy="293.5" r="0.95"/><circle cx="637.3" cy="293.3" r="0.95"/><circle cx="647.4" cy="293.3" r="0.95"/><circle cx="644.5" cy="292.8" r="0.95"/><circle cx="649.4" cy="293.3" r="0.95"/><circle cx="642.9" cy="292.7" r="0.95"/><circle cx="633.1" cy="292.9" r="0.95"/><circle cx="652.6" cy="292.9" r="0.95"/><circle cx="637.4" cy="293.2" r="0.95"/><circle cx="632.0" cy="293.2" r="0.95"/><circle cx="648.3" cy="293.0" r="0.95"/><circle cx="631.9" cy="293.5" r="0.95"/><circle cx="649.0" cy="293.2" r="0.95"/><circle cx="635.8" cy="293.5" r="0.95"/><circle cx="645.3" cy="292.8" r="0.95"/><circle cx="652.8" cy="293.2" r="0.95"/><circle cx="635.2" cy="293.3" r="0.95"/><circle cx="644.3" cy="293.2" r="0.95"/><circle cx="631.8" cy="292.9" r="0.95"/><circle cx="648.6" cy="292.7" r="0.95"/><circle cx="635.5" cy="292.7" r="0.95"/><circle cx="644.0" cy="292.8" r="0.95"/><circle cx="648.5" cy="293.1" r="0.95"/><circle cx="648.4" cy="293.5" r="0.95"/><circle cx="652.6" cy="292.7" r="0.95"/><circle cx="639.2" cy="293.4" r="0.95"/><circle cx="638.5" cy="293.4" r="0.95"/><circle cx="638.6" cy="293.1" r="0.95"/><circle cx="636.8" cy="293.3" r="0.95"/><circle cx="637.4" cy="293.1" r="0.95"/><circle cx="647.1" cy="293.5" r="0.95"/><circle cx="634.3" cy="292.8" r="0.95"/><circle cx="635.9" cy="293.2" r="0.95"/><circle cx="646.0" cy="293.3" r="0.95"/><circle cx="649.0" cy="292.7" r="0.95"/><circle cx="642.1" cy="292.6" r="0.95"/><circle cx="638.9" cy="293.0" r="0.95"/><circle cx="636.9" cy="293.4" r="0.95"/><circle cx="635.9" cy="293.0" r="0.95"/><circle cx="646.2" cy="292.9" r="0.95"/><circle cx="645.8" cy="293.0" r="0.95"/><circle cx="632.3" cy="292.7" r="0.95"/><circle cx="645.6" cy="293.1" r="0.95"/><circle cx="646.2" cy="293.4" r="0.95"/><circle cx="645.8" cy="293.2" r="0.95"/><circle cx="649.6" cy="293.2" r="0.95"/><circle cx="642.9" cy="292.6" r="0.95"/><circle cx="636.4" cy="292.8" r="0.95"/><circle cx="633.6" cy="293.0" r="0.95"/><circle cx="637.6" cy="293.0" r="0.95"/><circle cx="649.4" cy="293.0" r="0.95"/><circle cx="650.9" cy="293.4" r="0.95"/><circle cx="635.4" cy="293.2" r="0.95"/><circle cx="635.5" cy="292.6" r="0.95"/><circle cx="636.0" cy="292.9" r="0.95"/><circle cx="631.4" cy="292.5" r="0.95"/><circle cx="649.0" cy="293.4" r="0.95"/><circle cx="650.2" cy="292.8" r="0.95"/><circle cx="631.7" cy="293.2" r="0.95"/><circle cx="639.4" cy="292.9" r="0.95"/><circle cx="646.6" cy="293.2" r="0.95"/><circle cx="638.4" cy="292.9" r="0.95"/><circle cx="633.7" cy="293.4" r="0.95"/><circle cx="651.1" cy="292.6" r="0.95"/><circle cx="636.1" cy="293.0" r="0.95"/><circle cx="637.1" cy="293.1" r="0.95"/><circle cx="642.2" cy="293.0" r="0.95"/><circle cx="633.8" cy="292.9" r="0.95"/><circle cx="649.0" cy="292.6" r="0.95"/><circle cx="643.0" cy="293.4" r="0.95"/><circle cx="643.8" cy="292.9" r="0.95"/><circle cx="651.6" cy="293.3" r="0.95"/><circle cx="653.1" cy="292.7" r="0.95"/><circle cx="641.8" cy="293.2" r="0.95"/><circle cx="649.7" cy="293.2" r="0.95"/><circle cx="643.3" cy="293.1" r="0.95"/><circle cx="650.8" cy="293.0" r="0.95"/><circle cx="634.1" cy="292.7" r="0.95"/><circle cx="636.6" cy="292.3" r="0.95"/><circle cx="652.7" cy="293.2" r="0.95"/><circle cx="648.8" cy="293.1" r="0.95"/><circle cx="642.7" cy="292.8" r="0.95"/><circle cx="650.8" cy="293.1" r="0.95"/><circle cx="640.1" cy="293.3" r="0.95"/><circle cx="650.3" cy="293.4" r="0.95"/><circle cx="641.8" cy="293.0" r="0.95"/><circle cx="649.4" cy="292.9" r="0.95"/><circle cx="635.7" cy="293.2" r="0.95"/><circle cx="637.9" cy="292.9" r="0.95"/><circle cx="648.2" cy="293.0" r="0.95"/><circle cx="645.0" cy="292.8" r="0.95"/><circle cx="633.7" cy="293.2" r="0.95"/><circle cx="648.2" cy="293.3" r="0.95"/><circle cx="644.6" cy="292.8" r="0.95"/><circle cx="642.2" cy="293.4" r="0.95"/><circle cx="648.5" cy="293.2" r="0.95"/><circle cx="645.1" cy="292.8" r="0.95"/><circle cx="632.4" cy="293.4" r="0.95"/><circle cx="631.6" cy="292.8" r="0.95"/><circle cx="640.0" cy="293.3" r="0.95"/><circle cx="646.5" cy="293.3" r="0.95"/><circle cx="651.7" cy="292.9" r="0.95"/><circle cx="636.7" cy="292.9" r="0.95"/><circle cx="638.5" cy="292.8" r="0.95"/><circle cx="652.3" cy="293.1" r="0.95"/><circle cx="642.0" cy="292.7" r="0.95"/><circle cx="651.3" cy="292.8" r="0.95"/><circle cx="648.1" cy="292.9" r="0.95"/><circle cx="637.2" cy="292.7" r="0.95"/><circle cx="643.0" cy="293.0" r="0.95"/><circle cx="643.8" cy="293.2" r="0.95"/><circle cx="636.2" cy="292.8" r="0.95"/><circle cx="642.5" cy="293.1" r="0.95"/><circle cx="641.0" cy="292.8" r="0.95"/><circle cx="634.8" cy="292.8" r="0.95"/><circle cx="647.2" cy="293.0" r="0.95"/><circle cx="646.3" cy="293.2" r="0.95"/><circle cx="642.5" cy="292.7" r="0.95"/><circle cx="651.3" cy="292.8" r="0.95"/><circle cx="641.3" cy="292.9" r="0.95"/><circle cx="639.5" cy="293.2" r="0.95"/><circle cx="640.1" cy="293.3" r="0.95"/><circle cx="633.9" cy="293.1" r="0.95"/><circle cx="637.2" cy="292.9" r="0.95"/><circle cx="637.9" cy="293.1" r="0.95"/><circle cx="645.4" cy="293.1" r="0.95"/><circle cx="650.1" cy="292.9" r="0.95"/><circle cx="650.0" cy="293.1" r="0.95"/><circle cx="648.6" cy="293.0" r="0.95"/><circle cx="636.9" cy="293.4" r="0.95"/><circle cx="645.2" cy="293.2" r="0.95"/><circle cx="642.7" cy="293.3" r="0.95"/><circle cx="652.2" cy="293.3" r="0.95"/><circle cx="652.5" cy="292.9" r="0.95"/><circle cx="637.8" cy="293.4" r="0.95"/><circle cx="649.5" cy="293.3" r="0.95"/><circle cx="640.8" cy="293.1" r="0.95"/><circle cx="652.0" cy="292.8" r="0.95"/><circle cx="634.9" cy="292.9" r="0.95"/><circle cx="637.9" cy="293.0" r="0.95"/><circle cx="639.6" cy="293.1" r="0.95"/><circle cx="632.0" cy="293.0" r="0.95"/><circle cx="642.4" cy="292.8" r="0.95"/><circle cx="641.8" cy="293.5" r="0.95"/><circle cx="645.6" cy="293.5" r="0.95"/><circle cx="650.1" cy="292.8" r="0.95"/><circle cx="631.7" cy="292.6" r="0.95"/><circle cx="643.9" cy="293.3" r="0.95"/><circle cx="638.5" cy="292.9" r="0.95"/><circle cx="647.9" cy="292.8" r="0.95"/><circle cx="641.5" cy="292.9" r="0.95"/><circle cx="643.4" cy="293.2" r="0.95"/><circle cx="646.8" cy="293.3" r="0.95"/><circle cx="632.9" cy="293.4" r="0.95"/><circle cx="638.3" cy="292.8" r="0.95"/><circle cx="638.8" cy="293.4" r="0.95"/><circle cx="640.9" cy="292.8" r="0.95"/><circle cx="641.6" cy="292.8" r="0.95"/><circle cx="631.5" cy="292.7" r="0.95"/><circle cx="639.6" cy="293.1" r="0.95"/><circle cx="631.2" cy="292.8" r="0.95"/><circle cx="651.0" cy="293.2" r="0.95"/><circle cx="652.8" cy="293.1" r="0.95"/><circle cx="652.2" cy="293.3" r="0.95"/><circle cx="639.7" cy="292.8" r="0.95"/><circle cx="634.4" cy="293.3" r="0.95"/><circle cx="645.8" cy="292.9" r="0.95"/><circle cx="634.8" cy="292.8" r="0.95"/><circle cx="651.7" cy="293.0" r="0.95"/><circle cx="653.1" cy="293.2" r="0.95"/><circle cx="635.8" cy="292.8" r="0.95"/><circle cx="646.9" cy="293.4" r="0.95"/><circle cx="635.7" cy="293.0" r="0.95"/><circle cx="634.3" cy="292.7" r="0.95"/><circle cx="636.2" cy="293.0" r="0.95"/><circle cx="636.4" cy="293.2" r="0.95"/><circle cx="636.5" cy="293.0" r="0.95"/><circle cx="640.4" cy="292.7" r="0.95"/><circle cx="632.3" cy="292.8" r="0.95"/><circle cx="631.3" cy="293.3" r="0.95"/><circle cx="632.3" cy="293.1" r="0.95"/><circle cx="650.8" cy="293.2" r="0.95"/><circle cx="637.9" cy="292.6" r="0.95"/><circle cx="640.6" cy="292.8" r="0.95"/><circle cx="632.4" cy="292.7" r="0.95"/><circle cx="634.3" cy="292.9" r="0.95"/><circle cx="638.5" cy="292.8" r="0.95"/><circle cx="644.7" cy="292.8" r="0.95"/><circle cx="642.4" cy="293.4" r="0.95"/><circle cx="642.1" cy="293.2" r="0.95"/><circle cx="648.4" cy="293.1" r="0.95"/><circle cx="635.9" cy="292.8" r="0.95"/><circle cx="646.4" cy="292.7" r="0.95"/><circle cx="637.6" cy="292.8" r="0.95"/><circle cx="635.2" cy="293.3" r="0.95"/><circle cx="641.6" cy="293.3" r="0.95"/><circle cx="649.8" cy="292.9" r="0.95"/><circle cx="636.2" cy="293.5" r="0.95"/><circle cx="636.4" cy="293.2" r="0.95"/><circle cx="651.8" cy="292.8" r="0.95"/><circle cx="640.5" cy="293.5" r="0.95"/><circle cx="650.2" cy="293.4" r="0.95"/><circle cx="646.8" cy="292.9" r="0.95"/><circle cx="632.3" cy="292.8" r="0.95"/><circle cx="651.5" cy="292.8" r="0.95"/><circle cx="650.6" cy="293.3" r="0.95"/><circle cx="636.4" cy="293.3" r="0.95"/><circle cx="637.2" cy="292.6" r="0.95"/><circle cx="637.2" cy="293.6" r="0.95"/><circle cx="651.9" cy="293.0" r="0.95"/><circle cx="641.8" cy="293.4" r="0.95"/><circle cx="648.9" cy="293.3" r="0.95"/><circle cx="639.2" cy="293.0" r="0.95"/><circle cx="642.5" cy="293.2" r="0.95"/><circle cx="644.7" cy="293.4" r="0.95"/><circle cx="635.5" cy="292.9" r="0.95"/><circle cx="651.4" cy="293.2" r="0.95"/><circle cx="648.7" cy="293.4" r="0.95"/><circle cx="640.9" cy="293.3" r="0.95"/><circle cx="646.4" cy="293.1" r="0.95"/><circle cx="642.6" cy="293.1" r="0.95"/><circle cx="650.6" cy="293.5" r="0.95"/><circle cx="639.3" cy="293.2" r="0.95"/><circle cx="643.3" cy="293.4" r="0.95"/><circle cx="636.5" cy="293.0" r="0.95"/><circle cx="636.8" cy="293.4" r="0.95"/><circle cx="646.8" cy="292.6" r="0.95"/><circle cx="633.6" cy="292.8" r="0.95"/><circle cx="644.2" cy="293.3" r="0.95"/><circle cx="638.8" cy="292.7" r="0.95"/><circle cx="644.1" cy="293.2" r="0.95"/><circle cx="640.7" cy="292.9" r="0.95"/><circle cx="638.8" cy="292.9" r="0.95"/><circle cx="649.1" cy="293.0" r="0.95"/><circle cx="646.9" cy="293.0" r="0.95"/><circle cx="636.2" cy="292.6" r="0.95"/><circle cx="645.9" cy="293.3" r="0.95"/><circle cx="651.4" cy="292.6" r="0.95"/><circle cx="636.9" cy="292.7" r="0.95"/><circle cx="635.4" cy="293.0" r="0.95"/><circle cx="647.0" cy="293.5" r="0.95"/><circle cx="644.2" cy="292.9" r="0.95"/><circle cx="639.5" cy="292.8" r="0.95"/><circle cx="637.4" cy="293.2" r="0.95"/><circle cx="642.2" cy="292.7" r="0.95"/><circle cx="637.3" cy="293.5" r="0.95"/><circle cx="645.1" cy="293.1" r="0.95"/><circle cx="638.3" cy="292.9" r="0.95"/><circle cx="648.0" cy="292.7" r="0.95"/><circle cx="645.6" cy="293.4" r="0.95"/><circle cx="645.2" cy="292.7" r="0.95"/><circle cx="631.9" cy="293.4" r="0.95"/><circle cx="635.3" cy="293.1" r="0.95"/><circle cx="645.5" cy="293.2" r="0.95"/><circle cx="637.5" cy="293.3" r="0.95"/><circle cx="651.3" cy="293.1" r="0.95"/><circle cx="639.9" cy="293.3" r="0.95"/><circle cx="650.4" cy="293.0" r="0.95"/><circle cx="651.6" cy="293.0" r="0.95"/><circle cx="652.2" cy="293.0" r="0.95"/><circle cx="646.0" cy="292.5" r="0.95"/><circle cx="633.8" cy="293.0" r="0.95"/><circle cx="652.0" cy="292.7" r="0.95"/><circle cx="638.0" cy="293.5" r="0.95"/><circle cx="652.8" cy="293.2" r="0.95"/><circle cx="639.0" cy="293.3" r="0.95"/><circle cx="632.6" cy="292.8" r="0.95"/><circle cx="632.6" cy="292.8" r="0.95"/><circle cx="636.5" cy="293.4" r="0.95"/><circle cx="641.0" cy="293.4" r="0.95"/><circle cx="641.9" cy="292.9" r="0.95"/><circle cx="638.7" cy="292.8" r="0.95"/><circle cx="641.2" cy="293.4" r="0.95"/><circle cx="652.6" cy="293.5" r="0.95"/><circle cx="633.4" cy="293.1" r="0.95"/><circle cx="649.5" cy="292.9" r="0.95"/><circle cx="632.6" cy="292.8" r="0.95"/><circle cx="633.1" cy="293.3" r="0.95"/><circle cx="646.9" cy="293.3" r="0.95"/><circle cx="632.3" cy="293.2" r="0.95"/><circle cx="648.7" cy="292.9" r="0.95"/><circle cx="632.9" cy="293.5" r="0.95"/><circle cx="648.6" cy="292.8" r="0.95"/><circle cx="635.3" cy="293.1" r="0.95"/><circle cx="635.0" cy="293.1" r="0.95"/><circle cx="634.5" cy="292.9" r="0.95"/><circle cx="641.9" cy="293.0" r="0.95"/><circle cx="649.8" cy="292.6" r="0.95"/><circle cx="639.0" cy="292.8" r="0.95"/><circle cx="643.4" cy="292.8" r="0.95"/><circle cx="638.5" cy="293.5" r="0.95"/><circle cx="645.5" cy="293.1" r="0.95"/><circle cx="644.5" cy="292.9" r="0.95"/><circle cx="646.3" cy="293.6" r="0.95"/><circle cx="633.2" cy="293.3" r="0.95"/><circle cx="638.8" cy="292.9" r="0.95"/><circle cx="645.6" cy="293.4" r="0.95"/><circle cx="634.9" cy="292.9" r="0.95"/><circle cx="642.2" cy="293.0" r="0.95"/><circle cx="642.3" cy="293.3" r="0.95"/><circle cx="631.8" cy="293.1" r="0.95"/><circle cx="635.6" cy="292.8" r="0.95"/><circle cx="644.2" cy="293.5" r="0.95"/><circle cx="641.5" cy="293.2" r="0.95"/><circle cx="646.6" cy="293.4" r="0.95"/><circle cx="652.5" cy="292.9" r="0.95"/><circle cx="635.1" cy="293.3" r="0.95"/><circle cx="644.5" cy="293.1" r="0.95"/><circle cx="634.4" cy="293.1" r="0.95"/><circle cx="633.8" cy="292.9" r="0.95"/><circle cx="633.9" cy="292.9" r="0.95"/><circle cx="640.3" cy="293.3" r="0.95"/><circle cx="651.8" cy="293.1" r="0.95"/><circle cx="643.9" cy="289.4" r="0.95"/><circle cx="639.6" cy="283.8" r="0.95"/><circle cx="631.3" cy="284.7" r="0.95"/><circle cx="647.1" cy="290.7" r="0.95"/><circle cx="646.3" cy="291.3" r="0.95"/><circle cx="640.2" cy="288.4" r="0.95"/></g>
<circle cx="605.3" cy="274.8" r="0.95" fill="#4a72c0" fill-opacity="0.5"/>
<line x1="549.5" y1="293.2" x2="549.5" y2="293.2" stroke="#555" stroke-width="0.9" stroke-opacity="0.8"/>
<circle cx="549.5" cy="293.2" r="1.0" fill="#111"/>
<line x1="596.5" y1="294.1" x2="596.5" y2="291.8" stroke="#555" stroke-width="0.9" stroke-opacity="0.8"/>
<circle cx="596.5" cy="292.9" r="1.0" fill="#111"/>
<line x1="642.5" y1="293.8" x2="642.5" y2="292.3" stroke="#555" stroke-width="0.9" stroke-opacity="0.8"/>
<circle cx="642.5" cy="293.0" r="1.0" fill="#111"/>
<path d="M549.6 179.7V178.5H642.2V179.7" fill="none" stroke="#9a9a9a" stroke-width="0.9"/>
<text x="596.5" y="175.9" font-size="7.5" text-anchor="middle" fill="#1a1a1a">ns</text>
<path d="M596.1 225.7V224.5H642.2V225.7" fill="none" stroke="#9a9a9a" stroke-width="0.9"/>
<text x="619.8" y="221.9" font-size="7.5" text-anchor="middle" fill="#1a1a1a">ns</text>
<path d="M549.6 248.7V247.5H596.1V248.7" fill="none" stroke="#9a9a9a" stroke-width="0.9"/>
<text x="573.5" y="244.9" font-size="7.5" text-anchor="middle" fill="#1a1a1a">ns</text>
<rect x="522.5" y="172.5" width="148.0" height="128.0" fill="none" stroke="#b4b4b4" stroke-width="1"/>
<line x1="520.9" y1="293.2" x2="522.5" y2="293.2" stroke="#555" stroke-width="0.7"/>
<text x="518.3" y="295.7" font-size="7.1" text-anchor="end" fill="#222">0</text>
<line x1="520.9" y1="256.4" x2="522.5" y2="256.4" stroke="#555" stroke-width="0.7"/>
<text x="518.3" y="258.9" font-size="7.1" text-anchor="end" fill="#222">4</text>
<line x1="520.9" y1="219.6" x2="522.5" y2="219.6" stroke="#555" stroke-width="0.7"/>
<text x="518.3" y="222.1" font-size="7.1" text-anchor="end" fill="#222">8</text>
<line x1="520.9" y1="182.8" x2="522.5" y2="182.8" stroke="#555" stroke-width="0.7"/>
<text x="518.3" y="185.3" font-size="7.1" text-anchor="end" fill="#222">12</text>
<line x1="549.6" y1="300.5" x2="549.6" y2="302.0" stroke="#555" stroke-width="0.7"/>
<text x="549.6" y="310.3" font-size="6.9" text-anchor="middle" fill="#222">Tumor_Free_Lung</text>
<line x1="596.1" y1="300.5" x2="596.1" y2="302.0" stroke="#555" stroke-width="0.7"/>
<text x="596.1" y="310.3" font-size="6.9" text-anchor="middle" fill="#222">Stroma</text>
<line x1="642.2" y1="300.5" x2="642.2" y2="302.0" stroke="#555" stroke-width="0.7"/>
<text x="642.2" y="310.3" font-size="6.9" text-anchor="middle" fill="#222">Tumor</text>
<text x="502" y="236" font-size="7" text-anchor="middle" fill="#222" transform="rotate(-90 502 236)">CD45+ pHH3+ pSMAD2L+ density</text>
<g fill="#a0a0a0" fill-opacity="0.5"><circle cx="366.6" cy="400.3" r="0.95"/><circle cx="374.2" cy="404.1" r="0.95"/><circle cx="373.1" cy="407.1" r="0.95"/><circle cx="367.8" cy="412.9" r="0.95"/><circle cx="370.8" cy="416.2" r="0.95"/><circle cx="380.9" cy="420.0" r="0.95"/><circle cx="371.3" cy="422.9" r="0.95"/><circle cx="382.3" cy="424.3" r="0.95"/><circle cx="371.9" cy="427.1" r="0.95"/><circle cx="371.4" cy="428.9" r="0.95"/><circle cx="361.6" cy="431.5" r="0.95"/><circle cx="372.3" cy="434.7" r="0.95"/><circle cx="368.0" cy="437.3" r="0.95"/><circle cx="368.4" cy="441.3" r="0.95"/></g>
<g fill="#4a72c0" fill-opacity="0.5"><circle cx="407.9" cy="447.0" r="0.95"/><circle cx="410.4" cy="448.8" r="0.95"/><circle cx="421.2" cy="452.1" r="0.95"/><circle cx="416.6" cy="449.0" r="0.95"/><circle cx="425.3" cy="444.8" r="0.95"/><circle cx="424.0" cy="446.3" r="0.95"/><circle cx="410.5" cy="453.4" r="0.95"/><circle cx="422.2" cy="447.5" r="0.95"/><circle cx="426.0" cy="451.2" r="0.95"/><circle cx="425.6" cy="452.6" r="0.95"/><circle cx="417.5" cy="437.7" r="0.95"/><circle cx="409.3" cy="448.2" r="0.95"/><circle cx="405.9" cy="446.7" r="0.95"/><circle cx="426.6" cy="452.7" r="0.95"/><circle cx="415.0" cy="444.8" r="0.95"/><circle cx="426.1" cy="440.3" r="0.95"/><circle cx="424.4" cy="442.1" r="0.95"/><circle cx="415.8" cy="446.8" r="0.95"/><circle cx="418.6" cy="445.2" r="0.95"/><circle cx="418.2" cy="445.9" r="0.95"/><circle cx="412.4" cy="449.7" r="0.95"/><circle cx="406.0" cy="450.6" r="0.95"/><circle cx="420.3" cy="445.6" r="0.95"/><circle cx="424.2" cy="446.0" r="0.95"/><circle cx="426.4" cy="443.8" r="0.95"/><circle cx="418.2" cy="452.0" r="0.95"/><circle cx="419.2" cy="438.4" r="0.95"/><circle cx="425.4" cy="449.8" r="0.95"/><circle cx="425.2" cy="439.5" r="0.95"/><circle cx="420.6" cy="452.7" r="0.95"/><circle cx="419.6" cy="436.9" r="0.95"/><circle cx="427.5" cy="446.3" r="0.95"/><circle cx="414.1" cy="452.6" r="0.95"/><circle cx="408.1" cy="445.1" r="0.95"/><circle cx="419.9" cy="451.9" r="0.95"/><circle cx="415.7" cy="452.2" r="0.95"/><circle cx="427.6" cy="450.3" r="0.95"/><circle cx="419.6" cy="452.3" r="0.95"/><circle cx="408.4" cy="450.7" r="0.95"/><circle cx="418.2" cy="442.3" r="0.95"/><circle cx="411.4" cy="447.8" r="0.95"/><circle cx="412.8" cy="447.3" r="0.95"/><circle cx="410.0" cy="451.2" r="0.95"/><circle cx="414.2" cy="446.5" r="0.95"/><circle cx="408.7" cy="445.8" r="0.95"/><circle cx="417.1" cy="448.2" r="0.95"/><circle cx="412.5" cy="439.7" r="0.95"/><circle cx="408.4" cy="445.1" r="0.95"/><circle cx="413.9" cy="451.3" r="0.95"/><circle cx="410.9" cy="453.0" r="0.95"/><circle cx="422.0" cy="448.3" r="0.95"/><circle cx="406.4" cy="445.3" r="0.95"/><circle cx="425.7" cy="451.5" r="0.95"/><circle cx="411.8" cy="449.2" r="0.95"/><circle cx="410.2" cy="445.2" r="0.95"/><circle cx="425.1" cy="446.2" r="0.95"/><circle cx="414.4" cy="453.9" r="0.95"/><circle cx="426.2" cy="450.1" r="0.95"/><circle cx="420.3" cy="453.3" r="0.95"/><circle cx="427.3" cy="453.3" r="0.95"/><circle cx="414.6" cy="445.8" r="0.95"/><circle cx="412.0" cy="450.7" r="0.95"/><circle cx="416.9" cy="448.8" r="0.95"/><circle cx="415.6" cy="451.0" r="0.95"/><circle cx="418.3" cy="451.5" r="0.95"/><circle cx="410.3" cy="452.5" r="0.95"/><circle cx="416.8" cy="451.8" r="0.95"/><circle cx="409.4" cy="444.7" r="0.95"/><circle cx="415.5" cy="448.9" r="0.95"/><circle cx="409.7" cy="451.9" r="0.95"/><circle cx="417.5" cy="452.9" r="0.95"/><circle cx="412.7" cy="452.1" r="0.95"/><circle cx="426.3" cy="447.8" r="0.95"/><circle cx="413.2" cy="450.4" r="0.95"/><circle cx="417.0" cy="448.3" r="0.95"/><circle cx="408.1" cy="445.7" r="0.95"/><circle cx="419.2" cy="452.9" r="0.95"/><circle cx="421.8" cy="448.2" r="0.95"/><circle cx="407.0" cy="453.0" r="0.95"/><circle cx="417.2" cy="445.4" r="0.95"/><circle cx="417.9" cy="452.4" r="0.95"/><circle cx="413.2" cy="452.3" r="0.95"/><circle cx="414.3" cy="438.5" r="0.95"/><circle cx="410.6" cy="451.5" r="0.95"/><circle cx="416.1" cy="452.0" r="0.95"/><circle cx="422.2" cy="443.3" r="0.95"/><circle cx="427.3" cy="449.4" r="0.95"/><circle cx="421.0" cy="442.8" r="0.95"/><circle cx="411.4" cy="451.4" r="0.95"/><circle cx="414.8" cy="450.1" r="0.95"/><circle cx="408.2" cy="438.7" r="0.95"/><circle cx="421.2" cy="450.4" r="0.95"/><circle cx="409.0" cy="431.9" r="0.95"/><circle cx="419.6" cy="452.3" r="0.95"/><circle cx="425.1" cy="445.4" r="0.95"/><circle cx="419.5" cy="452.6" r="0.95"/><circle cx="418.0" cy="450.2" r="0.95"/><circle cx="413.2" cy="453.7" r="0.95"/><circle cx="418.8" cy="453.0" r="0.95"/><circle cx="422.7" cy="439.8" r="0.95"/><circle cx="417.6" cy="451.0" r="0.95"/><circle cx="418.9" cy="445.8" r="0.95"/><circle cx="412.4" cy="451.9" r="0.95"/><circle cx="417.9" cy="451.3" r="0.95"/><circle cx="426.9" cy="452.9" r="0.95"/><circle cx="425.3" cy="449.6" r="0.95"/><circle cx="409.8" cy="444.2" r="0.95"/><circle cx="412.7" cy="450.5" r="0.95"/><circle cx="419.2" cy="451.0" r="0.95"/><circle cx="412.4" cy="440.6" r="0.95"/><circle cx="416.5" cy="442.9" r="0.95"/><circle cx="412.5" cy="448.5" r="0.95"/><circle cx="415.4" cy="453.5" r="0.95"/><circle cx="420.5" cy="448.7" r="0.95"/><circle cx="423.9" cy="450.4" r="0.95"/><circle cx="410.8" cy="438.0" r="0.95"/><circle cx="426.5" cy="451.5" r="0.95"/><circle cx="424.1" cy="448.8" r="0.95"/><circle cx="407.6" cy="449.1" r="0.95"/><circle cx="406.1" cy="451.5" r="0.95"/><circle cx="423.0" cy="450.0" r="0.95"/><circle cx="425.2" cy="448.4" r="0.95"/><circle cx="416.5" cy="442.0" r="0.95"/><circle cx="409.1" cy="450.0" r="0.95"/><circle cx="417.5" cy="451.5" r="0.95"/><circle cx="409.7" cy="435.7" r="0.95"/><circle cx="407.3" cy="453.2" r="0.95"/><circle cx="420.3" cy="444.7" r="0.95"/><circle cx="417.1" cy="447.8" r="0.95"/><circle cx="425.0" cy="449.5" r="0.95"/><circle cx="426.1" cy="451.1" r="0.95"/><circle cx="426.8" cy="446.8" r="0.95"/><circle cx="420.6" cy="442.6" r="0.95"/><circle cx="427.0" cy="447.5" r="0.95"/><circle cx="406.4" cy="446.7" r="0.95"/><circle cx="407.9" cy="453.3" r="0.95"/><circle cx="426.2" cy="451.9" r="0.95"/><circle cx="412.8" cy="453.1" r="0.95"/><circle cx="405.8" cy="439.0" r="0.95"/><circle cx="414.2" cy="442.6" r="0.95"/><circle cx="425.8" cy="453.0" r="0.95"/><circle cx="427.5" cy="449.5" r="0.95"/><circle cx="419.3" cy="449.2" r="0.95"/><circle cx="416.1" cy="453.7" r="0.95"/><circle cx="417.9" cy="451.3" r="0.95"/><circle cx="415.7" cy="446.9" r="0.95"/><circle cx="405.9" cy="448.5" r="0.95"/><circle cx="409.7" cy="451.7" r="0.95"/><circle cx="406.8" cy="446.9" r="0.95"/><circle cx="427.5" cy="452.1" r="0.95"/><circle cx="423.9" cy="449.6" r="0.95"/><circle cx="424.3" cy="450.9" r="0.95"/><circle cx="424.4" cy="435.1" r="0.95"/><circle cx="412.2" cy="448.6" r="0.95"/><circle cx="410.5" cy="445.6" r="0.95"/><circle cx="421.6" cy="448.4" r="0.95"/><circle cx="427.2" cy="451.4" r="0.95"/><circle cx="413.3" cy="437.8" r="0.95"/><circle cx="418.5" cy="447.7" r="0.95"/><circle cx="425.8" cy="448.0" r="0.95"/><circle cx="426.8" cy="452.0" r="0.95"/><circle cx="415.4" cy="452.4" r="0.95"/><circle cx="412.7" cy="449.5" r="0.95"/><circle cx="405.9" cy="445.2" r="0.95"/><circle cx="408.2" cy="445.8" r="0.95"/><circle cx="425.0" cy="451.9" r="0.95"/><circle cx="408.1" cy="452.9" r="0.95"/><circle cx="416.3" cy="449.8" r="0.95"/><circle cx="412.1" cy="443.6" r="0.95"/><circle cx="415.0" cy="452.8" r="0.95"/><circle cx="407.1" cy="447.3" r="0.95"/><circle cx="419.1" cy="452.5" r="0.95"/><circle cx="418.1" cy="452.2" r="0.95"/><circle cx="425.2" cy="453.4" r="0.95"/><circle cx="417.1" cy="452.1" r="0.95"/><circle cx="415.6" cy="451.5" r="0.95"/><circle cx="413.8" cy="437.3" r="0.95"/><circle cx="421.7" cy="438.0" r="0.95"/><circle cx="418.9" cy="452.5" r="0.95"/><circle cx="413.3" cy="451.9" r="0.95"/><circle cx="415.4" cy="439.8" r="0.95"/><circle cx="413.9" cy="452.4" r="0.95"/><circle cx="419.4" cy="452.0" r="0.95"/><circle cx="409.9" cy="451.0" r="0.95"/><circle cx="417.3" cy="453.2" r="0.95"/><circle cx="420.2" cy="452.1" r="0.95"/><circle cx="405.8" cy="451.1" r="0.95"/><circle cx="417.1" cy="451.4" r="0.95"/><circle cx="426.0" cy="437.8" r="0.95"/><circle cx="420.0" cy="452.0" r="0.95"/><circle cx="423.1" cy="452.2" r="0.95"/><circle cx="425.1" cy="442.1" r="0.95"/><circle cx="415.6" cy="450.9" r="0.95"/><circle cx="417.5" cy="445.3" r="0.95"/><circle cx="408.3" cy="448.4" r="0.95"/><circle cx="418.7" cy="446.2" r="0.95"/><circle cx="410.6" cy="452.2" r="0.95"/><circle cx="417.2" cy="452.6" r="0.95"/><circle cx="413.6" cy="446.6" r="0.95"/><circle cx="411.1" cy="450.3" r="0.95"/><circle cx="427.1" cy="449.9" r="0.95"/><circle cx="413.5" cy="448.0" r="0.95"/><circle cx="427.1" cy="447.2" r="0.95"/><circle cx="407.7" cy="452.4" r="0.95"/><circle cx="417.7" cy="451.8" r="0.95"/><circle cx="415.3" cy="441.6" r="0.95"/><circle cx="405.8" cy="450.0" r="0.95"/><circle cx="410.9" cy="452.3" r="0.95"/><circle cx="410.5" cy="449.1" r="0.95"/><circle cx="412.9" cy="452.4" r="0.95"/><circle cx="421.3" cy="446.9" r="0.95"/><circle cx="418.3" cy="453.3" r="0.95"/><circle cx="411.4" cy="445.0" r="0.95"/><circle cx="407.9" cy="449.4" r="0.95"/><circle cx="412.6" cy="451.8" r="0.95"/><circle cx="405.8" cy="440.1" r="0.95"/><circle cx="416.8" cy="451.8" r="0.95"/><circle cx="420.9" cy="452.0" r="0.95"/><circle cx="421.9" cy="453.0" r="0.95"/><circle cx="424.9" cy="449.6" r="0.95"/><circle cx="407.7" cy="446.6" r="0.95"/><circle cx="410.1" cy="447.9" r="0.95"/><circle cx="412.5" cy="451.4" r="0.95"/><circle cx="413.8" cy="445.6" r="0.95"/><circle cx="422.2" cy="452.7" r="0.95"/><circle cx="407.5" cy="452.1" r="0.95"/><circle cx="412.8" cy="448.4" r="0.95"/><circle cx="409.6" cy="437.4" r="0.95"/><circle cx="427.1" cy="448.7" r="0.95"/><circle cx="421.3" cy="447.9" r="0.95"/><circle cx="410.1" cy="446.3" r="0.95"/><circle cx="413.1" cy="451.0" r="0.95"/><circle cx="423.1" cy="439.8" r="0.95"/><circle cx="414.1" cy="447.3" r="0.95"/><circle cx="406.3" cy="452.0" r="0.95"/><circle cx="419.1" cy="451.3" r="0.95"/><circle cx="409.8" cy="445.5" r="0.95"/><circle cx="424.2" cy="451.9" r="0.95"/><circle cx="405.9" cy="452.9" r="0.95"/><circle cx="410.0" cy="443.4" r="0.95"/><circle cx="418.7" cy="449.6" r="0.95"/><circle cx="424.1" cy="450.3" r="0.95"/><circle cx="411.9" cy="448.0" r="0.95"/><circle cx="416.9" cy="442.7" r="0.95"/><circle cx="406.4" cy="453.1" r="0.95"/><circle cx="408.3" cy="451.5" r="0.95"/><circle cx="409.2" cy="452.9" r="0.95"/><circle cx="417.4" cy="450.9" r="0.95"/><circle cx="425.6" cy="450.6" r="0.95"/><circle cx="421.6" cy="444.5" r="0.95"/><circle cx="419.8" cy="448.2" r="0.95"/><circle cx="415.9" cy="449.5" r="0.95"/><circle cx="414.9" cy="451.1" r="0.95"/><circle cx="424.3" cy="449.9" r="0.95"/><circle cx="421.8" cy="452.4" r="0.95"/><circle cx="412.3" cy="444.3" r="0.95"/><circle cx="410.5" cy="446.2" r="0.95"/><circle cx="422.4" cy="445.1" r="0.95"/><circle cx="425.7" cy="453.0" r="0.95"/><circle cx="412.2" cy="447.9" r="0.95"/><circle cx="416.2" cy="446.7" r="0.95"/><circle cx="424.7" cy="450.6" r="0.95"/><circle cx="417.4" cy="442.9" r="0.95"/><circle cx="421.6" cy="442.6" r="0.95"/><circle cx="415.3" cy="447.4" r="0.95"/><circle cx="423.1" cy="445.4" r="0.95"/><circle cx="427.3" cy="448.3" r="0.95"/><circle cx="422.5" cy="443.5" r="0.95"/><circle cx="412.7" cy="452.6" r="0.95"/><circle cx="418.4" cy="448.1" r="0.95"/><circle cx="409.5" cy="448.1" r="0.95"/><circle cx="427.3" cy="448.8" r="0.95"/><circle cx="417.8" cy="452.0" r="0.95"/><circle cx="413.0" cy="453.0" r="0.95"/><circle cx="411.5" cy="449.5" r="0.95"/><circle cx="424.1" cy="445.6" r="0.95"/><circle cx="416.6" cy="452.1" r="0.95"/><circle cx="407.0" cy="452.4" r="0.95"/><circle cx="418.4" cy="452.8" r="0.95"/><circle cx="407.0" cy="453.3" r="0.95"/><circle cx="406.6" cy="448.6" r="0.95"/><circle cx="410.0" cy="436.1" r="0.95"/><circle cx="419.6" cy="445.6" r="0.95"/><circle cx="415.8" cy="451.4" r="0.95"/><circle cx="409.5" cy="447.8" r="0.95"/><circle cx="407.0" cy="453.4" r="0.95"/><circle cx="427.0" cy="444.9" r="0.95"/><circle cx="414.4" cy="451.7" r="0.95"/><circle cx="408.8" cy="453.8" r="0.95"/><circle cx="420.8" cy="448.5" r="0.95"/><circle cx="413.9" cy="452.6" r="0.95"/><circle cx="421.0" cy="451.7" r="0.95"/><circle cx="424.7" cy="453.0" r="0.95"/><circle cx="424.0" cy="450.5" r="0.95"/><circle cx="417.2" cy="449.9" r="0.95"/><circle cx="426.3" cy="446.0" r="0.95"/><circle cx="409.0" cy="453.6" r="0.95"/><circle cx="415.1" cy="444.9" r="0.95"/><circle cx="415.8" cy="453.4" r="0.95"/><circle cx="406.0" cy="452.5" r="0.95"/><circle cx="417.5" cy="449.1" r="0.95"/><circle cx="416.1" cy="451.4" r="0.95"/><circle cx="424.3" cy="451.4" r="0.95"/><circle cx="420.8" cy="449.4" r="0.95"/><circle cx="406.8" cy="452.2" r="0.95"/><circle cx="424.3" cy="445.8" r="0.95"/><circle cx="425.8" cy="452.2" r="0.95"/><circle cx="426.0" cy="444.5" r="0.95"/><circle cx="420.1" cy="445.7" r="0.95"/><circle cx="418.7" cy="450.2" r="0.95"/><circle cx="410.6" cy="453.8" r="0.95"/><circle cx="418.1" cy="446.6" r="0.95"/><circle cx="411.1" cy="453.9" r="0.95"/><circle cx="421.5" cy="450.2" r="0.95"/><circle cx="410.4" cy="451.3" r="0.95"/><circle cx="417.9" cy="453.7" r="0.95"/><circle cx="425.0" cy="449.0" r="0.95"/><circle cx="421.5" cy="447.2" r="0.95"/><circle cx="423.9" cy="449.6" r="0.95"/><circle cx="407.7" cy="450.8" r="0.95"/><circle cx="407.8" cy="449.9" r="0.95"/><circle cx="422.4" cy="449.6" r="0.95"/><circle cx="420.9" cy="452.3" r="0.95"/><circle cx="426.2" cy="443.6" r="0.95"/><circle cx="410.6" cy="427.4" r="0.95"/><circle cx="411.3" cy="446.0" r="0.95"/><circle cx="424.0" cy="438.2" r="0.95"/><circle cx="412.7" cy="451.7" r="0.95"/><circle cx="412.5" cy="433.1" r="0.95"/><circle cx="417.3" cy="453.0" r="0.95"/><circle cx="424.2" cy="421.9" r="0.95"/><circle cx="422.7" cy="428.6" r="0.95"/><circle cx="410.7" cy="432.0" r="0.95"/><circle cx="423.4" cy="433.4" r="0.95"/><circle cx="426.1" cy="434.7" r="0.95"/><circle cx="410.6" cy="430.3" r="0.95"/></g>
<g fill="#e8501e" fill-opacity="0.5"><circle cx="456.2" cy="442.6" r="0.95"/><circle cx="466.8" cy="410.8" r="0.95"/><circle cx="465.3" cy="399.2" r="0.95"/><circle cx="450.1" cy="429.1" r="0.95"/><circle cx="468.7" cy="392.2" r="0.95"/><circle cx="468.3" cy="406.3" r="0.95"/><circle cx="471.5" cy="421.1" r="0.95"/><circle cx="459.0" cy="407.3" r="0.95"/><circle cx="466.2" cy="389.7" r="0.95"/><circle cx="464.2" cy="413.8" r="0.95"/><circle cx="450.0" cy="391.5" r="0.95"/><circle cx="456.8" cy="389.4" r="0.95"/><circle cx="463.8" cy="370.6" r="0.95"/><circle cx="454.3" cy="421.7" r="0.95"/><circle cx="451.3" cy="402.4" r="0.95"/><circle cx="469.1" cy="391.1" r="0.95"/><circle cx="470.4" cy="372.0" r="0.95"/><circle cx="465.9" cy="395.6" r="0.95"/><circle cx="461.3" cy="386.1" r="0.95"/><circle cx="470.4" cy="429.3" r="0.95"/><circle cx="459.2" cy="411.6" r="0.95"/><circle cx="461.4" cy="368.4" r="0.95"/><circle cx="467.4" cy="406.4" r="0.95"/><circle cx="463.2" cy="358.5" r="0.95"/><circle cx="461.4" cy="414.3" r="0.95"/><circle cx="461.4" cy="406.2" r="0.95"/><circle cx="464.4" cy="431.4" r="0.95"/><circle cx="453.1" cy="388.6" r="0.95"/><circle cx="468.8" cy="395.5" r="0.95"/><circle cx="450.7" cy="361.7" r="0.95"/><circle cx="458.4" cy="397.3" r="0.95"/><circle cx="457.9" cy="405.2" r="0.95"/><circle cx="452.7" cy="427.9" r="0.95"/><circle cx="461.0" cy="402.1" r="0.95"/><circle cx="466.1" cy="382.3" r="0.95"/><circle cx="453.2" cy="386.1" r="0.95"/><circle cx="461.9" cy="377.0" r="0.95"/><circle cx="463.5" cy="384.1" r="0.95"/><circle cx="457.5" cy="401.7" r="0.95"/><circle cx="462.4" cy="388.7" r="0.95"/><circle cx="452.4" cy="397.3" r="0.95"/><circle cx="468.2" cy="426.7" r="0.95"/><circle cx="467.6" cy="367.7" r="0.95"/><circle cx="462.6" cy="393.1" r="0.95"/><circle cx="456.1" cy="421.2" r="0.95"/><circle cx="455.6" cy="393.1" r="0.95"/><circle cx="461.7" cy="394.6" r="0.95"/><circle cx="452.0" cy="381.0" r="0.95"/><circle cx="467.1" cy="372.8" r="0.95"/><circle cx="451.5" cy="453.3" r="0.95"/><circle cx="471.3" cy="389.6" r="0.95"/><circle cx="467.2" cy="371.0" r="0.95"/><circle cx="468.8" cy="419.2" r="0.95"/><circle cx="451.7" cy="436.8" r="0.95"/><circle cx="465.3" cy="394.8" r="0.95"/><circle cx="470.3" cy="393.9" r="0.95"/><circle cx="459.8" cy="393.8" r="0.95"/><circle cx="461.8" cy="422.2" r="0.95"/><circle cx="451.0" cy="409.9" r="0.95"/><circle cx="461.1" cy="396.5" r="0.95"/><circle cx="460.7" cy="385.9" r="0.95"/><circle cx="459.1" cy="358.2" r="0.95"/><circle cx="466.2" cy="394.6" r="0.95"/><circle cx="455.9" cy="412.7" r="0.95"/><circle cx="463.4" cy="446.1" r="0.95"/><circle cx="463.0" cy="379.5" r="0.95"/><circle cx="451.2" cy="403.3" r="0.95"/><circle cx="452.1" cy="402.4" r="0.95"/><circle cx="464.5" cy="420.1" r="0.95"/><circle cx="451.1" cy="386.5" r="0.95"/><circle cx="452.7" cy="435.1" r="0.95"/><circle cx="450.0" cy="398.1" r="0.95"/><circle cx="465.7" cy="398.6" r="0.95"/><circle cx="449.9" cy="394.5" r="0.95"/><circle cx="450.6" cy="375.2" r="0.95"/><circle cx="456.7" cy="402.3" r="0.95"/><circle cx="467.5" cy="398.4" r="0.95"/><circle cx="463.5" cy="383.7" r="0.95"/><circle cx="464.0" cy="430.4" r="0.95"/><circle cx="453.9" cy="406.7" r="0.95"/><circle cx="455.5" cy="399.2" r="0.95"/><circle cx="464.1" cy="382.4" r="0.95"/><circle cx="461.7" cy="415.8" r="0.95"/><circle cx="464.3" cy="385.1" r="0.95"/><circle cx="462.5" cy="393.0" r="0.95"/><circle cx="467.6" cy="429.2" r="0.95"/><circle cx="461.6" cy="429.4" r="0.95"/><circle cx="469.8" cy="428.7" r="0.95"/><circle cx="454.9" cy="397.8" r="0.95"/><circle cx="462.7" cy="396.5" r="0.95"/><circle cx="451.0" cy="386.9" r="0.95"/><circle cx="459.6" cy="384.3" r="0.95"/><circle cx="453.0" cy="410.9" r="0.95"/><circle cx="469.6" cy="379.5" r="0.95"/><circle cx="462.0" cy="385.0" r="0.95"/><circle cx="466.5" cy="391.5" r="0.95"/><circle cx="455.9" cy="391.4" r="0.95"/><circle cx="467.4" cy="425.4" r="0.95"/><circle cx="454.6" cy="393.5" r="0.95"/><circle cx="462.8" cy="421.0" r="0.95"/><circle cx="462.6" cy="423.6" r="0.95"/><circle cx="465.6" cy="407.1" r="0.95"/><circle cx="452.0" cy="397.5" r="0.95"/><circle cx="462.3" cy="401.7" r="0.95"/><circle cx="459.8" cy="407.1" r="0.95"/><circle cx="453.7" cy="419.8" r="0.95"/><circle cx="462.5" cy="396.9" r="0.95"/><circle cx="460.6" cy="415.4" r="0.95"/><circle cx="459.9" cy="428.2" r="0.95"/><circle cx="450.9" cy="398.8" r="0.95"/><circle cx="450.8" cy="372.0" r="0.95"/><circle cx="453.7" cy="408.4" r="0.95"/><circle cx="453.1" cy="421.6" r="0.95"/><circle cx="456.2" cy="373.4" r="0.95"/><circle cx="451.2" cy="367.1" r="0.95"/><circle cx="466.9" cy="406.4" r="0.95"/><circle cx="469.3" cy="404.8" r="0.95"/><circle cx="463.8" cy="396.4" r="0.95"/><circle cx="468.0" cy="343.2" r="0.95"/><circle cx="452.7" cy="397.8" r="0.95"/><circle cx="467.1" cy="380.8" r="0.95"/><circle cx="453.6" cy="392.0" r="0.95"/><circle cx="464.6" cy="436.1" r="0.95"/><circle cx="464.0" cy="422.0" r="0.95"/><circle cx="462.6" cy="424.3" r="0.95"/><circle cx="458.7" cy="392.5" r="0.95"/><circle cx="462.3" cy="398.4" r="0.95"/><circle cx="463.3" cy="366.0" r="0.95"/><circle cx="459.8" cy="405.8" r="0.95"/><circle cx="467.7" cy="394.8" r="0.95"/><circle cx="454.6" cy="399.3" r="0.95"/><circle cx="456.2" cy="397.7" r="0.95"/><circle cx="467.3" cy="355.3" r="0.95"/><circle cx="469.7" cy="395.0" r="0.95"/><circle cx="468.7" cy="371.5" r="0.95"/><circle cx="458.5" cy="374.9" r="0.95"/><circle cx="468.5" cy="412.8" r="0.95"/><circle cx="460.3" cy="387.2" r="0.95"/><circle cx="470.9" cy="407.9" r="0.95"/><circle cx="456.3" cy="398.1" r="0.95"/><circle cx="469.8" cy="397.7" r="0.95"/><circle cx="461.2" cy="400.4" r="0.95"/><circle cx="468.0" cy="409.9" r="0.95"/><circle cx="452.0" cy="370.3" r="0.95"/><circle cx="468.8" cy="405.7" r="0.95"/><circle cx="459.0" cy="387.0" r="0.95"/><circle cx="453.8" cy="367.5" r="0.95"/><circle cx="464.6" cy="388.7" r="0.95"/><circle cx="452.1" cy="380.7" r="0.95"/><circle cx="460.7" cy="373.1" r="0.95"/><circle cx="453.2" cy="379.2" r="0.95"/><circle cx="464.8" cy="366.7" r="0.95"/><circle cx="457.8" cy="428.6" r="0.95"/><circle cx="466.2" cy="362.7" r="0.95"/><circle cx="468.0" cy="399.8" r="0.95"/><circle cx="461.9" cy="434.8" r="0.95"/><circle cx="461.8" cy="413.2" r="0.95"/><circle cx="458.0" cy="427.6" r="0.95"/><circle cx="464.3" cy="401.3" r="0.95"/><circle cx="464.6" cy="429.8" r="0.95"/><circle cx="470.7" cy="420.1" r="0.95"/><circle cx="462.2" cy="395.1" r="0.95"/><circle cx="464.0" cy="397.1" r="0.95"/><circle cx="460.8" cy="416.4" r="0.95"/><circle cx="454.1" cy="405.1" r="0.95"/><circle cx="471.2" cy="402.5" r="0.95"/><circle cx="461.6" cy="399.2" r="0.95"/><circle cx="468.3" cy="400.7" r="0.95"/><circle cx="469.4" cy="405.1" r="0.95"/><circle cx="458.4" cy="383.5" r="0.95"/><circle cx="456.2" cy="431.7" r="0.95"/><circle cx="460.3" cy="409.9" r="0.95"/><circle cx="456.2" cy="398.2" r="0.95"/><circle cx="471.0" cy="408.2" r="0.95"/><circle cx="453.2" cy="411.3" r="0.95"/><circle cx="459.5" cy="408.9" r="0.95"/><circle cx="467.3" cy="396.2" r="0.95"/><circle cx="461.5" cy="376.0" r="0.95"/><circle cx="463.8" cy="403.9" r="0.95"/><circle cx="460.5" cy="406.1" r="0.95"/><circle cx="450.0" cy="393.4" r="0.95"/><circle cx="451.2" cy="405.6" r="0.95"/><circle cx="464.4" cy="438.3" r="0.95"/><circle cx="469.4" cy="395.1" r="0.95"/><circle cx="460.3" cy="408.2" r="0.95"/><circle cx="462.8" cy="411.5" r="0.95"/><circle cx="450.6" cy="388.0" r="0.95"/><circle cx="470.4" cy="400.0" r="0.95"/><circle cx="456.2" cy="411.3" r="0.95"/><circle cx="463.6" cy="443.0" r="0.95"/><circle cx="469.2" cy="434.6" r="0.95"/><circle cx="466.8" cy="400.5" r="0.95"/><circle cx="466.7" cy="403.1" r="0.95"/><circle cx="458.0" cy="392.2" r="0.95"/><circle cx="449.9" cy="396.4" r="0.95"/><circle cx="459.4" cy="410.3" r="0.95"/><circle cx="466.9" cy="425.3" r="0.95"/><circle cx="465.2" cy="422.1" r="0.95"/><circle cx="463.2" cy="402.9" r="0.95"/><circle cx="454.5" cy="422.9" r="0.95"/><circle cx="465.1" cy="386.1" r="0.95"/><circle cx="463.4" cy="426.8" r="0.95"/><circle cx="463.6" cy="435.4" r="0.95"/><circle cx="455.2" cy="404.4" r="0.95"/><circle cx="466.2" cy="435.3" r="0.95"/><circle cx="464.9" cy="368.5" r="0.95"/><circle cx="456.5" cy="419.8" r="0.95"/><circle cx="458.7" cy="401.7" r="0.95"/><circle cx="452.0" cy="405.7" r="0.95"/><circle cx="449.8" cy="416.8" r="0.95"/><circle cx="457.2" cy="435.6" r="0.95"/><circle cx="455.9" cy="436.7" r="0.95"/><circle cx="464.8" cy="383.5" r="0.95"/><circle cx="467.6" cy="380.7" r="0.95"/><circle cx="459.3" cy="358.3" r="0.95"/><circle cx="464.6" cy="429.1" r="0.95"/><circle cx="453.9" cy="389.7" r="0.95"/><circle cx="462.1" cy="400.5" r="0.95"/><circle cx="453.2" cy="384.0" r="0.95"/><circle cx="451.6" cy="410.7" r="0.95"/><circle cx="458.3" cy="386.3" r="0.95"/><circle cx="466.1" cy="383.2" r="0.95"/><circle cx="451.1" cy="388.8" r="0.95"/><circle cx="471.4" cy="372.3" r="0.95"/><circle cx="471.3" cy="403.8" r="0.95"/><circle cx="454.5" cy="370.2" r="0.95"/><circle cx="454.8" cy="414.0" r="0.95"/><circle cx="455.2" cy="367.9" r="0.95"/><circle cx="467.5" cy="453.8" r="0.95"/><circle cx="450.5" cy="400.5" r="0.95"/><circle cx="463.6" cy="416.1" r="0.95"/><circle cx="449.8" cy="400.8" r="0.95"/><circle cx="452.6" cy="380.2" r="0.95"/><circle cx="456.3" cy="386.7" r="0.95"/><circle cx="470.4" cy="399.1" r="0.95"/><circle cx="468.3" cy="367.5" r="0.95"/><circle cx="460.0" cy="429.2" r="0.95"/><circle cx="454.8" cy="416.3" r="0.95"/><circle cx="452.1" cy="370.7" r="0.95"/><circle cx="456.6" cy="393.8" r="0.95"/><circle cx="456.1" cy="441.5" r="0.95"/><circle cx="454.9" cy="393.9" r="0.95"/><circle cx="468.3" cy="423.4" r="0.95"/><circle cx="465.6" cy="371.6" r="0.95"/><circle cx="450.3" cy="378.5" r="0.95"/><circle cx="467.1" cy="411.0" r="0.95"/><circle cx="470.7" cy="375.3" r="0.95"/><circle cx="463.6" cy="416.7" r="0.95"/><circle cx="450.3" cy="382.7" r="0.95"/><circle cx="465.3" cy="389.0" r="0.95"/><circle cx="450.3" cy="403.1" r="0.95"/><circle cx="456.4" cy="428.3" r="0.95"/><circle cx="468.7" cy="406.1" r="0.95"/><circle cx="452.2" cy="445.6" r="0.95"/><circle cx="465.5" cy="411.7" r="0.95"/><circle cx="470.6" cy="436.9" r="0.95"/><circle cx="463.9" cy="376.4" r="0.95"/><circle cx="456.2" cy="419.4" r="0.95"/><circle cx="459.1" cy="448.3" r="0.95"/><circle cx="452.1" cy="389.3" r="0.95"/><circle cx="450.8" cy="393.2" r="0.95"/><circle cx="462.5" cy="410.1" r="0.95"/><circle cx="456.8" cy="359.3" r="0.95"/><circle cx="465.7" cy="385.3" r="0.95"/><circle cx="453.3" cy="399.5" r="0.95"/><circle cx="468.7" cy="412.9" r="0.95"/><circle cx="458.8" cy="453.6" r="0.95"/><circle cx="464.9" cy="390.9" r="0.95"/><circle cx="467.7" cy="381.8" r="0.95"/><circle cx="467.2" cy="412.5" r="0.95"/><circle cx="464.6" cy="428.4" r="0.95"/><circle cx="456.1" cy="401.2" r="0.95"/><circle cx="457.8" cy="433.6" r="0.95"/><circle cx="462.7" cy="400.3" r="0.95"/><circle cx="469.5" cy="385.5" r="0.95"/><circle cx="471.1" cy="371.1" r="0.95"/><circle cx="465.8" cy="395.3" r="0.95"/><circle cx="471.4" cy="396.7" r="0.95"/><circle cx="464.4" cy="385.8" r="0.95"/><circle cx="461.1" cy="372.9" r="0.95"/><circle cx="457.7" cy="406.8" r="0.95"/><circle cx="465.9" cy="424.4" r="0.95"/><circle cx="454.0" cy="416.2" r="0.95"/><circle cx="460.0" cy="425.6" r="0.95"/><circle cx="450.0" cy="418.0" r="0.95"/><circle cx="467.9" cy="403.2" r="0.95"/><circle cx="457.4" cy="393.9" r="0.95"/><circle cx="458.3" cy="397.1" r="0.95"/><circle cx="451.4" cy="399.0" r="0.95"/><circle cx="468.8" cy="407.3" r="0.95"/><circle cx="455.9" cy="392.3" r="0.95"/><circle cx="464.9" cy="383.3" r="0.95"/><circle cx="456.4" cy="385.6" r="0.95"/><circle cx="449.9" cy="371.5" r="0.95"/><circle cx="457.9" cy="406.1" r="0.95"/><circle cx="454.2" cy="405.5" r="0.95"/><circle cx="452.9" cy="367.2" r="0.95"/><circle cx="451.9" cy="396.4" r="0.95"/><circle cx="461.2" cy="392.3" r="0.95"/><circle cx="452.0" cy="407.5" r="0.95"/><circle cx="450.9" cy="381.5" r="0.95"/><circle cx="456.0" cy="408.1" r="0.95"/><circle cx="456.1" cy="420.3" r="0.95"/><circle cx="464.8" cy="401.6" r="0.95"/><circle cx="457.9" cy="409.6" r="0.95"/><circle cx="463.6" cy="384.2" r="0.95"/><circle cx="454.3" cy="408.2" r="0.95"/><circle cx="470.1" cy="398.0" r="0.95"/><circle cx="468.3" cy="404.7" r="0.95"/><circle cx="460.1" cy="393.5" r="0.95"/><circle cx="454.9" cy="412.7" r="0.95"/><circle cx="454.1" cy="379.2" r="0.95"/><circle cx="470.5" cy="428.4" r="0.95"/><circle cx="467.2" cy="408.0" r="0.95"/><circle cx="462.4" cy="414.2" r="0.95"/><circle cx="469.6" cy="387.9" r="0.95"/><circle cx="462.6" cy="400.0" r="0.95"/><circle cx="461.1" cy="391.1" r="0.95"/><circle cx="465.3" cy="407.0" r="0.95"/><circle cx="462.3" cy="414.5" r="0.95"/><circle cx="453.0" cy="422.3" r="0.95"/><circle cx="471.0" cy="407.2" r="0.95"/><circle cx="450.0" cy="410.8" r="0.95"/><circle cx="462.4" cy="395.1" r="0.95"/><circle cx="471.4" cy="393.9" r="0.95"/><circle cx="451.2" cy="381.7" r="0.95"/><circle cx="471.2" cy="402.9" r="0.95"/><circle cx="470.6" cy="415.2" r="0.95"/><circle cx="463.4" cy="421.5" r="0.95"/><circle cx="467.1" cy="399.6" r="0.95"/><circle cx="467.6" cy="393.4" r="0.95"/><circle cx="467.1" cy="362.5" r="0.95"/><circle cx="470.7" cy="396.9" r="0.95"/><circle cx="463.2" cy="366.4" r="0.95"/><circle cx="466.3" cy="364.0" r="0.95"/><circle cx="452.8" cy="420.9" r="0.95"/><circle cx="456.6" cy="377.0" r="0.95"/><circle cx="450.3" cy="378.4" r="0.95"/><circle cx="452.2" cy="374.0" r="0.95"/><circle cx="455.7" cy="400.8" r="0.95"/><circle cx="465.4" cy="382.2" r="0.95"/><circle cx="454.6" cy="409.7" r="0.95"/><circle cx="468.5" cy="402.0" r="0.95"/><circle cx="469.8" cy="400.4" r="0.95"/><circle cx="452.5" cy="365.5" r="0.95"/><circle cx="454.4" cy="404.8" r="0.95"/><circle cx="455.9" cy="382.1" r="0.95"/><circle cx="469.3" cy="399.0" r="0.95"/><circle cx="471.6" cy="414.9" r="0.95"/><circle cx="458.1" cy="396.1" r="0.95"/><circle cx="470.4" cy="387.8" r="0.95"/><circle cx="457.6" cy="414.6" r="0.95"/><circle cx="466.5" cy="388.0" r="0.95"/><circle cx="460.1" cy="414.2" r="0.95"/><circle cx="453.0" cy="418.0" r="0.95"/><circle cx="456.4" cy="396.4" r="0.95"/><circle cx="459.0" cy="405.4" r="0.95"/><circle cx="455.9" cy="419.5" r="0.95"/><circle cx="464.3" cy="432.3" r="0.95"/><circle cx="454.1" cy="400.1" r="0.95"/><circle cx="460.5" cy="396.1" r="0.95"/><circle cx="464.9" cy="409.5" r="0.95"/><circle cx="459.3" cy="397.0" r="0.95"/><circle cx="452.5" cy="430.4" r="0.95"/><circle cx="462.9" cy="393.2" r="0.95"/><circle cx="462.8" cy="392.2" r="0.95"/><circle cx="470.9" cy="395.4" r="0.95"/><circle cx="454.5" cy="412.5" r="0.95"/><circle cx="450.3" cy="399.2" r="0.95"/><circle cx="454.4" cy="398.3" r="0.95"/><circle cx="465.4" cy="379.8" r="0.95"/><circle cx="462.0" cy="395.0" r="0.95"/><circle cx="450.4" cy="395.7" r="0.95"/><circle cx="449.9" cy="414.8" r="0.95"/><circle cx="466.6" cy="383.4" r="0.95"/><circle cx="459.2" cy="377.6" r="0.95"/><circle cx="452.9" cy="410.0" r="0.95"/><circle cx="463.0" cy="387.8" r="0.95"/><circle cx="452.9" cy="394.3" r="0.95"/><circle cx="470.2" cy="401.8" r="0.95"/><circle cx="452.0" cy="344.7" r="0.95"/><circle cx="458.6" cy="347.2" r="0.95"/><circle cx="455.1" cy="352.0" r="0.95"/><circle cx="450.0" cy="355.2" r="0.95"/><circle cx="455.9" cy="357.6" r="0.95"/></g>
<line x1="372.5" y1="433.0" x2="372.5" y2="410.9" stroke="#555" stroke-width="0.9" stroke-opacity="0.8"/>
<circle cx="372.5" cy="421.9" r="1.0" fill="#111"/>
<line x1="416.5" y1="452.7" x2="416.5" y2="443.3" stroke="#555" stroke-width="0.9" stroke-opacity="0.8"/>
<circle cx="416.5" cy="448.1" r="1.0" fill="#111"/>
<line x1="460.5" y1="418.3" x2="460.5" y2="381.6" stroke="#555" stroke-width="0.9" stroke-opacity="0.8"/>
<circle cx="460.5" cy="400.0" r="1.0" fill="#111"/>
<path d="M372.3 338.7V337.5H460.6V338.7" fill="none" stroke="#9a9a9a" stroke-width="0.9"/>
<rect x="415" y="335" width="3" height="1" fill="#555"/>
<path d="M372.3 352.7V351.5H416.6V352.7" fill="none" stroke="#9a9a9a" stroke-width="0.9"/>
<rect x="393" y="349" width="3" height="1" fill="#aaa"/>
<path d="M416.6 367.7V366.5H460.6V367.7" fill="none" stroke="#9a9a9a" stroke-width="0.9"/>
<rect x="437" y="364" width="3" height="1" fill="#555"/>
<rect x="346.5" y="330.5" width="141.0" height="129.0" fill="none" stroke="#b4b4b4" stroke-width="1"/>
<line x1="344.9" y1="453.6" x2="346.5" y2="453.6" stroke="#555" stroke-width="0.7"/>
<text x="342.3" y="456.1" font-size="7.1" text-anchor="end" fill="#222">0</text>
<line x1="344.9" y1="424.6" x2="346.5" y2="424.6" stroke="#555" stroke-width="0.7"/>
<text x="342.3" y="427.1" font-size="7.1" text-anchor="end" fill="#222">2000</text>
<line x1="344.9" y1="395.5" x2="346.5" y2="395.5" stroke="#555" stroke-width="0.7"/>
<text x="342.3" y="398.0" font-size="7.1" text-anchor="end" fill="#222">4000</text>
<line x1="344.9" y1="366.5" x2="346.5" y2="366.5" stroke="#555" stroke-width="0.7"/>
<text x="342.3" y="369.0" font-size="7.1" text-anchor="end" fill="#222">6000</text>
<line x1="344.9" y1="337.4" x2="346.5" y2="337.4" stroke="#555" stroke-width="0.7"/>
<text x="342.3" y="339.9" font-size="7.1" text-anchor="end" fill="#222">8000</text>
<line x1="372.3" y1="459.5" x2="372.3" y2="461.0" stroke="#555" stroke-width="0.7"/>
<text x="372.3" y="469.3" font-size="6.9" text-anchor="middle" fill="#222">Tumor_Free_Lung</text>
<line x1="416.6" y1="459.5" x2="416.6" y2="461.0" stroke="#555" stroke-width="0.7"/>
<text x="416.6" y="469.3" font-size="6.9" text-anchor="middle" fill="#222">Stroma</text>
<line x1="460.6" y1="459.5" x2="460.6" y2="461.0" stroke="#555" stroke-width="0.7"/>
<text x="460.6" y="469.3" font-size="6.9" text-anchor="middle" fill="#222">Tumor</text>
<text x="317" y="394.9" font-size="7" text-anchor="middle" fill="#222" transform="rotate(-90 317 394.9)">panCK+ pHH3- pSMAD2L- density</text>
<g fill="#a0a0a0" fill-opacity="0.5"><circle cx="560.6" cy="448.0" r="0.95"/><circle cx="542.6" cy="448.2" r="0.95"/><circle cx="546.6" cy="448.1" r="0.95"/><circle cx="552.5" cy="448.6" r="0.95"/><circle cx="548.8" cy="447.9" r="0.95"/><circle cx="547.9" cy="448.5" r="0.95"/><circle cx="549.2" cy="447.9" r="0.95"/><circle cx="545.2" cy="448.1" r="0.95"/><circle cx="547.4" cy="448.1" r="0.95"/><circle cx="554.5" cy="448.5" r="0.95"/><circle cx="540.7" cy="448.0" r="0.95"/><circle cx="557.8" cy="448.6" r="0.95"/></g>
<g fill="#4a72c0" fill-opacity="0.5"><circle cx="602.8" cy="447.9" r="0.95"/><circle cx="600.7" cy="447.7" r="0.95"/><circle cx="600.4" cy="447.9" r="0.95"/><circle cx="604.0" cy="448.6" r="0.95"/><circle cx="595.8" cy="448.4" r="0.95"/><circle cx="606.3" cy="448.4" r="0.95"/><circle cx="599.7" cy="448.3" r="0.95"/><circle cx="593.4" cy="448.3" r="0.95"/><circle cx="588.6" cy="447.9" r="0.95"/><circle cx="587.4" cy="447.9" r="0.95"/><circle cx="600.2" cy="448.1" r="0.95"/><circle cx="590.1" cy="448.4" r="0.95"/><circle cx="591.9" cy="448.3" r="0.95"/><circle cx="596.3" cy="448.0" r="0.95"/><circle cx="607.4" cy="448.5" r="0.95"/><circle cx="605.1" cy="448.0" r="0.95"/><circle cx="605.5" cy="448.4" r="0.95"/><circle cx="606.2" cy="447.7" r="0.95"/><circle cx="588.9" cy="447.9" r="0.95"/><circle cx="587.5" cy="448.4" r="0.95"/><circle cx="586.6" cy="447.9" r="0.95"/><circle cx="593.3" cy="448.5" r="0.95"/><circle cx="586.5" cy="448.2" r="0.95"/><circle cx="606.6" cy="447.8" r="0.95"/><circle cx="594.4" cy="448.3" r="0.95"/><circle cx="592.2" cy="448.3" r="0.95"/><circle cx="607.4" cy="447.7" r="0.95"/><circle cx="595.8" cy="447.6" r="0.95"/><circle cx="597.8" cy="448.1" r="0.95"/><circle cx="606.9" cy="448.3" r="0.95"/><circle cx="607.3" cy="448.3" r="0.95"/><circle cx="603.6" cy="448.1" r="0.95"/><circle cx="600.1" cy="447.9" r="0.95"/><circle cx="593.2" cy="448.6" r="0.95"/><circle cx="607.1" cy="447.7" r="0.95"/><circle cx="596.4" cy="448.1" r="0.95"/><circle cx="599.1" cy="448.3" r="0.95"/><circle cx="591.2" cy="448.6" r="0.95"/><circle cx="595.4" cy="448.4" r="0.95"/><circle cx="601.4" cy="448.5" r="0.95"/><circle cx="596.8" cy="448.3" r="0.95"/><circle cx="602.5" cy="447.9" r="0.95"/><circle cx="586.5" cy="448.1" r="0.95"/><circle cx="600.8" cy="448.0" r="0.95"/><circle cx="603.1" cy="447.7" r="0.95"/><circle cx="604.8" cy="448.1" r="0.95"/><circle cx="606.3" cy="448.1" r="0.95"/><circle cx="604.5" cy="447.3" r="0.95"/><circle cx="589.1" cy="448.3" r="0.95"/><circle cx="600.2" cy="448.2" r="0.95"/><circle cx="587.1" cy="448.3" r="0.95"/><circle cx="587.1" cy="448.0" r="0.95"/><circle cx="590.6" cy="448.4" r="0.95"/><circle cx="598.5" cy="447.3" r="0.95"/><circle cx="592.7" cy="448.1" r="0.95"/><circle cx="597.2" cy="448.0" r="0.95"/><circle cx="597.5" cy="448.0" r="0.95"/><circle cx="588.1" cy="448.4" r="0.95"/><circle cx="591.3" cy="448.5" r="0.95"/><circle cx="594.4" cy="447.8" r="0.95"/><circle cx="601.3" cy="448.6" r="0.95"/><circle cx="593.6" cy="448.4" r="0.95"/><circle cx="592.8" cy="448.0" r="0.95"/><circle cx="592.1" cy="447.8" r="0.95"/><circle cx="585.6" cy="448.1" r="0.95"/><circle cx="599.2" cy="447.9" r="0.95"/><circle cx="594.6" cy="447.9" r="0.95"/><circle cx="593.5" cy="447.8" r="0.95"/><circle cx="597.5" cy="448.4" r="0.95"/><circle cx="586.1" cy="448.3" r="0.95"/><circle cx="591.2" cy="447.9" r="0.95"/><circle cx="590.3" cy="448.1" r="0.95"/><circle cx="594.4" cy="448.4" r="0.95"/><circle cx="594.5" cy="448.3" r="0.95"/><circle cx="587.4" cy="448.4" r="0.95"/><circle cx="594.9" cy="447.8" r="0.95"/><circle cx="604.1" cy="448.0" r="0.95"/><circle cx="602.9" cy="448.1" r="0.95"/><circle cx="588.1" cy="448.2" r="0.95"/><circle cx="591.7" cy="447.6" r="0.95"/><circle cx="607.3" cy="448.2" r="0.95"/><circle cx="595.9" cy="448.5" r="0.95"/><circle cx="600.2" cy="448.0" r="0.95"/><circle cx="588.3" cy="448.0" r="0.95"/><circle cx="589.7" cy="448.5" r="0.95"/><circle cx="598.6" cy="448.0" r="0.95"/><circle cx="602.6" cy="448.6" r="0.95"/><circle cx="596.1" cy="448.7" r="0.95"/><circle cx="595.4" cy="447.8" r="0.95"/><circle cx="595.7" cy="447.9" r="0.95"/><circle cx="605.7" cy="448.2" r="0.95"/><circle cx="606.6" cy="447.6" r="0.95"/><circle cx="593.9" cy="447.6" r="0.95"/><circle cx="586.6" cy="448.2" r="0.95"/><circle cx="586.2" cy="447.6" r="0.95"/><circle cx="595.1" cy="448.4" r="0.95"/><circle cx="590.7" cy="447.8" r="0.95"/><circle cx="600.9" cy="448.2" r="0.95"/><circle cx="588.6" cy="448.5" r="0.95"/><circle cx="604.5" cy="448.1" r="0.95"/><circle cx="603.6" cy="448.1" r="0.95"/><circle cx="600.9" cy="448.0" r="0.95"/><circle cx="599.7" cy="448.2" r="0.95"/><circle cx="592.9" cy="448.1" r="0.95"/><circle cx="587.3" cy="448.3" r="0.95"/><circle cx="602.3" cy="447.4" r="0.95"/><circle cx="596.8" cy="447.8" r="0.95"/><circle cx="597.5" cy="447.7" r="0.95"/><circle cx="606.6" cy="448.0" r="0.95"/><circle cx="597.0" cy="447.8" r="0.95"/><circle cx="605.4" cy="447.5" r="0.95"/><circle cx="592.2" cy="447.9" r="0.95"/><circle cx="601.9" cy="447.9" r="0.95"/><circle cx="604.5" cy="448.0" r="0.95"/><circle cx="588.3" cy="448.1" r="0.95"/><circle cx="587.4" cy="447.8" r="0.95"/><circle cx="597.0" cy="448.1" r="0.95"/><circle cx="590.2" cy="447.9" r="0.95"/><circle cx="597.0" cy="447.7" r="0.95"/><circle cx="596.1" cy="448.3" r="0.95"/><circle cx="588.6" cy="447.9" r="0.95"/><circle cx="586.9" cy="448.0" r="0.95"/><circle cx="601.0" cy="447.8" r="0.95"/><circle cx="592.8" cy="448.0" r="0.95"/><circle cx="605.8" cy="448.2" r="0.95"/><circle cx="601.2" cy="447.9" r="0.95"/><circle cx="586.4" cy="447.9" r="0.95"/><circle cx="599.6" cy="448.2" r="0.95"/><circle cx="604.7" cy="448.3" r="0.95"/><circle cx="600.1" cy="448.3" r="0.95"/><circle cx="606.6" cy="448.5" r="0.95"/><circle cx="587.5" cy="447.8" r="0.95"/><circle cx="588.7" cy="448.2" r="0.95"/><circle cx="596.6" cy="447.8" r="0.95"/><circle cx="587.2" cy="448.1" r="0.95"/><circle cx="599.2" cy="448.0" r="0.95"/><circle cx="595.9" cy="448.0" r="0.95"/><circle cx="600.9" cy="448.2" r="0.95"/><circle cx="594.6" cy="448.0" r="0.95"/><circle cx="604.6" cy="447.7" r="0.95"/><circle cx="590.0" cy="447.7" r="0.95"/><circle cx="598.6" cy="448.3" r="0.95"/><circle cx="587.7" cy="448.2" r="0.95"/><circle cx="598.1" cy="448.0" r="0.95"/><circle cx="587.1" cy="448.4" r="0.95"/><circle cx="591.4" cy="448.2" r="0.95"/><circle cx="588.2" cy="448.3" r="0.95"/><circle cx="599.1" cy="448.4" r="0.95"/><circle cx="596.8" cy="447.9" r="0.95"/><circle cx="594.3" cy="447.4" r="0.95"/><circle cx="587.7" cy="448.2" r="0.95"/><circle cx="585.5" cy="448.1" r="0.95"/><circle cx="586.4" cy="448.4" r="0.95"/><circle cx="607.3" cy="447.9" r="0.95"/><circle cx="593.5" cy="448.4" r="0.95"/><circle cx="591.0" cy="447.9" r="0.95"/><circle cx="607.2" cy="448.2" r="0.95"/><circle cx="594.0" cy="448.3" r="0.95"/><circle cx="603.0" cy="448.0" r="0.95"/><circle cx="585.5" cy="448.2" r="0.95"/><circle cx="600.7" cy="448.5" r="0.95"/><circle cx="595.2" cy="448.1" r="0.95"/><circle cx="593.9" cy="448.4" r="0.95"/><circle cx="586.0" cy="448.4" r="0.95"/><circle cx="606.5" cy="447.8" r="0.95"/><circle cx="585.6" cy="447.8" r="0.95"/><circle cx="588.7" cy="448.3" r="0.95"/><circle cx="604.6" cy="448.0" r="0.95"/><circle cx="606.3" cy="448.0" r="0.95"/><circle cx="589.8" cy="447.9" r="0.95"/><circle cx="595.4" cy="447.7" r="0.95"/><circle cx="605.8" cy="448.3" r="0.95"/><circle cx="591.8" cy="448.0" r="0.95"/><circle cx="591.7" cy="448.2" r="0.95"/><circle cx="599.9" cy="448.5" r="0.95"/><circle cx="606.4" cy="447.9" r="0.95"/><circle cx="589.8" cy="448.1" r="0.95"/><circle cx="606.4" cy="447.8" r="0.95"/><circle cx="601.3" cy="448.1" r="0.95"/><circle cx="595.6" cy="448.1" r="0.95"/><circle cx="602.6" cy="447.9" r="0.95"/><circle cx="607.3" cy="447.9" r="0.95"/><circle cx="606.5" cy="448.0" r="0.95"/><circle cx="604.6" cy="448.2" r="0.95"/><circle cx="597.9" cy="447.9" r="0.95"/><circle cx="587.3" cy="448.0" r="0.95"/><circle cx="596.2" cy="448.1" r="0.95"/><circle cx="589.6" cy="448.5" r="0.95"/><circle cx="587.4" cy="448.0" r="0.95"/><circle cx="595.7" cy="448.3" r="0.95"/><circle cx="597.0" cy="448.3" r="0.95"/><circle cx="600.7" cy="447.9" r="0.95"/><circle cx="597.0" cy="447.8" r="0.95"/><circle cx="604.7" cy="448.0" r="0.95"/><circle cx="589.5" cy="448.0" r="0.95"/><circle cx="591.0" cy="448.2" r="0.95"/><circle cx="600.6" cy="448.1" r="0.95"/><circle cx="594.7" cy="448.6" r="0.95"/><circle cx="606.6" cy="447.9" r="0.95"/><circle cx="606.3" cy="447.9" r="0.95"/><circle cx="607.5" cy="448.1" r="0.95"/><circle cx="606.5" cy="447.7" r="0.95"/><circle cx="600.6" cy="448.3" r="0.95"/><circle cx="603.5" cy="448.2" r="0.95"/><circle cx="588.9" cy="448.1" r="0.95"/><circle cx="606.2" cy="448.6" r="0.95"/><circle cx="590.4" cy="447.8" r="0.95"/><circle cx="599.0" cy="448.1" r="0.95"/><circle cx="590.2" cy="448.6" r="0.95"/><circle cx="587.9" cy="447.9" r="0.95"/><circle cx="594.4" cy="447.9" r="0.95"/><circle cx="604.7" cy="448.3" r="0.95"/><circle cx="602.5" cy="447.9" r="0.95"/><circle cx="603.3" cy="448.4" r="0.95"/><circle cx="585.5" cy="447.8" r="0.95"/><circle cx="601.6" cy="448.5" r="0.95"/><circle cx="597.4" cy="448.4" r="0.95"/><circle cx="587.4" cy="447.9" r="0.95"/><circle cx="603.5" cy="448.5" r="0.95"/><circle cx="590.4" cy="448.2" r="0.95"/><circle cx="595.1" cy="448.5" r="0.95"/><circle cx="594.3" cy="448.1" r="0.95"/><circle cx="602.3" cy="448.4" r="0.95"/><circle cx="593.5" cy="448.2" r="0.95"/><circle cx="591.3" cy="448.0" r="0.95"/><circle cx="589.6" cy="448.1" r="0.95"/><circle cx="594.7" cy="447.5" r="0.95"/><circle cx="592.4" cy="448.1" r="0.95"/><circle cx="592.7" cy="448.1" r="0.95"/><circle cx="605.3" cy="448.4" r="0.95"/><circle cx="592.0" cy="448.0" r="0.95"/><circle cx="587.4" cy="448.3" r="0.95"/><circle cx="602.2" cy="448.3" r="0.95"/><circle cx="605.5" cy="448.1" r="0.95"/><circle cx="589.3" cy="447.9" r="0.95"/><circle cx="594.3" cy="448.4" r="0.95"/><circle cx="587.4" cy="448.0" r="0.95"/><circle cx="587.3" cy="448.0" r="0.95"/><circle cx="597.7" cy="448.2" r="0.95"/><circle cx="606.2" cy="448.0" r="0.95"/><circle cx="590.6" cy="447.5" r="0.95"/><circle cx="589.6" cy="447.6" r="0.95"/><circle cx="585.5" cy="447.8" r="0.95"/><circle cx="597.3" cy="448.1" r="0.95"/><circle cx="605.4" cy="447.9" r="0.95"/><circle cx="587.4" cy="447.9" r="0.95"/><circle cx="600.9" cy="448.2" r="0.95"/><circle cx="602.0" cy="448.1" r="0.95"/><circle cx="593.1" cy="448.1" r="0.95"/><circle cx="595.0" cy="447.9" r="0.95"/><circle cx="588.9" cy="447.6" r="0.95"/><circle cx="604.9" cy="448.6" r="0.95"/><circle cx="607.0" cy="448.1" r="0.95"/><circle cx="600.6" cy="448.0" r="0.95"/><circle cx="588.0" cy="447.8" r="0.95"/><circle cx="592.8" cy="448.4" r="0.95"/><circle cx="597.1" cy="447.9" r="0.95"/><circle cx="596.1" cy="448.3" r="0.95"/><circle cx="589.8" cy="448.0" r="0.95"/><circle cx="605.9" cy="447.8" r="0.95"/><circle cx="607.3" cy="448.4" r="0.95"/><circle cx="588.3" cy="448.2" r="0.95"/><circle cx="600.7" cy="448.2" r="0.95"/><circle cx="589.7" cy="448.4" r="0.95"/><circle cx="589.7" cy="448.1" r="0.95"/><circle cx="588.8" cy="448.0" r="0.95"/><circle cx="606.8" cy="448.1" r="0.95"/><circle cx="596.8" cy="448.0" r="0.95"/><circle cx="599.9" cy="448.0" r="0.95"/><circle cx="591.8" cy="448.0" r="0.95"/><circle cx="598.8" cy="448.4" r="0.95"/><circle cx="604.7" cy="448.2" r="0.95"/><circle cx="592.0" cy="448.2" r="0.95"/><circle cx="586.5" cy="448.2" r="0.95"/><circle cx="602.7" cy="448.5" r="0.95"/><circle cx="587.5" cy="448.0" r="0.95"/><circle cx="596.1" cy="447.9" r="0.95"/><circle cx="606.7" cy="447.8" r="0.95"/><circle cx="588.3" cy="447.6" r="0.95"/><circle cx="603.0" cy="447.9" r="0.95"/><circle cx="593.9" cy="448.2" r="0.95"/><circle cx="594.8" cy="447.9" r="0.95"/><circle cx="587.1" cy="448.1" r="0.95"/><circle cx="596.7" cy="448.0" r="0.95"/><circle cx="600.5" cy="448.4" r="0.95"/><circle cx="594.3" cy="448.1" r="0.95"/><circle cx="605.7" cy="447.9" r="0.95"/><circle cx="602.6" cy="448.1" r="0.95"/><circle cx="597.2" cy="448.1" r="0.95"/><circle cx="606.2" cy="447.6" r="0.95"/><circle cx="592.6" cy="447.7" r="0.95"/><circle cx="605.1" cy="448.4" r="0.95"/><circle cx="586.6" cy="448.0" r="0.95"/><circle cx="591.8" cy="447.7" r="0.95"/><circle cx="596.4" cy="448.4" r="0.95"/><circle cx="601.3" cy="448.1" r="0.95"/><circle cx="607.0" cy="448.1" r="0.95"/><circle cx="592.5" cy="448.0" r="0.95"/><circle cx="598.8" cy="448.0" r="0.95"/><circle cx="588.2" cy="448.3" r="0.95"/><circle cx="606.8" cy="447.3" r="0.95"/><circle cx="599.2" cy="445.3" r="0.95"/><circle cx="596.2" cy="444.4" r="0.95"/><circle cx="600.8" cy="445.6" r="0.95"/><circle cx="598.6" cy="443.2" r="0.95"/><circle cx="592.1" cy="446.0" r="0.95"/><circle cx="589.4" cy="445.5" r="0.95"/><circle cx="588.0" cy="444.4" r="0.95"/><circle cx="586.7" cy="443.0" r="0.95"/><circle cx="587.6" cy="442.9" r="0.95"/><circle cx="585.9" cy="437.8" r="0.95"/><circle cx="592.1" cy="440.6" r="0.95"/></g>
<g fill="#e8501e" fill-opacity="0.5"><circle cx="637.7" cy="447.8" r="0.95"/><circle cx="645.2" cy="447.8" r="0.95"/><circle cx="648.4" cy="447.9" r="0.95"/><circle cx="636.4" cy="447.4" r="0.95"/><circle cx="635.4" cy="447.7" r="0.95"/><circle cx="632.3" cy="447.9" r="0.95"/><circle cx="635.3" cy="447.9" r="0.95"/><circle cx="639.7" cy="447.6" r="0.95"/><circle cx="643.6" cy="448.2" r="0.95"/><circle cx="645.5" cy="448.4" r="0.95"/><circle cx="640.9" cy="448.5" r="0.95"/><circle cx="633.6" cy="447.1" r="0.95"/><circle cx="630.8" cy="448.5" r="0.95"/><circle cx="649.9" cy="447.9" r="0.95"/><circle cx="649.0" cy="448.0" r="0.95"/><circle cx="651.0" cy="448.3" r="0.95"/><circle cx="637.8" cy="447.9" r="0.95"/><circle cx="639.6" cy="448.0" r="0.95"/><circle cx="640.8" cy="447.9" r="0.95"/><circle cx="631.0" cy="448.1" r="0.95"/><circle cx="650.9" cy="447.8" r="0.95"/><circle cx="648.0" cy="448.2" r="0.95"/><circle cx="651.1" cy="448.3" r="0.95"/><circle cx="641.4" cy="447.2" r="0.95"/><circle cx="651.2" cy="447.9" r="0.95"/><circle cx="646.9" cy="447.6" r="0.95"/><circle cx="644.8" cy="448.3" r="0.95"/><circle cx="633.5" cy="448.1" r="0.95"/><circle cx="640.5" cy="447.9" r="0.95"/><circle cx="632.9" cy="447.9" r="0.95"/><circle cx="640.6" cy="447.8" r="0.95"/><circle cx="648.0" cy="448.0" r="0.95"/><circle cx="636.6" cy="447.6" r="0.95"/><circle cx="637.5" cy="448.2" r="0.95"/><circle cx="646.2" cy="448.0" r="0.95"/><circle cx="646.2" cy="448.0" r="0.95"/><circle cx="648.3" cy="447.8" r="0.95"/><circle cx="647.3" cy="447.6" r="0.95"/><circle cx="638.2" cy="447.8" r="0.95"/><circle cx="648.8" cy="447.8" r="0.95"/><circle cx="650.8" cy="447.9" r="0.95"/><circle cx="633.9" cy="448.2" r="0.95"/><circle cx="634.6" cy="448.2" r="0.95"/><circle cx="640.2" cy="448.4" r="0.95"/><circle cx="641.9" cy="447.7" r="0.95"/><circle cx="647.9" cy="447.9" r="0.95"/><circle cx="644.2" cy="447.6" r="0.95"/><circle cx="641.4" cy="447.1" r="0.95"/><circle cx="648.8" cy="448.1" r="0.95"/><circle cx="645.8" cy="448.3" r="0.95"/><circle cx="645.8" cy="448.4" r="0.95"/><circle cx="640.5" cy="447.8" r="0.95"/><circle cx="650.0" cy="448.1" r="0.95"/><circle cx="648.6" cy="448.1" r="0.95"/><circle cx="634.0" cy="448.3" r="0.95"/><circle cx="642.6" cy="448.3" r="0.95"/><circle cx="643.7" cy="447.1" r="0.95"/><circle cx="633.2" cy="448.0" r="0.95"/><circle cx="636.1" cy="447.5" r="0.95"/><circle cx="642.1" cy="448.3" r="0.95"/><circle cx="643.1" cy="447.7" r="0.95"/><circle cx="647.7" cy="448.4" r="0.95"/><circle cx="637.6" cy="448.1" r="0.95"/><circle cx="641.4" cy="448.3" r="0.95"/><circle cx="632.5" cy="448.1" r="0.95"/><circle cx="647.1" cy="448.2" r="0.95"/><circle cx="645.9" cy="448.1" r="0.95"/><circle cx="631.1" cy="448.2" r="0.95"/><circle cx="631.4" cy="447.4" r="0.95"/><circle cx="637.2" cy="448.1" r="0.95"/><circle cx="632.6" cy="448.0" r="0.95"/><circle cx="633.6" cy="447.4" r="0.95"/><circle cx="638.1" cy="447.6" r="0.95"/><circle cx="648.2" cy="447.5" r="0.95"/><circle cx="634.9" cy="448.2" r="0.95"/><circle cx="639.4" cy="447.9" r="0.95"/><circle cx="637.3" cy="448.3" r="0.95"/><circle cx="642.1" cy="447.5" r="0.95"/><circle cx="652.3" cy="447.6" r="0.95"/><circle cx="648.0" cy="447.9" r="0.95"/><circle cx="638.2" cy="448.5" r="0.95"/><circle cx="650.8" cy="447.4" r="0.95"/><circle cx="643.7" cy="447.8" r="0.95"/><circle cx="641.7" cy="448.2" r="0.95"/><circle cx="646.3" cy="447.6" r="0.95"/><circle cx="640.9" cy="447.8" r="0.95"/><circle cx="649.5" cy="448.2" r="0.95"/><circle cx="639.2" cy="448.4" r="0.95"/><circle cx="642.4" cy="448.3" r="0.95"/><circle cx="635.8" cy="448.4" r="0.95"/><circle cx="644.8" cy="447.7" r="0.95"/><circle cx="636.3" cy="447.7" r="0.95"/><circle cx="647.6" cy="447.8" r="0.95"/><circle cx="647.3" cy="448.0" r="0.95"/><circle cx="634.2" cy="448.0" r="0.95"/><circle cx="636.9" cy="448.1" r="0.95"/><circle cx="638.2" cy="447.5" r="0.95"/><circle cx="644.5" cy="447.8" r="0.95"/><circle cx="645.5" cy="447.3" r="0.95"/><circle cx="634.8" cy="448.5" r="0.95"/><circle cx="642.0" cy="447.7" r="0.95"/><circle cx="649.4" cy="447.9" r="0.95"/><circle cx="640.8" cy="448.2" r="0.95"/><circle cx="630.9" cy="448.0" r="0.95"/><circle cx="642.4" cy="447.9" r="0.95"/><circle cx="641.6" cy="448.4" r="0.95"/><circle cx="633.0" cy="448.3" r="0.95"/><circle cx="636.7" cy="447.6" r="0.95"/><circle cx="640.7" cy="447.9" r="0.95"/><circle cx="640.6" cy="447.9" r="0.95"/><circle cx="640.3" cy="447.6" r="0.95"/><circle cx="652.4" cy="447.6" r="0.95"/><circle cx="640.3" cy="447.7" r="0.95"/><circle cx="645.3" cy="447.8" r="0.95"/><circle cx="649.2" cy="448.0" r="0.95"/><circle cx="632.3" cy="447.6" r="0.95"/><circle cx="644.2" cy="447.9" r="0.95"/><circle cx="646.5" cy="447.9" r="0.95"/><circle cx="648.4" cy="448.1" r="0.95"/><circle cx="648.5" cy="447.1" r="0.95"/><circle cx="639.7" cy="448.1" r="0.95"/><circle cx="638.9" cy="447.6" r="0.95"/><circle cx="643.4" cy="447.8" r="0.95"/><circle cx="634.2" cy="447.8" r="0.95"/><circle cx="652.4" cy="447.5" r="0.95"/><circle cx="651.7" cy="448.3" r="0.95"/><circle cx="644.7" cy="447.7" r="0.95"/><circle cx="643.3" cy="448.4" r="0.95"/><circle cx="640.9" cy="448.1" r="0.95"/><circle cx="649.8" cy="447.9" r="0.95"/><circle cx="651.1" cy="447.7" r="0.95"/><circle cx="644.6" cy="447.9" r="0.95"/><circle cx="647.1" cy="448.2" r="0.95"/><circle cx="633.5" cy="448.5" r="0.95"/><circle cx="635.9" cy="448.3" r="0.95"/><circle cx="638.9" cy="448.2" r="0.95"/><circle cx="640.3" cy="448.4" r="0.95"/><circle cx="638.3" cy="448.3" r="0.95"/><circle cx="635.6" cy="447.9" r="0.95"/><circle cx="632.9" cy="447.7" r="0.95"/><circle cx="636.6" cy="448.3" r="0.95"/><circle cx="633.7" cy="447.7" r="0.95"/><circle cx="651.9" cy="447.4" r="0.95"/><circle cx="632.4" cy="448.4" r="0.95"/><circle cx="647.2" cy="447.8" r="0.95"/><circle cx="651.7" cy="447.9" r="0.95"/><circle cx="633.6" cy="447.6" r="0.95"/><circle cx="632.5" cy="447.7" r="0.95"/><circle cx="642.7" cy="448.1" r="0.95"/><circle cx="632.1" cy="447.6" r="0.95"/><circle cx="632.6" cy="447.3" r="0.95"/><circle cx="651.1" cy="448.3" r="0.95"/><circle cx="631.5" cy="448.3" r="0.95"/><circle cx="634.5" cy="447.4" r="0.95"/><circle cx="637.6" cy="447.7" r="0.95"/><circle cx="637.0" cy="447.6" r="0.95"/><circle cx="638.1" cy="448.3" r="0.95"/><circle cx="642.9" cy="447.7" r="0.95"/><circle cx="636.7" cy="447.5" r="0.95"/><circle cx="643.1" cy="448.0" r="0.95"/><circle cx="635.1" cy="448.0" r="0.95"/><circle cx="651.3" cy="448.1" r="0.95"/><circle cx="646.3" cy="447.6" r="0.95"/><circle cx="642.5" cy="447.8" r="0.95"/><circle cx="649.5" cy="448.3" r="0.95"/><circle cx="631.6" cy="448.0" r="0.95"/><circle cx="630.9" cy="447.8" r="0.95"/><circle cx="640.9" cy="448.1" r="0.95"/><circle cx="651.3" cy="448.4" r="0.95"/><circle cx="632.3" cy="447.8" r="0.95"/><circle cx="633.1" cy="447.9" r="0.95"/><circle cx="633.4" cy="448.0" r="0.95"/><circle cx="631.7" cy="448.2" r="0.95"/><circle cx="632.5" cy="447.3" r="0.95"/><circle cx="647.6" cy="448.0" r="0.95"/><circle cx="643.2" cy="448.5" r="0.95"/><circle cx="644.5" cy="448.1" r="0.95"/><circle cx="651.0" cy="448.0" r="0.95"/><circle cx="634.6" cy="448.0" r="0.95"/><circle cx="650.7" cy="448.1" r="0.95"/><circle cx="650.9" cy="447.7" r="0.95"/><circle cx="635.5" cy="447.6" r="0.95"/><circle cx="632.8" cy="447.7" r="0.95"/><circle cx="635.4" cy="448.1" r="0.95"/><circle cx="633.3" cy="448.1" r="0.95"/><circle cx="643.1" cy="448.1" r="0.95"/><circle cx="649.5" cy="446.9" r="0.95"/><circle cx="646.1" cy="448.5" r="0.95"/><circle cx="642.0" cy="447.7" r="0.95"/><circle cx="648.0" cy="447.9" r="0.95"/><circle cx="636.3" cy="447.9" r="0.95"/><circle cx="647.3" cy="448.3" r="0.95"/><circle cx="641.4" cy="447.4" r="0.95"/><circle cx="631.0" cy="447.7" r="0.95"/><circle cx="631.3" cy="448.4" r="0.95"/><circle cx="633.4" cy="447.8" r="0.95"/><circle cx="630.9" cy="447.6" r="0.95"/><circle cx="635.4" cy="448.1" r="0.95"/><circle cx="640.9" cy="448.3" r="0.95"/><circle cx="649.2" cy="448.0" r="0.95"/><circle cx="651.9" cy="437.4" r="0.95"/><circle cx="631.3" cy="444.5" r="0.95"/><circle cx="638.6" cy="442.0" r="0.95"/><circle cx="632.0" cy="439.6" r="0.95"/><circle cx="647.6" cy="446.5" r="0.95"/><circle cx="652.2" cy="436.4" r="0.95"/><circle cx="645.6" cy="447.5" r="0.95"/><circle cx="634.4" cy="448.1" r="0.95"/><circle cx="634.9" cy="445.5" r="0.95"/><circle cx="640.9" cy="438.3" r="0.95"/><circle cx="636.0" cy="438.1" r="0.95"/><circle cx="646.9" cy="434.3" r="0.95"/><circle cx="636.4" cy="444.8" r="0.95"/><circle cx="644.3" cy="436.2" r="0.95"/><circle cx="634.9" cy="444.5" r="0.95"/><circle cx="637.5" cy="447.3" r="0.95"/><circle cx="643.5" cy="443.6" r="0.95"/><circle cx="635.3" cy="440.9" r="0.95"/><circle cx="652.2" cy="446.0" r="0.95"/><circle cx="635.2" cy="444.5" r="0.95"/><circle cx="651.2" cy="446.8" r="0.95"/><circle cx="648.0" cy="447.0" r="0.95"/><circle cx="642.7" cy="446.2" r="0.95"/><circle cx="645.3" cy="445.2" r="0.95"/><circle cx="651.1" cy="445.4" r="0.95"/><circle cx="632.8" cy="447.5" r="0.95"/><circle cx="646.4" cy="448.3" r="0.95"/><circle cx="649.8" cy="446.8" r="0.95"/><circle cx="636.1" cy="442.4" r="0.95"/><circle cx="643.1" cy="441.8" r="0.95"/><circle cx="632.7" cy="446.8" r="0.95"/><circle cx="637.0" cy="446.9" r="0.95"/><circle cx="634.8" cy="445.2" r="0.95"/><circle cx="647.2" cy="447.7" r="0.95"/><circle cx="642.5" cy="444.4" r="0.95"/><circle cx="648.0" cy="438.0" r="0.95"/><circle cx="637.5" cy="447.4" r="0.95"/><circle cx="648.6" cy="444.2" r="0.95"/><circle cx="638.4" cy="442.2" r="0.95"/><circle cx="643.7" cy="441.8" r="0.95"/><circle cx="640.3" cy="442.5" r="0.95"/><circle cx="633.0" cy="443.1" r="0.95"/><circle cx="637.7" cy="447.2" r="0.95"/><circle cx="646.7" cy="440.2" r="0.95"/><circle cx="641.2" cy="436.9" r="0.95"/><circle cx="648.3" cy="447.8" r="0.95"/><circle cx="642.4" cy="435.2" r="0.95"/><circle cx="634.6" cy="445.5" r="0.95"/><circle cx="647.9" cy="448.2" r="0.95"/><circle cx="640.0" cy="447.7" r="0.95"/><circle cx="634.4" cy="441.0" r="0.95"/><circle cx="638.7" cy="443.6" r="0.95"/><circle cx="642.1" cy="447.6" r="0.95"/><circle cx="644.3" cy="445.3" r="0.95"/><circle cx="638.7" cy="443.7" r="0.95"/><circle cx="631.9" cy="421.2" r="0.95"/><circle cx="643.1" cy="446.6" r="0.95"/><circle cx="636.4" cy="441.5" r="0.95"/><circle cx="643.1" cy="446.8" r="0.95"/><circle cx="630.6" cy="447.7" r="0.95"/><circle cx="646.6" cy="447.9" r="0.95"/><circle cx="637.5" cy="446.2" r="0.95"/><circle cx="649.2" cy="444.1" r="0.95"/><circle cx="631.2" cy="446.5" r="0.95"/><circle cx="638.7" cy="447.5" r="0.95"/><circle cx="643.1" cy="446.9" r="0.95"/><circle cx="635.4" cy="447.5" r="0.95"/><circle cx="639.3" cy="447.0" r="0.95"/><circle cx="635.6" cy="446.2" r="0.95"/><circle cx="649.0" cy="444.9" r="0.95"/><circle cx="641.7" cy="447.5" r="0.95"/><circle cx="631.4" cy="445.4" r="0.95"/><circle cx="648.1" cy="445.5" r="0.95"/><circle cx="644.4" cy="432.4" r="0.95"/><circle cx="642.8" cy="445.2" r="0.95"/><circle cx="641.8" cy="435.5" r="0.95"/><circle cx="640.1" cy="445.6" r="0.95"/><circle cx="647.0" cy="447.5" r="0.95"/><circle cx="640.0" cy="444.0" r="0.95"/><circle cx="634.3" cy="447.4" r="0.95"/><circle cx="642.9" cy="447.1" r="0.95"/><circle cx="637.3" cy="447.7" r="0.95"/><circle cx="642.3" cy="442.7" r="0.95"/><circle cx="648.6" cy="432.7" r="0.95"/><circle cx="638.3" cy="446.2" r="0.95"/><circle cx="648.8" cy="446.3" r="0.95"/><circle cx="651.2" cy="446.1" r="0.95"/><circle cx="642.9" cy="446.2" r="0.95"/><circle cx="634.7" cy="443.2" r="0.95"/><circle cx="631.8" cy="446.2" r="0.95"/><circle cx="635.5" cy="447.3" r="0.95"/><circle cx="644.0" cy="439.3" r="0.95"/><circle cx="631.7" cy="444.2" r="0.95"/><circle cx="647.9" cy="448.2" r="0.95"/><circle cx="647.7" cy="439.9" r="0.95"/><circle cx="630.6" cy="442.4" r="0.95"/><circle cx="643.7" cy="446.1" r="0.95"/><circle cx="633.4" cy="444.3" r="0.95"/><circle cx="637.6" cy="437.1" r="0.95"/><circle cx="640.2" cy="446.4" r="0.95"/><circle cx="635.5" cy="445.4" r="0.95"/><circle cx="644.8" cy="446.9" r="0.95"/><circle cx="648.9" cy="444.4" r="0.95"/><circle cx="634.4" cy="443.4" r="0.95"/><circle cx="636.6" cy="442.1" r="0.95"/><circle cx="633.6" cy="434.6" r="0.95"/><circle cx="639.9" cy="447.3" r="0.95"/><circle cx="631.1" cy="445.9" r="0.95"/><circle cx="646.0" cy="439.9" r="0.95"/><circle cx="638.1" cy="441.6" r="0.95"/><circle cx="631.5" cy="444.3" r="0.95"/><circle cx="651.0" cy="442.9" r="0.95"/><circle cx="633.8" cy="446.4" r="0.95"/><circle cx="638.2" cy="435.0" r="0.95"/><circle cx="649.0" cy="445.0" r="0.95"/><circle cx="643.4" cy="445.9" r="0.95"/><circle cx="642.7" cy="447.4" r="0.95"/><circle cx="643.0" cy="447.6" r="0.95"/><circle cx="648.4" cy="438.1" r="0.95"/><circle cx="635.7" cy="441.2" r="0.95"/><circle cx="647.6" cy="448.2" r="0.95"/><circle cx="637.6" cy="446.6" r="0.95"/><circle cx="645.7" cy="445.1" r="0.95"/><circle cx="650.0" cy="445.2" r="0.95"/><circle cx="639.7" cy="446.3" r="0.95"/><circle cx="647.2" cy="438.0" r="0.95"/><circle cx="634.5" cy="446.4" r="0.95"/><circle cx="630.8" cy="444.9" r="0.95"/><circle cx="633.3" cy="436.2" r="0.95"/><circle cx="638.5" cy="444.1" r="0.95"/><circle cx="644.0" cy="445.2" r="0.95"/><circle cx="644.5" cy="446.5" r="0.95"/><circle cx="630.5" cy="446.1" r="0.95"/><circle cx="645.9" cy="444.4" r="0.95"/><circle cx="651.7" cy="441.0" r="0.95"/><circle cx="641.8" cy="446.9" r="0.95"/><circle cx="640.3" cy="446.5" r="0.95"/><circle cx="640.1" cy="446.1" r="0.95"/><circle cx="647.2" cy="446.6" r="0.95"/><circle cx="643.3" cy="437.4" r="0.95"/><circle cx="632.7" cy="444.7" r="0.95"/><circle cx="634.7" cy="447.1" r="0.95"/><circle cx="645.3" cy="446.2" r="0.95"/><circle cx="643.2" cy="440.9" r="0.95"/><circle cx="649.2" cy="447.4" r="0.95"/><circle cx="638.6" cy="443.1" r="0.95"/><circle cx="639.7" cy="448.6" r="0.95"/><circle cx="649.2" cy="447.7" r="0.95"/><circle cx="652.5" cy="447.7" r="0.95"/><circle cx="651.3" cy="440.9" r="0.95"/><circle cx="636.2" cy="447.7" r="0.95"/><circle cx="639.3" cy="446.9" r="0.95"/><circle cx="651.9" cy="447.8" r="0.95"/><circle cx="632.3" cy="446.8" r="0.95"/><circle cx="648.6" cy="442.6" r="0.95"/><circle cx="640.5" cy="442.5" r="0.95"/><circle cx="633.6" cy="437.8" r="0.95"/><circle cx="647.2" cy="435.0" r="0.95"/><circle cx="645.2" cy="445.0" r="0.95"/><circle cx="638.4" cy="436.7" r="0.95"/><circle cx="646.9" cy="448.0" r="0.95"/><circle cx="639.2" cy="436.3" r="0.95"/><circle cx="637.6" cy="445.9" r="0.95"/><circle cx="634.6" cy="447.3" r="0.95"/><circle cx="647.4" cy="442.0" r="0.95"/><circle cx="633.3" cy="439.7" r="0.95"/><circle cx="645.6" cy="446.2" r="0.95"/><circle cx="650.5" cy="447.8" r="0.95"/><circle cx="641.7" cy="439.1" r="0.95"/><circle cx="649.3" cy="441.9" r="0.95"/><circle cx="635.8" cy="412.5" r="0.95"/><circle cx="648.6" cy="414.6" r="0.95"/><circle cx="634.6" cy="417.3" r="0.95"/><circle cx="652.2" cy="423.2" r="0.95"/><circle cx="647.9" cy="426.1" r="0.95"/><circle cx="644.1" cy="421.3" r="0.95"/><circle cx="630.5" cy="429.0" r="0.95"/><circle cx="637.8" cy="430.7" r="0.95"/><circle cx="649.3" cy="432.5" r="0.95"/></g>
<circle cx="633.3" cy="336.7" r="0.95" fill="#e8501e" fill-opacity="0.5"/>
<circle cx="648.4" cy="390.3" r="0.95" fill="#e8501e" fill-opacity="0.5"/>
<circle cx="604.5" cy="424.2" r="0.95" fill="#4a72c0" fill-opacity="0.5"/>
<circle cx="606.5" cy="428.7" r="0.95" fill="#4a72c0" fill-opacity="0.5"/>
<line x1="550.5" y1="448.3" x2="550.5" y2="448.3" stroke="#555" stroke-width="0.9" stroke-opacity="0.8"/>
<circle cx="550.5" cy="448.3" r="1.0" fill="#111"/>
<line x1="596.5" y1="448.7" x2="596.5" y2="447.1" stroke="#555" stroke-width="0.9" stroke-opacity="0.8"/>
<circle cx="596.5" cy="447.9" r="1.0" fill="#111"/>
<line x1="641.5" y1="459.0" x2="641.5" y2="436.3" stroke="#555" stroke-width="0.9" stroke-opacity="0.8"/>
<circle cx="641.5" cy="444.4" r="1.0" fill="#111"/>
<path d="M550.7 337.7V336.5H641.5V337.7" fill="none" stroke="#9a9a9a" stroke-width="0.9"/>
<text x="596.7" y="333.9" font-size="7.5" text-anchor="middle" fill="#1a1a1a">ns</text>
<path d="M550.7 382.7V381.5H596.5V382.7" fill="none" stroke="#9a9a9a" stroke-width="0.9"/>
<text x="574.2" y="378.9" font-size="7.5" text-anchor="middle" fill="#1a1a1a">ns</text>
<path d="M596.5 404.7V403.5H641.5V404.7" fill="none" stroke="#9a9a9a" stroke-width="0.9"/>
<rect x="618" y="401" width="3" height="1" fill="#aaa"/>
<rect x="523.5" y="331.5" width="145.0" height="127.0" fill="none" stroke="#b4b4b4" stroke-width="1"/>
<line x1="521.9" y1="448.3" x2="523.5" y2="448.3" stroke="#555" stroke-width="0.7"/>
<text x="519.3" y="450.8" font-size="7.1" text-anchor="end" fill="#222">0</text>
<line x1="521.9" y1="412.6" x2="523.5" y2="412.6" stroke="#555" stroke-width="0.7"/>
<text x="519.3" y="415.1" font-size="7.1" text-anchor="end" fill="#222">40</text>
<line x1="521.9" y1="376.9" x2="523.5" y2="376.9" stroke="#555" stroke-width="0.7"/>
<text x="519.3" y="379.4" font-size="7.1" text-anchor="end" fill="#222">80</text>
<line x1="521.9" y1="341.2" x2="523.5" y2="341.2" stroke="#555" stroke-width="0.7"/>
<text x="519.3" y="343.7" font-size="7.1" text-anchor="end" fill="#222">120</text>
<line x1="550.7" y1="458.5" x2="550.7" y2="460.0" stroke="#555" stroke-width="0.7"/>
<text x="550.7" y="468.3" font-size="6.9" text-anchor="middle" fill="#222">Tumor_Free_Lung</text>
<line x1="596.5" y1="458.5" x2="596.5" y2="460.0" stroke="#555" stroke-width="0.7"/>
<text x="596.5" y="468.3" font-size="6.9" text-anchor="middle" fill="#222">Stroma</text>
<line x1="641.5" y1="458.5" x2="641.5" y2="460.0" stroke="#555" stroke-width="0.7"/>
<text x="641.5" y="468.3" font-size="6.9" text-anchor="middle" fill="#222">Tumor</text>
<text x="502" y="395" font-size="7" text-anchor="middle" fill="#222" transform="rotate(-90 502 395)">panCK+ pHH3- pSMAD2L- density</text>
<g fill="#a0a0a0" fill-opacity="0.5"><circle cx="377.0" cy="604.1" r="0.95"/><circle cx="378.9" cy="604.2" r="0.95"/><circle cx="381.1" cy="604.2" r="0.95"/><circle cx="368.0" cy="604.2" r="0.95"/><circle cx="362.9" cy="603.6" r="0.95"/><circle cx="380.0" cy="603.9" r="0.95"/><circle cx="381.9" cy="603.8" r="0.95"/><circle cx="362.4" cy="603.6" r="0.95"/><circle cx="380.3" cy="604.1" r="0.95"/><circle cx="370.3" cy="604.0" r="0.95"/><circle cx="361.7" cy="604.2" r="0.95"/><circle cx="367.1" cy="603.6" r="0.95"/></g>
<g fill="#4a72c0" fill-opacity="0.5"><circle cx="415.8" cy="603.7" r="0.95"/><circle cx="415.8" cy="603.9" r="0.95"/><circle cx="409.2" cy="603.7" r="0.95"/><circle cx="412.3" cy="603.5" r="0.95"/><circle cx="424.8" cy="603.7" r="0.95"/><circle cx="421.1" cy="604.0" r="0.95"/><circle cx="414.4" cy="603.7" r="0.95"/><circle cx="416.6" cy="604.2" r="0.95"/><circle cx="408.9" cy="603.9" r="0.95"/><circle cx="415.5" cy="603.7" r="0.95"/><circle cx="420.7" cy="604.2" r="0.95"/><circle cx="414.2" cy="603.8" r="0.95"/><circle cx="410.6" cy="603.6" r="0.95"/><circle cx="412.0" cy="603.6" r="0.95"/><circle cx="418.9" cy="603.9" r="0.95"/><circle cx="421.3" cy="603.9" r="0.95"/><circle cx="426.4" cy="603.7" r="0.95"/><circle cx="418.6" cy="603.7" r="0.95"/><circle cx="415.6" cy="603.7" r="0.95"/><circle cx="411.9" cy="603.7" r="0.95"/><circle cx="416.3" cy="603.8" r="0.95"/><circle cx="417.1" cy="603.8" r="0.95"/><circle cx="426.8" cy="603.9" r="0.95"/><circle cx="426.9" cy="603.6" r="0.95"/><circle cx="418.5" cy="603.9" r="0.95"/><circle cx="415.0" cy="603.7" r="0.95"/><circle cx="410.3" cy="604.1" r="0.95"/><circle cx="406.7" cy="604.1" r="0.95"/><circle cx="415.6" cy="603.6" r="0.95"/><circle cx="411.9" cy="603.9" r="0.95"/><circle cx="412.5" cy="603.8" r="0.95"/><circle cx="414.2" cy="603.8" r="0.95"/><circle cx="417.4" cy="603.8" r="0.95"/><circle cx="407.4" cy="603.5" r="0.95"/><circle cx="419.4" cy="603.4" r="0.95"/><circle cx="416.5" cy="603.5" r="0.95"/><circle cx="421.4" cy="603.6" r="0.95"/><circle cx="406.2" cy="603.3" r="0.95"/><circle cx="412.4" cy="604.0" r="0.95"/><circle cx="420.6" cy="604.1" r="0.95"/><circle cx="426.1" cy="603.8" r="0.95"/><circle cx="406.1" cy="603.7" r="0.95"/><circle cx="412.9" cy="604.0" r="0.95"/><circle cx="408.9" cy="603.6" r="0.95"/><circle cx="410.5" cy="603.9" r="0.95"/><circle cx="425.9" cy="603.6" r="0.95"/><circle cx="416.2" cy="603.9" r="0.95"/><circle cx="421.9" cy="603.4" r="0.95"/><circle cx="411.0" cy="603.8" r="0.95"/><circle cx="411.9" cy="603.5" r="0.95"/><circle cx="418.9" cy="603.8" r="0.95"/><circle cx="426.5" cy="603.7" r="0.95"/><circle cx="409.8" cy="603.7" r="0.95"/><circle cx="424.8" cy="604.1" r="0.95"/><circle cx="406.4" cy="603.5" r="0.95"/><circle cx="410.3" cy="603.9" r="0.95"/><circle cx="420.3" cy="603.5" r="0.95"/><circle cx="422.5" cy="604.1" r="0.95"/><circle cx="423.0" cy="603.5" r="0.95"/><circle cx="423.1" cy="603.5" r="0.95"/><circle cx="425.6" cy="603.6" r="0.95"/><circle cx="413.8" cy="603.6" r="0.95"/><circle cx="423.2" cy="603.9" r="0.95"/><circle cx="416.8" cy="603.9" r="0.95"/><circle cx="411.5" cy="603.7" r="0.95"/><circle cx="406.1" cy="603.9" r="0.95"/><circle cx="426.1" cy="603.6" r="0.95"/><circle cx="415.3" cy="603.8" r="0.95"/><circle cx="413.4" cy="604.2" r="0.95"/><circle cx="409.8" cy="603.8" r="0.95"/><circle cx="420.3" cy="604.1" r="0.95"/><circle cx="411.9" cy="603.3" r="0.95"/><circle cx="420.3" cy="603.5" r="0.95"/><circle cx="423.2" cy="603.3" r="0.95"/><circle cx="424.5" cy="603.9" r="0.95"/><circle cx="416.2" cy="603.9" r="0.95"/><circle cx="422.2" cy="603.9" r="0.95"/><circle cx="410.8" cy="603.4" r="0.95"/><circle cx="407.7" cy="603.5" r="0.95"/><circle cx="419.9" cy="604.0" r="0.95"/><circle cx="425.9" cy="603.8" r="0.95"/><circle cx="413.1" cy="604.2" r="0.95"/><circle cx="422.5" cy="604.2" r="0.95"/><circle cx="405.3" cy="604.3" r="0.95"/><circle cx="414.2" cy="604.1" r="0.95"/><circle cx="409.7" cy="603.8" r="0.95"/><circle cx="421.7" cy="603.9" r="0.95"/><circle cx="420.4" cy="603.6" r="0.95"/><circle cx="425.2" cy="603.4" r="0.95"/><circle cx="423.1" cy="603.9" r="0.95"/><circle cx="418.8" cy="603.4" r="0.95"/><circle cx="422.5" cy="603.9" r="0.95"/><circle cx="410.6" cy="604.1" r="0.95"/><circle cx="414.2" cy="604.2" r="0.95"/><circle cx="410.2" cy="603.7" r="0.95"/><circle cx="409.8" cy="603.5" r="0.95"/><circle cx="408.2" cy="603.5" r="0.95"/><circle cx="416.5" cy="603.6" r="0.95"/><circle cx="407.4" cy="604.0" r="0.95"/><circle cx="419.1" cy="603.4" r="0.95"/><circle cx="411.1" cy="603.6" r="0.95"/><circle cx="425.1" cy="603.6" r="0.95"/><circle cx="416.2" cy="604.1" r="0.95"/><circle cx="413.9" cy="604.1" r="0.95"/><circle cx="406.6" cy="603.8" r="0.95"/><circle cx="407.8" cy="603.4" r="0.95"/><circle cx="407.0" cy="604.1" r="0.95"/><circle cx="424.8" cy="603.8" r="0.95"/><circle cx="416.1" cy="603.4" r="0.95"/><circle cx="416.5" cy="604.1" r="0.95"/><circle cx="421.0" cy="603.5" r="0.95"/><circle cx="426.8" cy="604.3" r="0.95"/><circle cx="418.0" cy="603.4" r="0.95"/><circle cx="420.8" cy="604.0" r="0.95"/><circle cx="405.2" cy="603.8" r="0.95"/><circle cx="405.5" cy="603.3" r="0.95"/><circle cx="420.0" cy="604.1" r="0.95"/><circle cx="412.3" cy="603.6" r="0.95"/><circle cx="411.1" cy="603.6" r="0.95"/><circle cx="417.3" cy="603.6" r="0.95"/><circle cx="425.2" cy="603.4" r="0.95"/><circle cx="410.2" cy="604.0" r="0.95"/><circle cx="414.9" cy="603.3" r="0.95"/><circle cx="413.6" cy="603.5" r="0.95"/><circle cx="422.7" cy="603.7" r="0.95"/><circle cx="419.2" cy="603.8" r="0.95"/><circle cx="414.3" cy="603.4" r="0.95"/><circle cx="416.9" cy="603.6" r="0.95"/><circle cx="410.4" cy="604.2" r="0.95"/><circle cx="409.0" cy="604.1" r="0.95"/><circle cx="408.6" cy="603.5" r="0.95"/><circle cx="405.8" cy="604.1" r="0.95"/><circle cx="424.8" cy="603.5" r="0.95"/><circle cx="412.7" cy="603.6" r="0.95"/><circle cx="419.0" cy="603.4" r="0.95"/><circle cx="415.4" cy="604.0" r="0.95"/><circle cx="411.2" cy="603.5" r="0.95"/><circle cx="419.5" cy="604.0" r="0.95"/><circle cx="405.2" cy="603.8" r="0.95"/><circle cx="423.7" cy="603.9" r="0.95"/><circle cx="420.0" cy="604.1" r="0.95"/><circle cx="409.6" cy="603.8" r="0.95"/><circle cx="408.4" cy="604.1" r="0.95"/><circle cx="418.0" cy="604.0" r="0.95"/><circle cx="419.6" cy="603.7" r="0.95"/><circle cx="420.7" cy="603.7" r="0.95"/><circle cx="416.2" cy="603.9" r="0.95"/><circle cx="422.2" cy="603.6" r="0.95"/><circle cx="421.7" cy="603.9" r="0.95"/><circle cx="418.9" cy="603.4" r="0.95"/><circle cx="416.7" cy="603.4" r="0.95"/><circle cx="419.0" cy="603.9" r="0.95"/><circle cx="413.5" cy="603.8" r="0.95"/><circle cx="418.8" cy="603.8" r="0.95"/><circle cx="426.7" cy="604.0" r="0.95"/><circle cx="420.2" cy="603.7" r="0.95"/><circle cx="406.3" cy="603.9" r="0.95"/><circle cx="410.0" cy="603.8" r="0.95"/><circle cx="419.5" cy="604.0" r="0.95"/><circle cx="406.4" cy="603.8" r="0.95"/><circle cx="412.6" cy="603.5" r="0.95"/><circle cx="410.8" cy="604.2" r="0.95"/><circle cx="415.1" cy="603.8" r="0.95"/><circle cx="407.7" cy="603.6" r="0.95"/><circle cx="419.0" cy="603.5" r="0.95"/><circle cx="412.6" cy="603.3" r="0.95"/><circle cx="417.3" cy="603.5" r="0.95"/><circle cx="426.7" cy="603.7" r="0.95"/><circle cx="425.5" cy="603.3" r="0.95"/><circle cx="421.6" cy="604.1" r="0.95"/><circle cx="414.8" cy="603.7" r="0.95"/><circle cx="418.8" cy="603.7" r="0.95"/><circle cx="410.5" cy="604.2" r="0.95"/><circle cx="419.3" cy="603.7" r="0.95"/><circle cx="415.2" cy="604.1" r="0.95"/><circle cx="421.4" cy="603.7" r="0.95"/><circle cx="412.0" cy="603.7" r="0.95"/><circle cx="406.3" cy="603.6" r="0.95"/><circle cx="407.6" cy="603.9" r="0.95"/><circle cx="412.4" cy="603.7" r="0.95"/><circle cx="409.9" cy="603.6" r="0.95"/><circle cx="410.1" cy="604.1" r="0.95"/><circle cx="415.1" cy="603.8" r="0.95"/><circle cx="412.1" cy="603.8" r="0.95"/><circle cx="418.3" cy="603.5" r="0.95"/><circle cx="420.1" cy="603.4" r="0.95"/><circle cx="427.0" cy="603.9" r="0.95"/><circle cx="409.8" cy="603.7" r="0.95"/><circle cx="425.1" cy="604.1" r="0.95"/><circle cx="422.4" cy="603.8" r="0.95"/><circle cx="409.4" cy="604.0" r="0.95"/><circle cx="417.8" cy="603.5" r="0.95"/><circle cx="406.3" cy="603.9" r="0.95"/><circle cx="425.3" cy="603.7" r="0.95"/><circle cx="419.1" cy="603.5" r="0.95"/><circle cx="424.4" cy="604.1" r="0.95"/><circle cx="411.7" cy="603.9" r="0.95"/><circle cx="421.4" cy="603.6" r="0.95"/><circle cx="424.5" cy="603.5" r="0.95"/><circle cx="411.4" cy="603.3" r="0.95"/><circle cx="423.3" cy="603.8" r="0.95"/><circle cx="410.1" cy="603.9" r="0.95"/><circle cx="416.4" cy="603.8" r="0.95"/><circle cx="414.3" cy="603.8" r="0.95"/><circle cx="417.4" cy="603.6" r="0.95"/><circle cx="413.2" cy="603.5" r="0.95"/><circle cx="419.0" cy="604.0" r="0.95"/><circle cx="410.1" cy="603.8" r="0.95"/><circle cx="413.7" cy="603.2" r="0.95"/><circle cx="406.5" cy="603.5" r="0.95"/><circle cx="421.5" cy="603.2" r="0.95"/><circle cx="411.3" cy="603.9" r="0.95"/><circle cx="409.4" cy="604.0" r="0.95"/><circle cx="415.5" cy="603.6" r="0.95"/><circle cx="420.0" cy="604.0" r="0.95"/><circle cx="426.0" cy="603.7" r="0.95"/><circle cx="422.2" cy="604.0" r="0.95"/><circle cx="417.7" cy="603.4" r="0.95"/><circle cx="411.9" cy="603.6" r="0.95"/><circle cx="406.1" cy="603.4" r="0.95"/><circle cx="423.2" cy="603.2" r="0.95"/><circle cx="417.4" cy="603.4" r="0.95"/><circle cx="416.7" cy="603.8" r="0.95"/><circle cx="411.0" cy="603.9" r="0.95"/><circle cx="411.2" cy="604.2" r="0.95"/><circle cx="415.2" cy="603.4" r="0.95"/><circle cx="421.4" cy="603.6" r="0.95"/><circle cx="421.5" cy="604.0" r="0.95"/><circle cx="425.4" cy="603.9" r="0.95"/><circle cx="421.5" cy="604.1" r="0.95"/><circle cx="423.0" cy="604.0" r="0.95"/><circle cx="424.8" cy="603.8" r="0.95"/><circle cx="413.5" cy="603.6" r="0.95"/><circle cx="423.6" cy="604.0" r="0.95"/><circle cx="413.4" cy="604.1" r="0.95"/><circle cx="422.6" cy="603.9" r="0.95"/><circle cx="412.5" cy="603.7" r="0.95"/><circle cx="411.5" cy="603.9" r="0.95"/><circle cx="415.3" cy="603.4" r="0.95"/><circle cx="408.3" cy="603.8" r="0.95"/><circle cx="409.3" cy="603.4" r="0.95"/><circle cx="416.8" cy="603.5" r="0.95"/><circle cx="414.0" cy="603.3" r="0.95"/><circle cx="424.0" cy="603.8" r="0.95"/><circle cx="416.0" cy="603.9" r="0.95"/><circle cx="405.5" cy="604.0" r="0.95"/><circle cx="425.9" cy="603.5" r="0.95"/><circle cx="417.5" cy="604.1" r="0.95"/><circle cx="423.7" cy="604.2" r="0.95"/><circle cx="425.0" cy="604.0" r="0.95"/><circle cx="408.3" cy="603.9" r="0.95"/><circle cx="426.8" cy="603.8" r="0.95"/><circle cx="424.4" cy="603.5" r="0.95"/><circle cx="414.6" cy="603.6" r="0.95"/><circle cx="415.5" cy="604.2" r="0.95"/><circle cx="420.6" cy="603.7" r="0.95"/><circle cx="412.0" cy="603.5" r="0.95"/><circle cx="414.6" cy="603.2" r="0.95"/><circle cx="415.9" cy="603.8" r="0.95"/><circle cx="414.0" cy="603.7" r="0.95"/><circle cx="414.2" cy="603.9" r="0.95"/><circle cx="415.8" cy="604.1" r="0.95"/><circle cx="424.8" cy="603.9" r="0.95"/><circle cx="421.8" cy="603.7" r="0.95"/><circle cx="408.7" cy="603.5" r="0.95"/><circle cx="408.2" cy="603.9" r="0.95"/><circle cx="425.3" cy="603.7" r="0.95"/><circle cx="409.9" cy="603.6" r="0.95"/><circle cx="422.1" cy="603.9" r="0.95"/><circle cx="408.3" cy="604.2" r="0.95"/><circle cx="421.7" cy="604.2" r="0.95"/><circle cx="426.7" cy="603.9" r="0.95"/><circle cx="425.5" cy="604.1" r="0.95"/><circle cx="408.6" cy="603.7" r="0.95"/><circle cx="416.9" cy="603.8" r="0.95"/><circle cx="408.4" cy="603.5" r="0.95"/><circle cx="422.1" cy="604.2" r="0.95"/><circle cx="415.6" cy="604.1" r="0.95"/><circle cx="424.4" cy="604.1" r="0.95"/><circle cx="409.3" cy="603.8" r="0.95"/><circle cx="419.7" cy="604.1" r="0.95"/><circle cx="423.4" cy="603.5" r="0.95"/><circle cx="420.0" cy="603.5" r="0.95"/><circle cx="411.9" cy="603.5" r="0.95"/><circle cx="416.3" cy="603.5" r="0.95"/><circle cx="419.6" cy="603.8" r="0.95"/><circle cx="422.9" cy="603.6" r="0.95"/><circle cx="426.9" cy="603.4" r="0.95"/><circle cx="406.9" cy="603.8" r="0.95"/><circle cx="416.2" cy="604.1" r="0.95"/><circle cx="405.7" cy="603.5" r="0.95"/><circle cx="410.5" cy="603.8" r="0.95"/><circle cx="423.2" cy="603.9" r="0.95"/><circle cx="410.3" cy="603.7" r="0.95"/><circle cx="422.0" cy="603.7" r="0.95"/><circle cx="407.5" cy="603.6" r="0.95"/><circle cx="405.6" cy="603.8" r="0.95"/><circle cx="410.2" cy="603.5" r="0.95"/><circle cx="412.6" cy="604.1" r="0.95"/><circle cx="406.9" cy="603.5" r="0.95"/><circle cx="408.0" cy="603.3" r="0.95"/><circle cx="414.7" cy="602.9" r="0.95"/><circle cx="421.1" cy="603.1" r="0.95"/><circle cx="408.0" cy="601.7" r="0.95"/><circle cx="423.4" cy="602.1" r="0.95"/><circle cx="421.9" cy="602.5" r="0.95"/><circle cx="426.2" cy="602.4" r="0.95"/><circle cx="408.9" cy="601.0" r="0.95"/><circle cx="418.1" cy="590.5" r="0.95"/><circle cx="416.5" cy="597.6" r="0.95"/><circle cx="415.7" cy="599.0" r="0.95"/><circle cx="416.0" cy="599.4" r="0.95"/></g>
<g fill="#e8501e" fill-opacity="0.5"><circle cx="465.7" cy="603.4" r="0.95"/><circle cx="468.8" cy="603.5" r="0.95"/><circle cx="461.5" cy="603.4" r="0.95"/><circle cx="464.1" cy="603.8" r="0.95"/><circle cx="465.4" cy="603.7" r="0.95"/><circle cx="470.7" cy="602.9" r="0.95"/><circle cx="454.1" cy="603.5" r="0.95"/><circle cx="469.4" cy="603.5" r="0.95"/><circle cx="453.6" cy="603.8" r="0.95"/><circle cx="455.9" cy="603.3" r="0.95"/><circle cx="466.8" cy="603.8" r="0.95"/><circle cx="467.5" cy="603.2" r="0.95"/><circle cx="456.4" cy="603.0" r="0.95"/><circle cx="467.6" cy="603.5" r="0.95"/><circle cx="462.3" cy="603.0" r="0.95"/><circle cx="458.7" cy="603.3" r="0.95"/><circle cx="464.5" cy="603.5" r="0.95"/><circle cx="470.7" cy="603.6" r="0.95"/><circle cx="460.3" cy="603.7" r="0.95"/><circle cx="456.6" cy="603.5" r="0.95"/><circle cx="449.9" cy="603.4" r="0.95"/><circle cx="470.6" cy="603.7" r="0.95"/><circle cx="451.9" cy="603.6" r="0.95"/><circle cx="456.0" cy="603.3" r="0.95"/><circle cx="456.5" cy="603.3" r="0.95"/><circle cx="456.2" cy="604.1" r="0.95"/><circle cx="461.3" cy="604.1" r="0.95"/><circle cx="455.8" cy="603.5" r="0.95"/><circle cx="465.8" cy="604.1" r="0.95"/><circle cx="467.0" cy="603.7" r="0.95"/><circle cx="466.9" cy="603.1" r="0.95"/><circle cx="464.9" cy="604.0" r="0.95"/><circle cx="461.5" cy="603.8" r="0.95"/><circle cx="459.2" cy="603.2" r="0.95"/><circle cx="459.5" cy="602.5" r="0.95"/><circle cx="467.6" cy="603.6" r="0.95"/><circle cx="461.3" cy="603.5" r="0.95"/><circle cx="452.8" cy="603.9" r="0.95"/><circle cx="449.1" cy="603.9" r="0.95"/><circle cx="450.1" cy="603.0" r="0.95"/><circle cx="465.4" cy="603.4" r="0.95"/><circle cx="455.6" cy="603.6" r="0.95"/><circle cx="469.5" cy="603.9" r="0.95"/><circle cx="456.9" cy="603.7" r="0.95"/><circle cx="454.4" cy="603.3" r="0.95"/><circle cx="465.2" cy="603.0" r="0.95"/><circle cx="466.5" cy="603.8" r="0.95"/><circle cx="464.0" cy="603.2" r="0.95"/><circle cx="454.9" cy="603.9" r="0.95"/><circle cx="467.7" cy="603.9" r="0.95"/><circle cx="461.1" cy="604.0" r="0.95"/><circle cx="457.0" cy="603.5" r="0.95"/><circle cx="469.4" cy="603.6" r="0.95"/><circle cx="469.7" cy="603.5" r="0.95"/><circle cx="458.1" cy="603.8" r="0.95"/><circle cx="469.4" cy="603.3" r="0.95"/><circle cx="468.5" cy="603.3" r="0.95"/><circle cx="464.7" cy="603.3" r="0.95"/><circle cx="459.1" cy="603.5" r="0.95"/><circle cx="458.5" cy="603.4" r="0.95"/><circle cx="458.0" cy="604.0" r="0.95"/><circle cx="463.9" cy="603.9" r="0.95"/><circle cx="469.5" cy="603.0" r="0.95"/><circle cx="456.3" cy="602.6" r="0.95"/><circle cx="454.6" cy="603.5" r="0.95"/><circle cx="466.4" cy="603.3" r="0.95"/><circle cx="463.3" cy="603.5" r="0.95"/><circle cx="455.1" cy="604.0" r="0.95"/><circle cx="451.0" cy="604.1" r="0.95"/><circle cx="452.2" cy="603.6" r="0.95"/><circle cx="465.7" cy="604.1" r="0.95"/><circle cx="452.4" cy="603.6" r="0.95"/><circle cx="460.2" cy="603.2" r="0.95"/><circle cx="461.0" cy="603.2" r="0.95"/><circle cx="463.2" cy="603.4" r="0.95"/><circle cx="467.4" cy="603.7" r="0.95"/><circle cx="468.0" cy="603.5" r="0.95"/><circle cx="465.0" cy="604.0" r="0.95"/><circle cx="467.4" cy="602.5" r="0.95"/><circle cx="469.7" cy="604.2" r="0.95"/><circle cx="453.3" cy="603.7" r="0.95"/><circle cx="462.5" cy="603.3" r="0.95"/><circle cx="458.3" cy="603.5" r="0.95"/><circle cx="453.6" cy="603.4" r="0.95"/><circle cx="462.1" cy="603.6" r="0.95"/><circle cx="464.5" cy="603.0" r="0.95"/><circle cx="453.6" cy="603.0" r="0.95"/><circle cx="466.0" cy="603.7" r="0.95"/><circle cx="465.2" cy="603.4" r="0.95"/><circle cx="455.7" cy="603.6" r="0.95"/><circle cx="453.3" cy="603.7" r="0.95"/><circle cx="461.1" cy="603.4" r="0.95"/><circle cx="459.3" cy="603.9" r="0.95"/><circle cx="451.7" cy="603.2" r="0.95"/><circle cx="459.7" cy="603.1" r="0.95"/><circle cx="469.3" cy="603.4" r="0.95"/><circle cx="468.7" cy="603.7" r="0.95"/><circle cx="465.4" cy="602.9" r="0.95"/><circle cx="461.8" cy="603.6" r="0.95"/><circle cx="467.2" cy="603.1" r="0.95"/><circle cx="465.4" cy="603.1" r="0.95"/><circle cx="470.3" cy="603.0" r="0.95"/><circle cx="467.8" cy="603.5" r="0.95"/><circle cx="470.7" cy="603.3" r="0.95"/><circle cx="453.9" cy="604.0" r="0.95"/><circle cx="466.4" cy="603.9" r="0.95"/><circle cx="458.4" cy="603.1" r="0.95"/><circle cx="463.0" cy="603.7" r="0.95"/><circle cx="465.2" cy="604.0" r="0.95"/><circle cx="450.4" cy="603.5" r="0.95"/><circle cx="455.4" cy="603.5" r="0.95"/><circle cx="463.7" cy="603.7" r="0.95"/><circle cx="449.1" cy="603.6" r="0.95"/><circle cx="455.3" cy="603.7" r="0.95"/><circle cx="455.3" cy="603.1" r="0.95"/><circle cx="453.9" cy="603.4" r="0.95"/><circle cx="468.4" cy="603.7" r="0.95"/><circle cx="470.1" cy="603.9" r="0.95"/><circle cx="468.7" cy="603.9" r="0.95"/><circle cx="465.6" cy="603.8" r="0.95"/><circle cx="453.3" cy="603.9" r="0.95"/><circle cx="456.9" cy="603.5" r="0.95"/><circle cx="455.0" cy="603.2" r="0.95"/><circle cx="451.9" cy="603.5" r="0.95"/><circle cx="467.6" cy="603.6" r="0.95"/><circle cx="449.7" cy="603.7" r="0.95"/><circle cx="449.1" cy="602.8" r="0.95"/><circle cx="470.7" cy="603.1" r="0.95"/><circle cx="461.7" cy="603.8" r="0.95"/><circle cx="465.0" cy="603.8" r="0.95"/><circle cx="465.1" cy="603.1" r="0.95"/><circle cx="470.5" cy="603.9" r="0.95"/><circle cx="451.4" cy="602.6" r="0.95"/><circle cx="466.9" cy="603.3" r="0.95"/><circle cx="457.4" cy="604.2" r="0.95"/><circle cx="462.9" cy="603.8" r="0.95"/><circle cx="449.9" cy="603.4" r="0.95"/><circle cx="457.3" cy="603.6" r="0.95"/><circle cx="456.6" cy="603.8" r="0.95"/><circle cx="457.1" cy="603.0" r="0.95"/><circle cx="454.5" cy="603.5" r="0.95"/><circle cx="460.4" cy="603.7" r="0.95"/><circle cx="468.3" cy="603.9" r="0.95"/><circle cx="458.2" cy="603.5" r="0.95"/><circle cx="456.1" cy="602.7" r="0.95"/><circle cx="468.2" cy="603.6" r="0.95"/><circle cx="456.1" cy="603.4" r="0.95"/><circle cx="467.6" cy="603.8" r="0.95"/><circle cx="452.8" cy="603.3" r="0.95"/><circle cx="463.2" cy="603.8" r="0.95"/><circle cx="460.6" cy="603.7" r="0.95"/><circle cx="458.0" cy="603.9" r="0.95"/><circle cx="457.7" cy="603.6" r="0.95"/><circle cx="458.2" cy="603.5" r="0.95"/><circle cx="452.4" cy="603.7" r="0.95"/><circle cx="454.1" cy="603.6" r="0.95"/><circle cx="449.2" cy="602.6" r="0.95"/><circle cx="470.2" cy="603.9" r="0.95"/><circle cx="454.2" cy="603.7" r="0.95"/><circle cx="460.0" cy="603.5" r="0.95"/><circle cx="451.3" cy="603.3" r="0.95"/><circle cx="455.3" cy="603.6" r="0.95"/><circle cx="470.4" cy="603.4" r="0.95"/><circle cx="461.1" cy="603.6" r="0.95"/><circle cx="462.7" cy="604.1" r="0.95"/><circle cx="457.2" cy="603.9" r="0.95"/><circle cx="453.8" cy="603.1" r="0.95"/><circle cx="454.9" cy="603.6" r="0.95"/><circle cx="455.5" cy="602.9" r="0.95"/><circle cx="449.9" cy="603.2" r="0.95"/><circle cx="462.3" cy="603.3" r="0.95"/><circle cx="466.3" cy="603.4" r="0.95"/><circle cx="462.7" cy="603.3" r="0.95"/><circle cx="469.3" cy="603.5" r="0.95"/><circle cx="466.4" cy="602.3" r="0.95"/><circle cx="458.1" cy="603.6" r="0.95"/><circle cx="467.5" cy="603.8" r="0.95"/><circle cx="452.5" cy="604.1" r="0.95"/><circle cx="453.5" cy="602.5" r="0.95"/><circle cx="461.3" cy="603.6" r="0.95"/><circle cx="470.0" cy="603.2" r="0.95"/><circle cx="469.0" cy="603.4" r="0.95"/><circle cx="456.0" cy="602.8" r="0.95"/><circle cx="464.5" cy="603.2" r="0.95"/><circle cx="455.4" cy="603.4" r="0.95"/><circle cx="456.7" cy="604.2" r="0.95"/><circle cx="467.6" cy="603.5" r="0.95"/><circle cx="463.2" cy="603.2" r="0.95"/><circle cx="466.3" cy="603.4" r="0.95"/><circle cx="470.2" cy="603.8" r="0.95"/><circle cx="456.5" cy="604.1" r="0.95"/><circle cx="454.5" cy="603.3" r="0.95"/><circle cx="463.3" cy="603.3" r="0.95"/><circle cx="468.3" cy="603.8" r="0.95"/><circle cx="466.6" cy="603.6" r="0.95"/><circle cx="460.6" cy="603.5" r="0.95"/><circle cx="458.8" cy="604.1" r="0.95"/><circle cx="453.3" cy="603.0" r="0.95"/><circle cx="456.8" cy="603.2" r="0.95"/><circle cx="456.3" cy="603.4" r="0.95"/><circle cx="450.6" cy="598.3" r="0.95"/><circle cx="459.8" cy="602.8" r="0.95"/><circle cx="456.2" cy="604.1" r="0.95"/><circle cx="466.0" cy="597.4" r="0.95"/><circle cx="457.4" cy="598.7" r="0.95"/><circle cx="458.6" cy="601.8" r="0.95"/><circle cx="461.5" cy="602.2" r="0.95"/><circle cx="459.9" cy="592.3" r="0.95"/><circle cx="469.2" cy="590.1" r="0.95"/><circle cx="451.7" cy="602.1" r="0.95"/><circle cx="463.6" cy="598.8" r="0.95"/><circle cx="457.9" cy="598.8" r="0.95"/><circle cx="454.0" cy="601.6" r="0.95"/><circle cx="450.1" cy="603.3" r="0.95"/><circle cx="454.2" cy="601.2" r="0.95"/><circle cx="454.2" cy="597.6" r="0.95"/><circle cx="456.8" cy="598.6" r="0.95"/><circle cx="470.8" cy="599.9" r="0.95"/><circle cx="467.0" cy="603.2" r="0.95"/><circle cx="465.8" cy="602.6" r="0.95"/><circle cx="449.2" cy="601.6" r="0.95"/><circle cx="451.9" cy="600.9" r="0.95"/><circle cx="457.0" cy="601.2" r="0.95"/><circle cx="452.4" cy="590.7" r="0.95"/><circle cx="455.1" cy="602.9" r="0.95"/><circle cx="457.2" cy="578.7" r="0.95"/><circle cx="453.2" cy="602.5" r="0.95"/><circle cx="458.5" cy="592.2" r="0.95"/><circle cx="469.9" cy="602.0" r="0.95"/><circle cx="468.1" cy="599.1" r="0.95"/><circle cx="461.0" cy="601.4" r="0.95"/><circle cx="449.1" cy="603.4" r="0.95"/><circle cx="466.4" cy="594.8" r="0.95"/><circle cx="451.6" cy="594.0" r="0.95"/><circle cx="450.7" cy="602.3" r="0.95"/><circle cx="463.1" cy="595.1" r="0.95"/><circle cx="461.4" cy="600.1" r="0.95"/><circle cx="454.8" cy="578.6" r="0.95"/><circle cx="449.2" cy="603.7" r="0.95"/><circle cx="470.1" cy="600.8" r="0.95"/><circle cx="458.6" cy="602.5" r="0.95"/><circle cx="464.1" cy="598.4" r="0.95"/><circle cx="456.2" cy="595.3" r="0.95"/><circle cx="456.9" cy="593.4" r="0.95"/><circle cx="460.2" cy="599.3" r="0.95"/><circle cx="468.7" cy="600.8" r="0.95"/><circle cx="460.0" cy="594.4" r="0.95"/><circle cx="450.3" cy="603.5" r="0.95"/><circle cx="453.3" cy="601.9" r="0.95"/><circle cx="452.0" cy="596.0" r="0.95"/><circle cx="464.5" cy="600.4" r="0.95"/><circle cx="459.7" cy="574.9" r="0.95"/><circle cx="459.8" cy="603.0" r="0.95"/><circle cx="455.3" cy="600.7" r="0.95"/><circle cx="456.0" cy="602.7" r="0.95"/><circle cx="462.6" cy="603.9" r="0.95"/><circle cx="462.7" cy="603.5" r="0.95"/><circle cx="461.7" cy="603.6" r="0.95"/><circle cx="455.6" cy="601.0" r="0.95"/><circle cx="459.1" cy="600.8" r="0.95"/><circle cx="459.9" cy="599.4" r="0.95"/><circle cx="459.2" cy="602.2" r="0.95"/><circle cx="452.7" cy="596.9" r="0.95"/><circle cx="455.3" cy="599.7" r="0.95"/><circle cx="465.8" cy="580.4" r="0.95"/><circle cx="452.8" cy="602.8" r="0.95"/><circle cx="470.6" cy="599.4" r="0.95"/><circle cx="455.7" cy="599.7" r="0.95"/><circle cx="459.4" cy="601.4" r="0.95"/><circle cx="461.4" cy="592.5" r="0.95"/><circle cx="453.9" cy="602.6" r="0.95"/><circle cx="465.5" cy="591.5" r="0.95"/><circle cx="449.4" cy="601.7" r="0.95"/><circle cx="460.1" cy="601.9" r="0.95"/><circle cx="462.4" cy="598.2" r="0.95"/><circle cx="452.9" cy="599.4" r="0.95"/><circle cx="465.8" cy="602.0" r="0.95"/><circle cx="449.4" cy="603.2" r="0.95"/><circle cx="458.3" cy="585.5" r="0.95"/><circle cx="459.4" cy="601.2" r="0.95"/><circle cx="453.5" cy="603.2" r="0.95"/><circle cx="469.9" cy="598.0" r="0.95"/><circle cx="467.1" cy="599.3" r="0.95"/><circle cx="454.1" cy="601.6" r="0.95"/><circle cx="469.5" cy="601.3" r="0.95"/><circle cx="450.6" cy="593.3" r="0.95"/><circle cx="449.3" cy="601.5" r="0.95"/><circle cx="470.6" cy="600.8" r="0.95"/><circle cx="449.2" cy="585.4" r="0.95"/><circle cx="465.5" cy="601.4" r="0.95"/><circle cx="450.9" cy="600.9" r="0.95"/><circle cx="459.6" cy="602.6" r="0.95"/><circle cx="451.9" cy="597.4" r="0.95"/><circle cx="457.8" cy="597.9" r="0.95"/><circle cx="456.2" cy="600.8" r="0.95"/><circle cx="449.5" cy="600.8" r="0.95"/><circle cx="452.3" cy="602.0" r="0.95"/><circle cx="455.4" cy="595.0" r="0.95"/><circle cx="462.4" cy="600.2" r="0.95"/><circle cx="465.0" cy="593.7" r="0.95"/><circle cx="468.0" cy="601.3" r="0.95"/><circle cx="451.0" cy="596.4" r="0.95"/><circle cx="470.0" cy="604.0" r="0.95"/><circle cx="463.5" cy="602.2" r="0.95"/><circle cx="468.1" cy="585.0" r="0.95"/><circle cx="465.0" cy="597.6" r="0.95"/><circle cx="453.7" cy="597.0" r="0.95"/><circle cx="469.6" cy="600.2" r="0.95"/><circle cx="450.9" cy="600.1" r="0.95"/><circle cx="467.9" cy="602.7" r="0.95"/><circle cx="460.5" cy="603.2" r="0.95"/><circle cx="449.6" cy="597.8" r="0.95"/><circle cx="452.4" cy="597.4" r="0.95"/><circle cx="461.9" cy="602.0" r="0.95"/><circle cx="468.1" cy="598.2" r="0.95"/><circle cx="459.6" cy="603.4" r="0.95"/><circle cx="453.7" cy="598.5" r="0.95"/><circle cx="470.9" cy="602.6" r="0.95"/><circle cx="464.5" cy="600.0" r="0.95"/><circle cx="468.0" cy="601.5" r="0.95"/><circle cx="457.5" cy="598.9" r="0.95"/><circle cx="460.1" cy="603.4" r="0.95"/><circle cx="455.5" cy="600.4" r="0.95"/><circle cx="454.8" cy="598.3" r="0.95"/><circle cx="463.6" cy="603.3" r="0.95"/><circle cx="469.7" cy="601.6" r="0.95"/><circle cx="457.6" cy="597.5" r="0.95"/><circle cx="466.5" cy="599.5" r="0.95"/><circle cx="454.9" cy="598.6" r="0.95"/><circle cx="465.8" cy="595.2" r="0.95"/><circle cx="456.4" cy="599.1" r="0.95"/><circle cx="450.5" cy="602.6" r="0.95"/><circle cx="458.2" cy="600.7" r="0.95"/><circle cx="461.9" cy="593.5" r="0.95"/><circle cx="456.0" cy="599.0" r="0.95"/><circle cx="452.0" cy="595.6" r="0.95"/><circle cx="463.0" cy="601.0" r="0.95"/><circle cx="469.2" cy="600.5" r="0.95"/><circle cx="456.1" cy="583.2" r="0.95"/><circle cx="455.1" cy="593.8" r="0.95"/><circle cx="452.0" cy="597.6" r="0.95"/><circle cx="470.2" cy="603.6" r="0.95"/><circle cx="469.1" cy="598.7" r="0.95"/><circle cx="464.5" cy="604.1" r="0.95"/><circle cx="463.1" cy="588.0" r="0.95"/><circle cx="452.7" cy="583.2" r="0.95"/><circle cx="470.2" cy="596.7" r="0.95"/><circle cx="470.4" cy="602.0" r="0.95"/><circle cx="464.1" cy="593.4" r="0.95"/><circle cx="464.9" cy="603.0" r="0.95"/><circle cx="468.1" cy="593.7" r="0.95"/><circle cx="468.2" cy="599.5" r="0.95"/><circle cx="467.2" cy="603.8" r="0.95"/><circle cx="453.7" cy="591.3" r="0.95"/><circle cx="466.4" cy="600.6" r="0.95"/><circle cx="459.4" cy="593.4" r="0.95"/><circle cx="467.5" cy="597.2" r="0.95"/><circle cx="463.7" cy="599.7" r="0.95"/><circle cx="449.6" cy="592.6" r="0.95"/><circle cx="467.8" cy="602.3" r="0.95"/><circle cx="450.0" cy="590.9" r="0.95"/><circle cx="454.8" cy="601.5" r="0.95"/><circle cx="469.5" cy="603.5" r="0.95"/><circle cx="459.9" cy="601.2" r="0.95"/><circle cx="468.2" cy="603.8" r="0.95"/><circle cx="458.6" cy="603.7" r="0.95"/><circle cx="452.3" cy="598.4" r="0.95"/><circle cx="466.8" cy="603.3" r="0.95"/><circle cx="449.7" cy="602.7" r="0.95"/><circle cx="463.6" cy="602.1" r="0.95"/><circle cx="459.8" cy="602.1" r="0.95"/><circle cx="459.0" cy="589.2" r="0.95"/><circle cx="455.3" cy="589.9" r="0.95"/><circle cx="468.2" cy="592.1" r="0.95"/><circle cx="456.1" cy="577.0" r="0.95"/><circle cx="456.4" cy="600.5" r="0.95"/><circle cx="452.5" cy="594.6" r="0.95"/><circle cx="456.7" cy="601.9" r="0.95"/><circle cx="457.1" cy="588.3" r="0.95"/><circle cx="468.5" cy="594.0" r="0.95"/><circle cx="465.4" cy="549.3" r="0.95"/><circle cx="457.4" cy="550.5" r="0.95"/><circle cx="463.9" cy="552.6" r="0.95"/><circle cx="460.7" cy="554.1" r="0.95"/><circle cx="451.4" cy="555.5" r="0.95"/><circle cx="459.0" cy="557.4" r="0.95"/><circle cx="457.4" cy="559.1" r="0.95"/><circle cx="467.4" cy="562.1" r="0.95"/><circle cx="460.6" cy="563.6" r="0.95"/><circle cx="456.1" cy="567.3" r="0.95"/><circle cx="467.2" cy="568.7" r="0.95"/><circle cx="466.6" cy="570.7" r="0.95"/><circle cx="467.1" cy="571.9" r="0.95"/><circle cx="460.4" cy="573.6" r="0.95"/><circle cx="466.0" cy="574.9" r="0.95"/><circle cx="454.1" cy="576.0" r="0.95"/><circle cx="468.7" cy="578.8" r="0.95"/><circle cx="453.8" cy="580.8" r="0.95"/><circle cx="456.5" cy="582.5" r="0.95"/><circle cx="455.1" cy="584.2" r="0.95"/><circle cx="456.8" cy="585.7" r="0.95"/></g>
<circle cx="452.6" cy="503.3" r="0.95" fill="#e8501e" fill-opacity="0.5"/>
<circle cx="451.2" cy="510.4" r="0.95" fill="#e8501e" fill-opacity="0.5"/>
<circle cx="468.6" cy="508.5" r="0.95" fill="#e8501e" fill-opacity="0.5"/>
<circle cx="466.3" cy="519.1" r="0.95" fill="#e8501e" fill-opacity="0.5"/>
<circle cx="465.9" cy="530.2" r="0.95" fill="#e8501e" fill-opacity="0.5"/>
<line x1="371.5" y1="603.9" x2="371.5" y2="603.9" stroke="#555" stroke-width="0.9" stroke-opacity="0.8"/>
<circle cx="371.5" cy="603.9" r="1.0" fill="#111"/>
<line x1="416.5" y1="605.9" x2="416.5" y2="601.6" stroke="#555" stroke-width="0.9" stroke-opacity="0.8"/>
<circle cx="416.5" cy="603.7" r="1.0" fill="#111"/>
<line x1="460.5" y1="611.2" x2="460.5" y2="582.6" stroke="#555" stroke-width="0.9" stroke-opacity="0.8"/>
<circle cx="460.5" cy="596.6" r="1.0" fill="#111"/>
<path d="M371.9 496.7V495.5H460.0V496.7" fill="none" stroke="#9a9a9a" stroke-width="0.9"/>
<rect x="415" y="493" width="1" height="1" fill="#bbb"/>
<path d="M416.1 538.7V537.5H460.0V538.7" fill="none" stroke="#9a9a9a" stroke-width="0.9"/>
<rect x="437" y="535" width="3" height="1" fill="#aaa"/>
<path d="M371.9 571.7V570.5H416.1V571.7" fill="none" stroke="#9a9a9a" stroke-width="0.9"/>
<text x="394.6" y="567.9" font-size="7.5" text-anchor="middle" fill="#1a1a1a">ns</text>
<rect x="345.5" y="489.5" width="141.0" height="128.0" fill="none" stroke="#b4b4b4" stroke-width="1"/>
<line x1="343.9" y1="603.9" x2="345.5" y2="603.9" stroke="#555" stroke-width="0.7"/>
<text x="341.3" y="606.4" font-size="7.1" text-anchor="end" fill="#222">0</text>
<line x1="343.9" y1="570.6" x2="345.5" y2="570.6" stroke="#555" stroke-width="0.7"/>
<text x="341.3" y="573.1" font-size="7.1" text-anchor="end" fill="#222">2000</text>
<line x1="343.9" y1="537.3" x2="345.5" y2="537.3" stroke="#555" stroke-width="0.7"/>
<text x="341.3" y="539.8" font-size="7.1" text-anchor="end" fill="#222">4000</text>
<line x1="343.9" y1="504.0" x2="345.5" y2="504.0" stroke="#555" stroke-width="0.7"/>
<text x="341.3" y="506.5" font-size="7.1" text-anchor="end" fill="#222">6000</text>
<line x1="371.9" y1="617.5" x2="371.9" y2="619.0" stroke="#555" stroke-width="0.7"/>
<text x="371.9" y="627.3" font-size="6.9" text-anchor="middle" fill="#222">Tumor_Free_Lung</text>
<line x1="416.1" y1="617.5" x2="416.1" y2="619.0" stroke="#555" stroke-width="0.7"/>
<text x="416.1" y="627.3" font-size="6.9" text-anchor="middle" fill="#222">Stroma</text>
<line x1="460.0" y1="617.5" x2="460.0" y2="619.0" stroke="#555" stroke-width="0.7"/>
<text x="460.0" y="627.3" font-size="6.9" text-anchor="middle" fill="#222">Tumor</text>
<text x="317" y="553.5" font-size="7" text-anchor="middle" fill="#222" transform="rotate(-90 317 553.5)">panCK+ pHH3- pSMAD2L+ density</text>
<g fill="#a0a0a0" fill-opacity="0.5"><circle cx="546.2" cy="606.7" r="0.95"/><circle cx="540.6" cy="606.5" r="0.95"/><circle cx="547.1" cy="606.7" r="0.95"/><circle cx="556.9" cy="606.6" r="0.95"/><circle cx="560.2" cy="606.3" r="0.95"/><circle cx="555.4" cy="606.5" r="0.95"/><circle cx="544.0" cy="606.5" r="0.95"/><circle cx="547.5" cy="606.6" r="0.95"/><circle cx="550.1" cy="606.8" r="0.95"/><circle cx="556.7" cy="606.5" r="0.95"/><circle cx="556.2" cy="606.7" r="0.95"/><circle cx="540.1" cy="606.9" r="0.95"/></g>
<g fill="#4a72c0" fill-opacity="0.5"><circle cx="604.6" cy="606.7" r="0.95"/><circle cx="596.2" cy="606.9" r="0.95"/><circle cx="606.7" cy="606.5" r="0.95"/><circle cx="586.3" cy="606.6" r="0.95"/><circle cx="589.6" cy="606.5" r="0.95"/><circle cx="598.3" cy="606.4" r="0.95"/><circle cx="586.5" cy="606.6" r="0.95"/><circle cx="600.1" cy="606.6" r="0.95"/><circle cx="603.0" cy="606.9" r="0.95"/><circle cx="606.5" cy="606.5" r="0.95"/><circle cx="595.0" cy="606.6" r="0.95"/><circle cx="589.9" cy="606.9" r="0.95"/><circle cx="602.0" cy="607.0" r="0.95"/><circle cx="593.6" cy="606.5" r="0.95"/><circle cx="596.6" cy="606.3" r="0.95"/><circle cx="590.8" cy="606.6" r="0.95"/><circle cx="605.5" cy="606.2" r="0.95"/><circle cx="592.5" cy="606.6" r="0.95"/><circle cx="594.1" cy="606.3" r="0.95"/><circle cx="588.9" cy="606.4" r="0.95"/><circle cx="586.4" cy="606.4" r="0.95"/><circle cx="586.5" cy="606.9" r="0.95"/><circle cx="599.3" cy="606.5" r="0.95"/><circle cx="592.2" cy="606.7" r="0.95"/><circle cx="592.6" cy="606.8" r="0.95"/><circle cx="603.7" cy="606.4" r="0.95"/><circle cx="596.5" cy="606.5" r="0.95"/><circle cx="606.7" cy="606.3" r="0.95"/><circle cx="586.0" cy="606.3" r="0.95"/><circle cx="605.8" cy="606.6" r="0.95"/><circle cx="601.2" cy="606.6" r="0.95"/><circle cx="600.6" cy="606.5" r="0.95"/><circle cx="596.7" cy="606.6" r="0.95"/><circle cx="602.6" cy="606.9" r="0.95"/><circle cx="599.1" cy="606.8" r="0.95"/><circle cx="588.7" cy="606.3" r="0.95"/><circle cx="605.2" cy="606.2" r="0.95"/><circle cx="595.2" cy="606.4" r="0.95"/><circle cx="597.1" cy="606.4" r="0.95"/><circle cx="605.0" cy="606.2" r="0.95"/><circle cx="603.3" cy="606.9" r="0.95"/><circle cx="594.0" cy="606.8" r="0.95"/><circle cx="598.7" cy="606.3" r="0.95"/><circle cx="596.5" cy="606.2" r="0.95"/><circle cx="591.9" cy="606.3" r="0.95"/><circle cx="589.1" cy="606.9" r="0.95"/><circle cx="596.3" cy="606.8" r="0.95"/><circle cx="595.2" cy="606.4" r="0.95"/><circle cx="595.9" cy="606.5" r="0.95"/><circle cx="606.5" cy="606.2" r="0.95"/><circle cx="589.5" cy="606.4" r="0.95"/><circle cx="596.3" cy="606.5" r="0.95"/><circle cx="587.8" cy="606.6" r="0.95"/><circle cx="604.5" cy="606.6" r="0.95"/><circle cx="592.5" cy="606.5" r="0.95"/><circle cx="590.5" cy="606.2" r="0.95"/><circle cx="591.8" cy="606.4" r="0.95"/><circle cx="602.2" cy="606.5" r="0.95"/><circle cx="604.3" cy="606.3" r="0.95"/><circle cx="592.0" cy="606.3" r="0.95"/><circle cx="602.4" cy="606.3" r="0.95"/><circle cx="597.5" cy="606.6" r="0.95"/><circle cx="601.3" cy="606.6" r="0.95"/><circle cx="591.4" cy="606.9" r="0.95"/><circle cx="595.7" cy="606.3" r="0.95"/><circle cx="597.1" cy="606.6" r="0.95"/><circle cx="587.2" cy="606.1" r="0.95"/><circle cx="596.0" cy="606.7" r="0.95"/><circle cx="593.0" cy="606.7" r="0.95"/><circle cx="590.8" cy="606.8" r="0.95"/><circle cx="602.6" cy="606.6" r="0.95"/><circle cx="605.3" cy="606.5" r="0.95"/><circle cx="593.4" cy="606.1" r="0.95"/><circle cx="593.4" cy="606.8" r="0.95"/><circle cx="602.1" cy="606.5" r="0.95"/><circle cx="594.9" cy="606.6" r="0.95"/><circle cx="586.3" cy="606.6" r="0.95"/><circle cx="603.7" cy="606.2" r="0.95"/><circle cx="586.8" cy="606.6" r="0.95"/><circle cx="598.5" cy="606.5" r="0.95"/><circle cx="594.3" cy="606.9" r="0.95"/><circle cx="606.9" cy="607.0" r="0.95"/><circle cx="588.9" cy="606.4" r="0.95"/><circle cx="590.9" cy="606.9" r="0.95"/><circle cx="598.7" cy="606.6" r="0.95"/><circle cx="587.0" cy="606.8" r="0.95"/><circle cx="606.6" cy="606.3" r="0.95"/><circle cx="591.5" cy="606.2" r="0.95"/><circle cx="603.6" cy="606.3" r="0.95"/><circle cx="588.8" cy="606.8" r="0.95"/><circle cx="599.9" cy="606.5" r="0.95"/><circle cx="590.4" cy="606.9" r="0.95"/><circle cx="592.6" cy="606.7" r="0.95"/><circle cx="599.2" cy="606.4" r="0.95"/><circle cx="606.5" cy="606.5" r="0.95"/><circle cx="590.8" cy="606.4" r="0.95"/><circle cx="585.9" cy="606.5" r="0.95"/><circle cx="605.6" cy="606.7" r="0.95"/><circle cx="592.7" cy="606.4" r="0.95"/><circle cx="602.8" cy="606.8" r="0.95"/><circle cx="592.0" cy="606.3" r="0.95"/><circle cx="590.9" cy="606.8" r="0.95"/><circle cx="595.6" cy="606.7" r="0.95"/><circle cx="600.0" cy="606.8" r="0.95"/><circle cx="597.0" cy="606.2" r="0.95"/><circle cx="599.7" cy="606.4" r="0.95"/><circle cx="603.9" cy="606.6" r="0.95"/><circle cx="600.2" cy="606.7" r="0.95"/><circle cx="603.8" cy="606.9" r="0.95"/><circle cx="605.3" cy="606.8" r="0.95"/><circle cx="590.7" cy="606.7" r="0.95"/><circle cx="592.8" cy="606.7" r="0.95"/><circle cx="597.4" cy="606.6" r="0.95"/><circle cx="587.2" cy="606.3" r="0.95"/><circle cx="587.9" cy="606.3" r="0.95"/><circle cx="604.2" cy="606.9" r="0.95"/><circle cx="592.8" cy="606.6" r="0.95"/><circle cx="597.7" cy="606.7" r="0.95"/><circle cx="587.0" cy="607.0" r="0.95"/><circle cx="585.8" cy="606.3" r="0.95"/><circle cx="601.0" cy="606.4" r="0.95"/><circle cx="599.2" cy="606.6" r="0.95"/><circle cx="595.7" cy="606.6" r="0.95"/><circle cx="603.0" cy="606.4" r="0.95"/><circle cx="601.9" cy="606.6" r="0.95"/><circle cx="604.6" cy="606.2" r="0.95"/><circle cx="591.6" cy="606.2" r="0.95"/><circle cx="585.7" cy="606.6" r="0.95"/><circle cx="595.1" cy="606.3" r="0.95"/><circle cx="588.5" cy="606.2" r="0.95"/><circle cx="604.7" cy="606.6" r="0.95"/><circle cx="594.3" cy="606.6" r="0.95"/><circle cx="594.6" cy="606.6" r="0.95"/><circle cx="586.7" cy="606.9" r="0.95"/><circle cx="598.0" cy="606.7" r="0.95"/><circle cx="604.9" cy="606.2" r="0.95"/><circle cx="586.4" cy="606.3" r="0.95"/><circle cx="588.9" cy="606.3" r="0.95"/><circle cx="593.7" cy="606.8" r="0.95"/><circle cx="598.1" cy="606.7" r="0.95"/><circle cx="596.1" cy="606.9" r="0.95"/><circle cx="604.4" cy="606.3" r="0.95"/><circle cx="599.9" cy="606.9" r="0.95"/><circle cx="603.1" cy="606.6" r="0.95"/><circle cx="593.8" cy="606.3" r="0.95"/><circle cx="591.1" cy="606.3" r="0.95"/><circle cx="586.6" cy="606.8" r="0.95"/><circle cx="596.2" cy="606.5" r="0.95"/><circle cx="600.7" cy="606.4" r="0.95"/><circle cx="605.2" cy="606.3" r="0.95"/><circle cx="589.5" cy="606.3" r="0.95"/><circle cx="606.1" cy="606.9" r="0.95"/><circle cx="589.5" cy="606.9" r="0.95"/><circle cx="585.8" cy="606.7" r="0.95"/><circle cx="595.2" cy="606.3" r="0.95"/><circle cx="598.2" cy="606.3" r="0.95"/><circle cx="596.7" cy="606.7" r="0.95"/><circle cx="594.4" cy="606.9" r="0.95"/><circle cx="604.8" cy="606.3" r="0.95"/><circle cx="589.7" cy="606.2" r="0.95"/><circle cx="592.9" cy="606.2" r="0.95"/><circle cx="591.8" cy="606.3" r="0.95"/><circle cx="595.7" cy="606.3" r="0.95"/><circle cx="605.5" cy="606.8" r="0.95"/><circle cx="592.9" cy="606.6" r="0.95"/><circle cx="587.0" cy="606.2" r="0.95"/><circle cx="603.1" cy="606.3" r="0.95"/><circle cx="593.2" cy="606.4" r="0.95"/><circle cx="589.7" cy="606.3" r="0.95"/><circle cx="589.9" cy="606.9" r="0.95"/><circle cx="590.4" cy="606.7" r="0.95"/><circle cx="590.4" cy="606.9" r="0.95"/><circle cx="604.8" cy="606.6" r="0.95"/><circle cx="605.9" cy="606.8" r="0.95"/><circle cx="604.8" cy="606.6" r="0.95"/><circle cx="586.8" cy="606.2" r="0.95"/><circle cx="603.6" cy="606.9" r="0.95"/><circle cx="594.3" cy="606.8" r="0.95"/><circle cx="605.0" cy="606.4" r="0.95"/><circle cx="601.8" cy="606.7" r="0.95"/><circle cx="599.8" cy="606.3" r="0.95"/><circle cx="586.2" cy="606.4" r="0.95"/><circle cx="591.0" cy="606.6" r="0.95"/><circle cx="592.9" cy="606.5" r="0.95"/><circle cx="592.0" cy="606.3" r="0.95"/><circle cx="591.3" cy="606.7" r="0.95"/><circle cx="591.3" cy="606.9" r="0.95"/><circle cx="604.3" cy="606.5" r="0.95"/><circle cx="591.6" cy="606.7" r="0.95"/><circle cx="604.7" cy="606.8" r="0.95"/><circle cx="589.7" cy="606.4" r="0.95"/><circle cx="586.2" cy="606.9" r="0.95"/><circle cx="591.2" cy="606.5" r="0.95"/><circle cx="602.0" cy="606.4" r="0.95"/><circle cx="601.0" cy="606.2" r="0.95"/><circle cx="594.0" cy="606.2" r="0.95"/><circle cx="603.1" cy="606.4" r="0.95"/><circle cx="603.0" cy="606.7" r="0.95"/><circle cx="587.5" cy="606.4" r="0.95"/><circle cx="602.6" cy="606.7" r="0.95"/><circle cx="594.3" cy="606.2" r="0.95"/><circle cx="588.8" cy="606.5" r="0.95"/><circle cx="595.9" cy="606.7" r="0.95"/><circle cx="604.2" cy="606.7" r="0.95"/><circle cx="597.3" cy="606.6" r="0.95"/><circle cx="598.6" cy="606.2" r="0.95"/><circle cx="586.1" cy="606.6" r="0.95"/><circle cx="594.6" cy="606.8" r="0.95"/><circle cx="590.2" cy="606.4" r="0.95"/><circle cx="590.6" cy="606.7" r="0.95"/><circle cx="602.8" cy="606.2" r="0.95"/><circle cx="593.6" cy="606.7" r="0.95"/><circle cx="601.4" cy="606.8" r="0.95"/><circle cx="588.7" cy="606.7" r="0.95"/><circle cx="595.0" cy="606.9" r="0.95"/><circle cx="589.4" cy="606.9" r="0.95"/><circle cx="605.2" cy="606.6" r="0.95"/><circle cx="588.8" cy="606.5" r="0.95"/><circle cx="593.2" cy="606.9" r="0.95"/><circle cx="588.9" cy="606.4" r="0.95"/><circle cx="593.2" cy="606.6" r="0.95"/><circle cx="601.1" cy="606.2" r="0.95"/><circle cx="590.2" cy="606.2" r="0.95"/><circle cx="595.9" cy="606.7" r="0.95"/><circle cx="602.4" cy="606.8" r="0.95"/><circle cx="588.7" cy="607.0" r="0.95"/><circle cx="585.5" cy="606.3" r="0.95"/><circle cx="599.0" cy="606.7" r="0.95"/><circle cx="593.7" cy="606.7" r="0.95"/><circle cx="595.0" cy="606.4" r="0.95"/><circle cx="592.0" cy="606.5" r="0.95"/><circle cx="587.5" cy="606.7" r="0.95"/><circle cx="588.8" cy="606.6" r="0.95"/><circle cx="605.5" cy="606.8" r="0.95"/><circle cx="603.1" cy="606.3" r="0.95"/><circle cx="602.8" cy="606.2" r="0.95"/><circle cx="590.1" cy="606.4" r="0.95"/><circle cx="600.0" cy="607.0" r="0.95"/><circle cx="589.8" cy="606.6" r="0.95"/><circle cx="591.4" cy="606.7" r="0.95"/><circle cx="585.3" cy="606.9" r="0.95"/><circle cx="591.7" cy="606.3" r="0.95"/><circle cx="603.3" cy="606.7" r="0.95"/><circle cx="602.4" cy="606.9" r="0.95"/><circle cx="595.1" cy="606.5" r="0.95"/><circle cx="602.5" cy="606.6" r="0.95"/><circle cx="590.5" cy="606.7" r="0.95"/><circle cx="594.7" cy="606.8" r="0.95"/><circle cx="604.3" cy="606.8" r="0.95"/><circle cx="586.6" cy="606.6" r="0.95"/><circle cx="594.9" cy="606.2" r="0.95"/><circle cx="591.4" cy="606.1" r="0.95"/><circle cx="600.6" cy="606.3" r="0.95"/><circle cx="589.0" cy="606.9" r="0.95"/><circle cx="591.0" cy="606.7" r="0.95"/><circle cx="599.7" cy="606.7" r="0.95"/><circle cx="586.8" cy="606.3" r="0.95"/><circle cx="603.2" cy="606.5" r="0.95"/><circle cx="591.7" cy="606.6" r="0.95"/><circle cx="585.9" cy="606.7" r="0.95"/><circle cx="602.1" cy="607.0" r="0.95"/><circle cx="592.0" cy="606.7" r="0.95"/><circle cx="605.7" cy="606.9" r="0.95"/><circle cx="595.3" cy="606.9" r="0.95"/><circle cx="597.0" cy="606.6" r="0.95"/><circle cx="597.8" cy="606.3" r="0.95"/><circle cx="593.7" cy="606.5" r="0.95"/><circle cx="602.4" cy="606.6" r="0.95"/><circle cx="592.7" cy="606.9" r="0.95"/><circle cx="586.8" cy="606.3" r="0.95"/><circle cx="592.8" cy="607.0" r="0.95"/><circle cx="595.4" cy="606.5" r="0.95"/><circle cx="603.2" cy="606.3" r="0.95"/><circle cx="602.7" cy="606.2" r="0.95"/><circle cx="598.2" cy="606.9" r="0.95"/><circle cx="598.4" cy="606.4" r="0.95"/><circle cx="589.8" cy="606.8" r="0.95"/><circle cx="590.9" cy="606.9" r="0.95"/><circle cx="594.5" cy="606.3" r="0.95"/><circle cx="601.1" cy="606.7" r="0.95"/><circle cx="599.8" cy="606.2" r="0.95"/><circle cx="593.3" cy="606.5" r="0.95"/><circle cx="605.2" cy="606.3" r="0.95"/><circle cx="594.6" cy="606.5" r="0.95"/><circle cx="598.9" cy="606.5" r="0.95"/><circle cx="592.1" cy="606.6" r="0.95"/><circle cx="597.1" cy="606.2" r="0.95"/><circle cx="592.1" cy="606.3" r="0.95"/><circle cx="591.2" cy="606.5" r="0.95"/><circle cx="591.2" cy="606.5" r="0.95"/><circle cx="600.2" cy="606.3" r="0.95"/><circle cx="606.1" cy="606.2" r="0.95"/><circle cx="591.6" cy="606.7" r="0.95"/><circle cx="599.5" cy="606.4" r="0.95"/><circle cx="591.3" cy="606.7" r="0.95"/><circle cx="593.4" cy="606.8" r="0.95"/><circle cx="605.1" cy="606.3" r="0.95"/><circle cx="599.9" cy="606.3" r="0.95"/><circle cx="597.5" cy="606.9" r="0.95"/><circle cx="599.1" cy="606.8" r="0.95"/><circle cx="592.6" cy="603.1" r="0.95"/><circle cx="597.0" cy="603.2" r="0.95"/><circle cx="596.6" cy="603.6" r="0.95"/><circle cx="589.7" cy="604.5" r="0.95"/></g>
<g fill="#e8501e" fill-opacity="0.5"><circle cx="633.0" cy="606.1" r="0.95"/><circle cx="632.5" cy="606.5" r="0.95"/><circle cx="634.0" cy="606.2" r="0.95"/><circle cx="649.4" cy="606.3" r="0.95"/><circle cx="640.8" cy="606.1" r="0.95"/><circle cx="641.9" cy="606.6" r="0.95"/><circle cx="638.4" cy="606.3" r="0.95"/><circle cx="634.5" cy="606.4" r="0.95"/><circle cx="641.0" cy="606.9" r="0.95"/><circle cx="635.4" cy="606.5" r="0.95"/><circle cx="639.1" cy="606.3" r="0.95"/><circle cx="646.3" cy="606.3" r="0.95"/><circle cx="635.4" cy="606.0" r="0.95"/><circle cx="639.9" cy="606.1" r="0.95"/><circle cx="652.2" cy="606.2" r="0.95"/><circle cx="638.5" cy="605.9" r="0.95"/><circle cx="633.7" cy="606.2" r="0.95"/><circle cx="632.1" cy="606.3" r="0.95"/><circle cx="644.7" cy="606.1" r="0.95"/><circle cx="636.3" cy="606.3" r="0.95"/><circle cx="646.9" cy="606.1" r="0.95"/><circle cx="634.8" cy="606.0" r="0.95"/><circle cx="649.7" cy="606.8" r="0.95"/><circle cx="631.9" cy="606.3" r="0.95"/><circle cx="634.1" cy="606.5" r="0.95"/><circle cx="639.9" cy="606.9" r="0.95"/><circle cx="648.9" cy="605.9" r="0.95"/><circle cx="636.5" cy="606.0" r="0.95"/><circle cx="639.4" cy="606.6" r="0.95"/><circle cx="634.7" cy="606.7" r="0.95"/><circle cx="643.5" cy="606.3" r="0.95"/><circle cx="651.8" cy="606.4" r="0.95"/><circle cx="647.5" cy="606.6" r="0.95"/><circle cx="650.1" cy="606.9" r="0.95"/><circle cx="640.2" cy="606.5" r="0.95"/><circle cx="648.9" cy="606.2" r="0.95"/><circle cx="640.5" cy="606.3" r="0.95"/><circle cx="647.7" cy="606.2" r="0.95"/><circle cx="647.5" cy="605.9" r="0.95"/><circle cx="639.2" cy="606.6" r="0.95"/><circle cx="637.3" cy="606.0" r="0.95"/><circle cx="643.1" cy="606.5" r="0.95"/><circle cx="645.1" cy="606.2" r="0.95"/><circle cx="632.1" cy="606.2" r="0.95"/><circle cx="642.5" cy="606.1" r="0.95"/><circle cx="635.0" cy="606.3" r="0.95"/><circle cx="638.8" cy="606.3" r="0.95"/><circle cx="633.4" cy="606.5" r="0.95"/><circle cx="639.8" cy="605.7" r="0.95"/><circle cx="650.5" cy="606.6" r="0.95"/><circle cx="651.7" cy="605.8" r="0.95"/><circle cx="631.0" cy="606.7" r="0.95"/><circle cx="650.3" cy="606.2" r="0.95"/><circle cx="637.0" cy="606.8" r="0.95"/><circle cx="642.7" cy="606.6" r="0.95"/><circle cx="646.1" cy="606.3" r="0.95"/><circle cx="648.5" cy="606.5" r="0.95"/><circle cx="646.7" cy="605.6" r="0.95"/><circle cx="641.1" cy="606.9" r="0.95"/><circle cx="641.2" cy="606.7" r="0.95"/><circle cx="642.2" cy="606.9" r="0.95"/><circle cx="632.2" cy="606.2" r="0.95"/><circle cx="634.2" cy="606.8" r="0.95"/><circle cx="652.0" cy="606.4" r="0.95"/><circle cx="636.8" cy="606.3" r="0.95"/><circle cx="643.8" cy="606.3" r="0.95"/><circle cx="636.1" cy="606.6" r="0.95"/><circle cx="640.4" cy="606.3" r="0.95"/><circle cx="638.5" cy="606.4" r="0.95"/><circle cx="631.2" cy="606.2" r="0.95"/><circle cx="651.8" cy="606.2" r="0.95"/><circle cx="638.2" cy="606.7" r="0.95"/><circle cx="637.3" cy="606.2" r="0.95"/><circle cx="649.6" cy="605.8" r="0.95"/><circle cx="644.8" cy="606.4" r="0.95"/><circle cx="633.3" cy="605.9" r="0.95"/><circle cx="647.4" cy="606.2" r="0.95"/><circle cx="645.1" cy="606.3" r="0.95"/><circle cx="643.1" cy="606.7" r="0.95"/><circle cx="634.8" cy="606.2" r="0.95"/><circle cx="640.1" cy="606.4" r="0.95"/><circle cx="635.4" cy="606.2" r="0.95"/><circle cx="648.7" cy="606.6" r="0.95"/><circle cx="632.9" cy="606.1" r="0.95"/><circle cx="648.3" cy="606.0" r="0.95"/><circle cx="631.0" cy="606.6" r="0.95"/><circle cx="645.8" cy="606.5" r="0.95"/><circle cx="646.2" cy="606.5" r="0.95"/><circle cx="638.4" cy="606.5" r="0.95"/><circle cx="636.4" cy="606.0" r="0.95"/><circle cx="633.0" cy="606.4" r="0.95"/><circle cx="645.6" cy="606.3" r="0.95"/><circle cx="638.7" cy="605.9" r="0.95"/><circle cx="644.5" cy="605.7" r="0.95"/><circle cx="647.2" cy="606.4" r="0.95"/><circle cx="649.5" cy="606.5" r="0.95"/><circle cx="647.2" cy="606.3" r="0.95"/><circle cx="651.2" cy="606.4" r="0.95"/><circle cx="642.6" cy="606.4" r="0.95"/><circle cx="649.1" cy="606.5" r="0.95"/><circle cx="642.7" cy="606.5" r="0.95"/><circle cx="647.8" cy="606.8" r="0.95"/><circle cx="634.8" cy="606.2" r="0.95"/><circle cx="636.7" cy="606.3" r="0.95"/><circle cx="646.7" cy="606.5" r="0.95"/><circle cx="638.0" cy="605.9" r="0.95"/><circle cx="642.2" cy="606.4" r="0.95"/><circle cx="639.3" cy="606.1" r="0.95"/><circle cx="630.8" cy="606.8" r="0.95"/><circle cx="638.2" cy="606.9" r="0.95"/><circle cx="644.3" cy="606.0" r="0.95"/><circle cx="634.4" cy="606.1" r="0.95"/><circle cx="634.8" cy="606.0" r="0.95"/><circle cx="647.3" cy="606.5" r="0.95"/><circle cx="633.9" cy="606.4" r="0.95"/><circle cx="645.5" cy="606.6" r="0.95"/><circle cx="640.1" cy="605.7" r="0.95"/><circle cx="631.3" cy="606.5" r="0.95"/><circle cx="642.1" cy="606.9" r="0.95"/><circle cx="635.9" cy="605.9" r="0.95"/><circle cx="642.2" cy="606.7" r="0.95"/><circle cx="635.7" cy="605.4" r="0.95"/><circle cx="634.6" cy="606.5" r="0.95"/><circle cx="643.1" cy="605.9" r="0.95"/><circle cx="638.4" cy="606.2" r="0.95"/><circle cx="631.0" cy="606.7" r="0.95"/><circle cx="647.4" cy="606.3" r="0.95"/><circle cx="638.1" cy="606.7" r="0.95"/><circle cx="636.3" cy="606.7" r="0.95"/><circle cx="650.7" cy="606.1" r="0.95"/><circle cx="647.7" cy="606.3" r="0.95"/><circle cx="652.0" cy="605.9" r="0.95"/><circle cx="634.3" cy="606.7" r="0.95"/><circle cx="638.1" cy="605.9" r="0.95"/><circle cx="649.4" cy="605.9" r="0.95"/><circle cx="635.5" cy="606.1" r="0.95"/><circle cx="635.7" cy="606.2" r="0.95"/><circle cx="635.3" cy="606.6" r="0.95"/><circle cx="644.9" cy="605.8" r="0.95"/><circle cx="647.8" cy="606.9" r="0.95"/><circle cx="637.1" cy="606.5" r="0.95"/><circle cx="637.3" cy="606.6" r="0.95"/><circle cx="651.5" cy="606.7" r="0.95"/><circle cx="639.5" cy="606.2" r="0.95"/><circle cx="634.6" cy="606.6" r="0.95"/><circle cx="651.0" cy="606.6" r="0.95"/><circle cx="650.7" cy="606.1" r="0.95"/><circle cx="632.3" cy="606.4" r="0.95"/><circle cx="652.5" cy="606.7" r="0.95"/><circle cx="648.9" cy="606.7" r="0.95"/><circle cx="639.6" cy="606.5" r="0.95"/><circle cx="635.8" cy="606.4" r="0.95"/><circle cx="651.6" cy="606.9" r="0.95"/><circle cx="644.0" cy="606.2" r="0.95"/><circle cx="637.6" cy="606.4" r="0.95"/><circle cx="650.3" cy="606.0" r="0.95"/><circle cx="652.0" cy="605.5" r="0.95"/><circle cx="631.5" cy="606.0" r="0.95"/><circle cx="639.4" cy="606.4" r="0.95"/><circle cx="635.8" cy="606.9" r="0.95"/><circle cx="647.4" cy="606.3" r="0.95"/><circle cx="647.7" cy="606.2" r="0.95"/><circle cx="646.2" cy="606.1" r="0.95"/><circle cx="648.1" cy="606.4" r="0.95"/><circle cx="645.6" cy="606.2" r="0.95"/><circle cx="641.5" cy="606.2" r="0.95"/><circle cx="633.7" cy="606.5" r="0.95"/><circle cx="651.9" cy="605.9" r="0.95"/><circle cx="651.7" cy="606.5" r="0.95"/><circle cx="648.2" cy="606.4" r="0.95"/><circle cx="643.3" cy="606.4" r="0.95"/><circle cx="651.8" cy="606.4" r="0.95"/><circle cx="648.3" cy="606.2" r="0.95"/><circle cx="637.6" cy="606.7" r="0.95"/><circle cx="633.6" cy="606.7" r="0.95"/><circle cx="646.9" cy="605.7" r="0.95"/><circle cx="650.0" cy="605.5" r="0.95"/><circle cx="646.3" cy="607.0" r="0.95"/><circle cx="647.3" cy="606.8" r="0.95"/><circle cx="645.8" cy="606.4" r="0.95"/><circle cx="650.4" cy="606.6" r="0.95"/><circle cx="638.6" cy="606.2" r="0.95"/><circle cx="638.8" cy="605.5" r="0.95"/><circle cx="650.4" cy="606.2" r="0.95"/><circle cx="652.0" cy="605.7" r="0.95"/><circle cx="640.6" cy="606.7" r="0.95"/><circle cx="638.6" cy="606.3" r="0.95"/><circle cx="636.3" cy="606.0" r="0.95"/><circle cx="650.0" cy="606.4" r="0.95"/><circle cx="637.7" cy="606.8" r="0.95"/><circle cx="632.8" cy="606.0" r="0.95"/><circle cx="641.3" cy="606.7" r="0.95"/><circle cx="643.4" cy="606.2" r="0.95"/><circle cx="644.3" cy="606.6" r="0.95"/><circle cx="638.7" cy="606.2" r="0.95"/><circle cx="642.3" cy="605.9" r="0.95"/><circle cx="635.9" cy="606.5" r="0.95"/><circle cx="640.4" cy="606.3" r="0.95"/><circle cx="630.5" cy="607.0" r="0.95"/><circle cx="649.0" cy="606.3" r="0.95"/><circle cx="642.8" cy="600.9" r="0.95"/><circle cx="651.8" cy="591.7" r="0.95"/><circle cx="651.3" cy="602.4" r="0.95"/><circle cx="645.0" cy="604.1" r="0.95"/><circle cx="635.6" cy="602.2" r="0.95"/><circle cx="643.0" cy="603.1" r="0.95"/><circle cx="643.5" cy="601.3" r="0.95"/><circle cx="650.8" cy="593.6" r="0.95"/><circle cx="639.5" cy="606.6" r="0.95"/><circle cx="630.6" cy="604.5" r="0.95"/><circle cx="631.1" cy="597.7" r="0.95"/><circle cx="649.6" cy="606.5" r="0.95"/><circle cx="636.2" cy="599.8" r="0.95"/><circle cx="633.8" cy="606.5" r="0.95"/><circle cx="642.1" cy="602.1" r="0.95"/><circle cx="633.2" cy="599.8" r="0.95"/><circle cx="643.5" cy="605.8" r="0.95"/><circle cx="632.5" cy="604.7" r="0.95"/><circle cx="648.5" cy="605.9" r="0.95"/><circle cx="635.7" cy="601.1" r="0.95"/><circle cx="650.1" cy="603.4" r="0.95"/><circle cx="633.0" cy="602.6" r="0.95"/><circle cx="637.1" cy="605.1" r="0.95"/><circle cx="632.8" cy="602.9" r="0.95"/><circle cx="639.3" cy="592.7" r="0.95"/><circle cx="636.1" cy="600.2" r="0.95"/><circle cx="651.3" cy="593.6" r="0.95"/><circle cx="631.4" cy="605.7" r="0.95"/><circle cx="644.3" cy="603.3" r="0.95"/><circle cx="631.4" cy="604.6" r="0.95"/><circle cx="642.3" cy="604.5" r="0.95"/><circle cx="642.3" cy="599.1" r="0.95"/><circle cx="651.3" cy="606.0" r="0.95"/><circle cx="646.6" cy="603.4" r="0.95"/><circle cx="634.4" cy="600.0" r="0.95"/><circle cx="651.5" cy="594.8" r="0.95"/><circle cx="644.6" cy="606.2" r="0.95"/><circle cx="641.4" cy="605.2" r="0.95"/><circle cx="642.3" cy="603.4" r="0.95"/><circle cx="635.4" cy="594.3" r="0.95"/><circle cx="635.9" cy="606.2" r="0.95"/><circle cx="634.2" cy="598.3" r="0.95"/><circle cx="652.1" cy="604.1" r="0.95"/><circle cx="631.2" cy="603.0" r="0.95"/><circle cx="642.7" cy="595.1" r="0.95"/><circle cx="649.6" cy="606.6" r="0.95"/><circle cx="630.8" cy="605.1" r="0.95"/><circle cx="635.3" cy="605.9" r="0.95"/><circle cx="648.6" cy="605.7" r="0.95"/><circle cx="642.4" cy="605.3" r="0.95"/><circle cx="639.5" cy="601.4" r="0.95"/><circle cx="647.4" cy="602.7" r="0.95"/><circle cx="632.9" cy="606.2" r="0.95"/><circle cx="631.0" cy="599.8" r="0.95"/><circle cx="641.1" cy="603.5" r="0.95"/><circle cx="633.6" cy="605.9" r="0.95"/><circle cx="640.2" cy="599.1" r="0.95"/><circle cx="632.5" cy="598.8" r="0.95"/><circle cx="642.4" cy="605.7" r="0.95"/><circle cx="645.1" cy="593.8" r="0.95"/><circle cx="651.2" cy="599.2" r="0.95"/><circle cx="644.5" cy="605.8" r="0.95"/><circle cx="648.9" cy="606.5" r="0.95"/><circle cx="636.1" cy="597.7" r="0.95"/><circle cx="641.5" cy="598.6" r="0.95"/><circle cx="643.9" cy="606.4" r="0.95"/><circle cx="634.4" cy="600.3" r="0.95"/><circle cx="642.3" cy="599.8" r="0.95"/><circle cx="649.3" cy="601.9" r="0.95"/><circle cx="647.7" cy="598.4" r="0.95"/><circle cx="650.1" cy="587.9" r="0.95"/><circle cx="645.8" cy="605.0" r="0.95"/><circle cx="645.3" cy="598.9" r="0.95"/><circle cx="636.5" cy="595.3" r="0.95"/><circle cx="643.5" cy="605.1" r="0.95"/><circle cx="639.5" cy="601.4" r="0.95"/><circle cx="644.3" cy="601.2" r="0.95"/><circle cx="642.4" cy="598.2" r="0.95"/><circle cx="645.5" cy="602.8" r="0.95"/><circle cx="631.7" cy="605.3" r="0.95"/><circle cx="637.5" cy="605.0" r="0.95"/><circle cx="631.5" cy="603.5" r="0.95"/><circle cx="641.6" cy="605.7" r="0.95"/><circle cx="631.9" cy="598.0" r="0.95"/><circle cx="640.1" cy="596.5" r="0.95"/><circle cx="642.4" cy="605.4" r="0.95"/><circle cx="643.3" cy="601.0" r="0.95"/><circle cx="630.6" cy="601.8" r="0.95"/><circle cx="630.5" cy="606.0" r="0.95"/><circle cx="639.1" cy="600.2" r="0.95"/><circle cx="642.1" cy="599.9" r="0.95"/><circle cx="633.7" cy="605.2" r="0.95"/><circle cx="635.6" cy="606.2" r="0.95"/><circle cx="638.2" cy="605.0" r="0.95"/><circle cx="638.6" cy="600.2" r="0.95"/><circle cx="638.4" cy="603.7" r="0.95"/><circle cx="638.4" cy="599.4" r="0.95"/><circle cx="652.0" cy="606.0" r="0.95"/><circle cx="647.2" cy="606.0" r="0.95"/><circle cx="646.5" cy="604.8" r="0.95"/><circle cx="652.2" cy="597.0" r="0.95"/><circle cx="630.5" cy="605.8" r="0.95"/><circle cx="646.1" cy="606.1" r="0.95"/><circle cx="651.9" cy="600.2" r="0.95"/><circle cx="644.6" cy="606.5" r="0.95"/><circle cx="652.2" cy="601.6" r="0.95"/><circle cx="646.6" cy="605.9" r="0.95"/><circle cx="641.5" cy="605.1" r="0.95"/><circle cx="647.6" cy="601.8" r="0.95"/><circle cx="631.8" cy="597.8" r="0.95"/><circle cx="641.4" cy="604.6" r="0.95"/><circle cx="650.7" cy="604.0" r="0.95"/><circle cx="640.2" cy="606.6" r="0.95"/><circle cx="641.5" cy="604.5" r="0.95"/><circle cx="630.5" cy="605.6" r="0.95"/><circle cx="650.7" cy="599.9" r="0.95"/><circle cx="642.2" cy="601.3" r="0.95"/><circle cx="637.8" cy="599.6" r="0.95"/><circle cx="647.8" cy="603.6" r="0.95"/><circle cx="642.8" cy="601.3" r="0.95"/><circle cx="644.0" cy="605.9" r="0.95"/><circle cx="639.9" cy="604.1" r="0.95"/><circle cx="643.4" cy="605.3" r="0.95"/><circle cx="638.3" cy="605.3" r="0.95"/><circle cx="646.6" cy="600.8" r="0.95"/><circle cx="634.3" cy="605.5" r="0.95"/><circle cx="643.8" cy="605.2" r="0.95"/><circle cx="631.0" cy="604.8" r="0.95"/><circle cx="634.7" cy="598.0" r="0.95"/><circle cx="634.0" cy="602.1" r="0.95"/><circle cx="637.2" cy="603.9" r="0.95"/><circle cx="639.9" cy="604.3" r="0.95"/><circle cx="642.2" cy="595.7" r="0.95"/><circle cx="649.5" cy="594.2" r="0.95"/><circle cx="646.3" cy="604.3" r="0.95"/><circle cx="646.1" cy="603.0" r="0.95"/><circle cx="647.4" cy="597.5" r="0.95"/><circle cx="643.1" cy="605.1" r="0.95"/><circle cx="641.5" cy="604.9" r="0.95"/><circle cx="636.8" cy="606.1" r="0.95"/><circle cx="648.4" cy="603.9" r="0.95"/><circle cx="652.0" cy="600.2" r="0.95"/><circle cx="648.3" cy="605.8" r="0.95"/><circle cx="633.2" cy="603.9" r="0.95"/><circle cx="645.4" cy="586.0" r="0.95"/><circle cx="633.0" cy="603.5" r="0.95"/><circle cx="645.6" cy="604.8" r="0.95"/><circle cx="640.3" cy="598.5" r="0.95"/><circle cx="650.2" cy="597.0" r="0.95"/><circle cx="645.3" cy="604.6" r="0.95"/><circle cx="648.5" cy="605.9" r="0.95"/><circle cx="631.7" cy="602.4" r="0.95"/><circle cx="645.4" cy="600.3" r="0.95"/><circle cx="651.2" cy="595.2" r="0.95"/><circle cx="640.6" cy="601.5" r="0.95"/><circle cx="633.8" cy="605.2" r="0.95"/><circle cx="646.1" cy="603.5" r="0.95"/><circle cx="642.2" cy="605.0" r="0.95"/><circle cx="647.8" cy="604.4" r="0.95"/><circle cx="632.4" cy="603.6" r="0.95"/><circle cx="647.5" cy="596.0" r="0.95"/><circle cx="647.7" cy="595.9" r="0.95"/><circle cx="639.5" cy="595.1" r="0.95"/><circle cx="631.0" cy="603.8" r="0.95"/><circle cx="634.1" cy="591.9" r="0.95"/><circle cx="647.4" cy="605.6" r="0.95"/><circle cx="651.1" cy="595.6" r="0.95"/><circle cx="638.5" cy="601.8" r="0.95"/><circle cx="645.6" cy="597.4" r="0.95"/><circle cx="652.4" cy="604.2" r="0.95"/><circle cx="644.0" cy="585.7" r="0.95"/><circle cx="633.8" cy="606.4" r="0.95"/><circle cx="635.3" cy="598.3" r="0.95"/><circle cx="636.0" cy="599.2" r="0.95"/><circle cx="649.4" cy="604.7" r="0.95"/><circle cx="636.8" cy="598.5" r="0.95"/><circle cx="647.0" cy="605.5" r="0.95"/><circle cx="652.0" cy="600.1" r="0.95"/><circle cx="644.0" cy="604.1" r="0.95"/><circle cx="637.3" cy="604.2" r="0.95"/><circle cx="636.2" cy="576.4" r="0.95"/><circle cx="651.7" cy="578.9" r="0.95"/><circle cx="648.7" cy="579.7" r="0.95"/><circle cx="650.3" cy="582.3" r="0.95"/><circle cx="648.8" cy="584.4" r="0.95"/><circle cx="635.6" cy="586.7" r="0.95"/></g>
<circle cx="638" cy="533.7" r="0.95" fill="#e8501e" fill-opacity="0.5"/>
<circle cx="632.6" cy="553.6" r="0.95" fill="#e8501e" fill-opacity="0.5"/>
<line x1="550.5" y1="606.6" x2="550.5" y2="606.6" stroke="#555" stroke-width="0.9" stroke-opacity="0.8"/>
<circle cx="550.5" cy="606.6" r="1.0" fill="#111"/>
<line x1="596.5" y1="606.9" x2="596.5" y2="606.2" stroke="#555" stroke-width="0.9" stroke-opacity="0.8"/>
<circle cx="596.5" cy="606.5" r="1.0" fill="#111"/>
<line x1="641.5" y1="609.9" x2="641.5" y2="595.6" stroke="#555" stroke-width="0.9" stroke-opacity="0.8"/>
<circle cx="641.5" cy="602.7" r="1.0" fill="#111"/>
<path d="M550.3 497.7V496.5H641.5V497.7" fill="none" stroke="#9a9a9a" stroke-width="0.9"/>
<rect x="595" y="494" width="1" height="1" fill="#bbb"/>
<path d="M596.1 524.7V523.5H641.5V524.7" fill="none" stroke="#9a9a9a" stroke-width="0.9"/>
<rect x="617" y="521" width="3" height="1" fill="#555"/>
<path d="M550.3 552.7V551.5H596.1V552.7" fill="none" stroke="#9a9a9a" stroke-width="0.9"/>
<text x="573.8" y="548.9" font-size="7.5" text-anchor="middle" fill="#1a1a1a">ns</text>
<rect x="523.5" y="489.5" width="145.0" height="126.0" fill="none" stroke="#b4b4b4" stroke-width="1"/>
<line x1="521.9" y1="606.6" x2="523.5" y2="606.6" stroke="#555" stroke-width="0.7"/>
<text x="519.3" y="609.1" font-size="7.1" text-anchor="end" fill="#222">0</text>
<line x1="521.9" y1="579.0" x2="523.5" y2="579.0" stroke="#555" stroke-width="0.7"/>
<text x="519.3" y="581.5" font-size="7.1" text-anchor="end" fill="#222">25</text>
<line x1="521.9" y1="551.4" x2="523.5" y2="551.4" stroke="#555" stroke-width="0.7"/>
<text x="519.3" y="553.9" font-size="7.1" text-anchor="end" fill="#222">50</text>
<line x1="521.9" y1="523.8" x2="523.5" y2="523.8" stroke="#555" stroke-width="0.7"/>
<text x="519.3" y="526.3" font-size="7.1" text-anchor="end" fill="#222">75</text>
<line x1="521.9" y1="496.2" x2="523.5" y2="496.2" stroke="#555" stroke-width="0.7"/>
<text x="519.3" y="498.7" font-size="7.1" text-anchor="end" fill="#222">100</text>
<line x1="550.3" y1="615.5" x2="550.3" y2="617.0" stroke="#555" stroke-width="0.7"/>
<text x="550.3" y="625.3" font-size="6.9" text-anchor="middle" fill="#222">Tumor_Free_Lung</text>
<line x1="596.1" y1="615.5" x2="596.1" y2="617.0" stroke="#555" stroke-width="0.7"/>
<text x="596.1" y="625.3" font-size="6.9" text-anchor="middle" fill="#222">Stroma</text>
<line x1="641.5" y1="615.5" x2="641.5" y2="617.0" stroke="#555" stroke-width="0.7"/>
<text x="641.5" y="625.3" font-size="6.9" text-anchor="middle" fill="#222">Tumor</text>
<text x="502" y="552.8" font-size="7" text-anchor="middle" fill="#222" transform="rotate(-90 502 552.8)">panCK+ pHH3+ pSMAD2L+ density</text>
<rect x="49.5" y="176.5" width="250.0" height="175.0" fill="#fff"/>
<line x1="50.5" y1="176.5" x2="50.5" y2="351.5" stroke="#ededed" stroke-width="0.7"/>
<line x1="83.5" y1="176.5" x2="83.5" y2="351.5" stroke="#ededed" stroke-width="0.5"/>
<line x1="116.5" y1="176.5" x2="116.5" y2="351.5" stroke="#ededed" stroke-width="0.7"/>
<line x1="149.6" y1="176.5" x2="149.6" y2="351.5" stroke="#ededed" stroke-width="0.5"/>
<line x1="182.6" y1="176.5" x2="182.6" y2="351.5" stroke="#ededed" stroke-width="0.7"/>
<line x1="215.6" y1="176.5" x2="215.6" y2="351.5" stroke="#ededed" stroke-width="0.5"/>
<line x1="248.6" y1="176.5" x2="248.6" y2="351.5" stroke="#ededed" stroke-width="0.7"/>
<line x1="281.6" y1="176.5" x2="281.6" y2="351.5" stroke="#ededed" stroke-width="0.5"/>
<line x1="49.5" y1="343.4" x2="299.5" y2="343.4" stroke="#ededed" stroke-width="0.7"/>
<line x1="49.5" y1="323.5" x2="299.5" y2="323.5" stroke="#ededed" stroke-width="0.5"/>
<line x1="49.5" y1="303.7" x2="299.5" y2="303.7" stroke="#ededed" stroke-width="0.7"/>
<line x1="49.5" y1="283.8" x2="299.5" y2="283.8" stroke="#ededed" stroke-width="0.5"/>
<line x1="49.5" y1="264.0" x2="299.5" y2="264.0" stroke="#ededed" stroke-width="0.7"/>
<line x1="49.5" y1="244.1" x2="299.5" y2="244.1" stroke="#ededed" stroke-width="0.5"/>
<line x1="49.5" y1="224.3" x2="299.5" y2="224.3" stroke="#ededed" stroke-width="0.7"/>
<line x1="49.5" y1="204.4" x2="299.5" y2="204.4" stroke="#ededed" stroke-width="0.5"/>
<line x1="49.5" y1="184.6" x2="299.5" y2="184.6" stroke="#ededed" stroke-width="0.7"/>
<path d="M50.4 184.6 L52.4 184.6 L52.4 185.6 L54.4 185.6 L54.4 186.7 L55.4 186.7 L55.4 188.8 L56.5 188.8 L56.5 191.0 L57.5 191.0 L57.5 193.1 L60.7 193.1 L60.7 195.5 L63.1 195.5 L63.1 195.9 L65.5 195.9 L65.5 196.3 L66.7 196.3 L66.7 199.1 L67.9 199.1 L67.9 201.8 L69.5 201.8 L69.5 203.9 L71.0 203.9 L71.0 206.1 L72.6 206.1 L72.6 208.2 L73.7 208.2 L73.7 210.3 L74.7 210.3 L74.7 212.5 L75.8 212.5 L75.8 214.6 L76.4 214.6 L76.4 216.6 L77.0 216.6 L77.0 218.6 L77.6 218.6 L77.6 220.5 L78.2 220.5 L78.2 222.5 L79.3 222.5 L79.3 224.9 L80.3 224.9 L80.3 227.3 L81.4 227.3 L81.4 229.7 L83.4 229.7 L83.4 230.8 L85.4 230.8 L85.4 232.0 L85.9 232.0 L85.9 234.1 L86.5 234.1 L86.5 236.3 L87.0 236.3 L87.0 238.4 L95.7 238.4 L98.1 238.4 L98.1 241.6 L100.8 241.6 L100.8 242.0 L103.6 242.0 L103.6 242.4 L106.0 242.4 L106.0 243.6 L108.4 243.6 L108.4 244.8 L110.8 244.8 L110.8 245.6 L113.2 245.6 L113.2 246.4 L116.4 246.4 L116.4 249.2 L118.8 249.2 L118.8 249.2 L121.1 249.2 L121.1 249.3 L123.5 249.3 L123.5 249.3 L125.8 249.3 L125.8 249.4 L128.8 249.4 L128.8 251.6 L131.2 251.6 L131.2 252.2 L133.6 252.2 L133.6 252.8 L136.0 252.8 L136.0 253.4 L137.5 253.4 L137.5 255.8 L139.0 255.8 L139.0 258.2 L141.2 258.2 L141.2 258.9 L143.4 258.9 L143.4 259.6 L144.4 259.6 L144.4 261.5 L145.5 261.5 L145.5 263.3 L147.5 263.3 L147.5 263.6 L149.6 263.6 L149.6 264.0 L151.6 264.0 L151.6 264.4 L153.6 264.4 L153.6 264.7 L155.8 264.7 L155.8 265.8 L158.0 265.8 L158.0 266.9 L160.6 266.9 L160.6 268.2 L163.1 268.2 L163.1 269.6 L176.9 269.6 L176.9 273.5 L195.2 273.5 L195.2 277.2 L210.5 277.2 L210.5 281.9 L232.9 281.9 L232.9 286.8 L281.0 286.8" fill="none" stroke="#f2b82e" stroke-width="1.05" stroke-dasharray="1.8 1.1"/>
<path d="M121.0 247.8v2.8M124.0 248.0v2.8M151.0 262.1v2.8M166.0 268.2v2.8M169.0 268.2v2.8M203.0 275.8v2.8M247.0 285.4v2.8M251.0 285.4v2.8M254.0 285.4v2.8M258.0 285.4v2.8M262.0 285.4v2.8M267.0 285.4v2.8M273.0 285.4v2.8M279.0 285.4v2.8" stroke="#f2b82e" stroke-width="0.8" fill="none"/>
<path d="M50.4 184.6 L51.8 184.6 L51.8 185.0 L53.2 185.0 L53.2 185.4 L54.6 185.4 L54.6 185.9 L56.0 185.9 L56.0 186.3 L57.6 186.3 L57.6 187.0 L59.1 187.0 L59.1 187.7 L60.7 187.7 L60.7 188.4 L62.3 188.4 L62.3 189.1 L63.9 189.1 L63.9 189.6 L65.4 189.6 L65.4 190.2 L67.0 190.2 L67.0 190.7 L68.2 190.7 L68.2 192.7 L69.5 192.7 L69.5 194.7 L71.5 194.7 L71.5 196.3 L73.4 196.3 L73.4 197.9 L75.4 197.9 L75.4 199.4 L77.4 199.4 L77.4 201.0 L78.6 201.0 L78.6 202.2 L79.8 202.2 L79.8 203.4 L81.0 203.4 L81.0 205.0 L82.2 205.0 L82.2 206.6 L83.8 206.6 L83.8 206.9 L85.4 206.9 L85.4 207.1 L87.0 207.1 L87.0 207.4 L89.0 207.4 L89.0 209.4 L91.0 209.4 L91.0 211.4 L92.0 211.4 L92.0 213.0 L93.1 213.0 L93.1 214.6 L94.1 214.6 L94.1 216.2 L95.7 216.2 L95.7 217.2 L97.3 217.2 L97.3 218.3 L98.9 218.3 L98.9 219.3 L100.5 219.3 L100.5 220.6 L102.0 220.6 L102.0 222.0 L103.6 222.0 L103.6 223.3 L105.2 223.3 L105.2 224.1 L106.8 224.1 L106.8 224.9 L108.4 224.9 L108.4 225.7 L110.0 225.7 L110.0 226.2 L111.6 226.2 L111.6 226.8 L113.2 226.8 L113.2 227.3 L114.8 227.3 L114.8 228.1 L116.3 228.1 L116.3 228.9 L117.9 228.9 L117.9 229.7 L119.5 229.7 L119.5 230.5 L121.2 230.5 L121.2 231.3 L123.0 231.3 L123.0 232.2 L148.5 232.2 L148.8 232.2 L148.8 233.5 L149.2 233.5 L149.2 234.8 L151.0 234.8 L151.0 234.9 L152.8 234.9 L152.8 235.1 L153.6 235.1 L153.6 236.4 L154.3 236.4 L154.3 237.7 L155.4 237.7 L155.4 239.6 L156.5 239.6 L156.5 241.4 L227.6 241.4 L227.6 252.5 L260.0 252.5 L260.0 275.4 L268.8 275.4 L268.8 309.2 L270.7 309.2" fill="none" stroke="#3f7cc0" stroke-width="1.3"/>
<path d="M125.0 230.8v2.8M128.0 230.8v2.8M131.0 230.8v2.8M136.0 230.8v2.8M139.0 230.8v2.8M141.0 230.8v2.8M145.0 230.8v2.8M159.0 240.0v2.8M162.0 240.0v2.8M165.0 240.0v2.8M168.0 240.0v2.8M173.0 240.0v2.8M178.0 240.0v2.8M183.0 240.0v2.8M189.0 240.0v2.8M225.0 240.0v2.8M231.0 251.1v2.8M237.0 251.1v2.8M241.0 251.1v2.8M243.0 251.1v2.8M262.0 274.0v2.8M270.5 308.0v2.8" stroke="#3f7cc0" stroke-width="0.8" fill="none"/>
<path d="M49.5 351.5V176.5H299.5V351.5" fill="none" stroke="#ababab" stroke-width="1"/>
<line x1="49.5" y1="351.5" x2="299.5" y2="351.5" stroke="#adadad" stroke-width="1"/>
<line x1="49.5" y1="176.5" x2="49.5" y2="351.5" stroke="#cdcdcd" stroke-width="1"/>
<line x1="50.5" y1="352.0" x2="50.5" y2="353.5" stroke="#555" stroke-width="0.8"/>
<text x="50.5" y="363.2" font-size="8.2" text-anchor="middle" fill="#222">0</text>
<line x1="116.5" y1="352.0" x2="116.5" y2="353.5" stroke="#555" stroke-width="0.8"/>
<text x="116.5" y="363.2" font-size="8.2" text-anchor="middle" fill="#222">50</text>
<line x1="182.6" y1="352.0" x2="182.6" y2="353.5" stroke="#555" stroke-width="0.8"/>
<text x="182.6" y="363.2" font-size="8.2" text-anchor="middle" fill="#222">100</text>
<line x1="248.6" y1="352.0" x2="248.6" y2="353.5" stroke="#555" stroke-width="0.8"/>
<text x="248.6" y="363.2" font-size="8.2" text-anchor="middle" fill="#222">150</text>
<line x1="48.8" y1="184.6" x2="50.1" y2="184.6" stroke="#555" stroke-width="0.9"/>
<text x="44.9" y="188.2" font-size="8.4" text-anchor="end" fill="#222">1.00</text>
<line x1="48.8" y1="224.3" x2="50.1" y2="224.3" stroke="#555" stroke-width="0.9"/>
<text x="44.9" y="227.6" font-size="8.4" text-anchor="end" fill="#222">0.75</text>
<line x1="48.8" y1="264.0" x2="50.1" y2="264.0" stroke="#555" stroke-width="0.9"/>
<text x="44.9" y="267.0" font-size="8.4" text-anchor="end" fill="#222">0.50</text>
<line x1="48.8" y1="303.7" x2="50.1" y2="303.7" stroke="#555" stroke-width="0.9"/>
<text x="44.9" y="307.1" font-size="8.4" text-anchor="end" fill="#222">0.25</text>
<line x1="48.8" y1="343.4" x2="50.1" y2="343.4" stroke="#555" stroke-width="0.9"/>
<text x="44.9" y="346.9" font-size="8.4" text-anchor="end" fill="#222">0.00</text>
<text x="175" y="376.1" font-size="8.2" text-anchor="middle" fill="#222">Time</text>
<text x="7.4" y="263.7" font-size="8.4" text-anchor="middle" fill="#222" transform="rotate(-90 7.4 263.7)">within Tumor Area</text>
<text x="21.2" y="263.7" font-size="8.4" text-anchor="middle" fill="#222" transform="rotate(-90 21.2 263.7)">Survival probability</text>
<text x="69.3" y="322.6" font-size="8.4" fill="#222"><tspan font-style="italic">p</tspan> = 0.0056</text>
<text x="174.7" y="192.4" font-size="8.4" fill="#3e67a3">high panCK+ pHH3- pSMAD2L+</text>
<text x="174.7" y="206.3" font-size="8.4" fill="#f3b935">low panCK+ pHH3- pSMAD2L+</text>
<rect x="50.5" y="406.5" width="250.0" height="183.0" fill="#fff"/>
<line x1="50.6" y1="406.5" x2="50.6" y2="589.5" stroke="#ededed" stroke-width="0.7"/>
<line x1="83.8" y1="406.5" x2="83.8" y2="589.5" stroke="#ededed" stroke-width="0.5"/>
<line x1="116.9" y1="406.5" x2="116.9" y2="589.5" stroke="#ededed" stroke-width="0.7"/>
<line x1="150.1" y1="406.5" x2="150.1" y2="589.5" stroke="#ededed" stroke-width="0.5"/>
<line x1="183.2" y1="406.5" x2="183.2" y2="589.5" stroke="#ededed" stroke-width="0.7"/>
<line x1="216.3" y1="406.5" x2="216.3" y2="589.5" stroke="#ededed" stroke-width="0.5"/>
<line x1="249.5" y1="406.5" x2="249.5" y2="589.5" stroke="#ededed" stroke-width="0.7"/>
<line x1="282.7" y1="406.5" x2="282.7" y2="589.5" stroke="#ededed" stroke-width="0.5"/>
<line x1="50.5" y1="581.4" x2="300.5" y2="581.4" stroke="#ededed" stroke-width="0.7"/>
<line x1="50.5" y1="560.5" x2="300.5" y2="560.5" stroke="#ededed" stroke-width="0.5"/>
<line x1="50.5" y1="539.6" x2="300.5" y2="539.6" stroke="#ededed" stroke-width="0.7"/>
<line x1="50.5" y1="518.7" x2="300.5" y2="518.7" stroke="#ededed" stroke-width="0.5"/>
<line x1="50.5" y1="497.8" x2="300.5" y2="497.8" stroke="#ededed" stroke-width="0.7"/>
<line x1="50.5" y1="477.0" x2="300.5" y2="477.0" stroke="#ededed" stroke-width="0.5"/>
<line x1="50.5" y1="456.1" x2="300.5" y2="456.1" stroke="#ededed" stroke-width="0.7"/>
<line x1="50.5" y1="435.2" x2="300.5" y2="435.2" stroke="#ededed" stroke-width="0.5"/>
<line x1="50.5" y1="414.3" x2="300.5" y2="414.3" stroke="#ededed" stroke-width="0.7"/>
<path d="M50.6 414.4 L52.9 414.4 L52.9 415.7 L55.2 415.7 L55.2 417.0 L57.5 417.0 L57.5 418.3 L59.6 418.3 L59.6 419.4 L61.8 419.4 L61.8 420.4 L63.9 420.4 L63.9 421.5 L66.3 421.5 L66.3 423.5 L68.7 423.5 L68.7 425.5 L71.5 425.5 L71.5 427.9 L74.2 427.9 L74.2 430.3 L75.5 430.3 L75.5 432.7 L76.9 432.7 L76.9 435.0 L78.2 435.0 L78.2 437.4 L80.3 437.4 L80.3 439.0 L82.5 439.0 L82.5 440.6 L84.6 440.6 L84.6 442.2 L86.9 442.2 L86.9 444.2 L89.3 444.2 L89.3 446.2 L91.7 446.2 L91.7 448.5 L94.1 448.5 L94.1 450.9 L96.5 450.9 L96.5 452.5 L98.9 452.5 L98.9 454.1 L101.0 454.1 L101.0 455.7 L103.1 455.7 L103.1 457.3 L105.2 457.3 L105.2 458.9 L107.3 458.9 L107.3 459.8 L109.5 459.8 L109.5 460.8 L111.6 460.8 L111.6 461.7 L113.7 461.7 L113.7 462.3 L115.9 462.3 L115.9 463.0 L118.0 463.0 L118.0 463.6 L120.1 463.6 L120.1 464.5 L122.3 464.5 L122.3 465.4 L124.4 465.4 L124.4 466.3 L126.7 466.3 L126.7 466.4 L129.0 466.4 L129.0 466.6 L131.4 466.6 L131.4 466.7 L133.7 466.7 L133.7 466.9 L136.0 466.9 L136.0 467.0 L138.2 467.0 L138.2 468.9 L140.4 468.9 L140.4 470.7 L142.4 470.7 L142.4 471.4 L144.3 471.4 L144.3 472.1 L146.3 472.1 L146.3 472.8 L148.5 472.8 L148.5 474.3 L150.7 474.3 L150.7 475.8 L152.8 475.8 L152.8 477.0 L155.0 477.0 L155.0 478.2 L157.2 478.2 L157.2 478.9 L159.4 478.9 L159.4 479.7 L161.2 479.7 L161.2 481.0 L163.1 481.0 L163.1 482.3 L196.6 482.3 L196.6 487.0 L211.2 487.0 L211.2 492.4 L233.2 492.4 L233.2 498.2 L269.6 498.2 L269.6 526.2 L282.2 526.2" fill="none" stroke="#f2b82e" stroke-width="1.05" stroke-dasharray="1.8 1.1"/>
<path d="M130.0 465.6v2.8M133.0 465.6v2.8M165.0 480.9v2.8M168.0 480.9v2.8M172.0 480.9v2.8M179.0 480.9v2.8M182.0 480.9v2.8M190.0 480.9v2.8M205.0 485.6v2.8M245.0 496.8v2.8M247.0 496.8v2.8M255.0 496.8v2.8M258.0 496.8v2.8M266.0 496.8v2.8M280.0 524.8v2.8M110.0 459.6v2.8" stroke="#f2b82e" stroke-width="0.8" fill="none"/>
<path d="M50.6 414.4 L57.5 414.4 L57.5 417.2 L62.3 417.2 L62.9 417.2 L62.9 418.7 L63.5 418.7 L63.5 420.1 L64.1 420.1 L64.1 421.6 L64.7 421.6 L64.7 423.1 L67.1 423.1 L67.1 425.5 L67.6 425.5 L67.6 427.1 L68.2 427.1 L68.2 428.7 L68.7 428.7 L68.7 430.3 L68.8 430.3 L68.8 432.0 L68.9 432.0 L68.9 433.7 L69.0 433.7 L69.0 435.4 L69.2 435.4 L69.2 437.1 L69.3 437.1 L69.3 438.8 L69.4 438.8 L69.4 440.5 L69.5 440.5 L69.5 442.2 L71.8 442.2 L71.8 443.0 L72.2 443.0 L72.2 444.4 L72.6 444.4 L72.6 445.7 L79.0 445.7 L79.4 445.7 L79.4 447.5 L79.8 447.5 L79.8 449.3 L80.1 449.3 L80.1 450.8 L80.3 450.8 L80.3 452.2 L80.6 452.2 L80.6 453.7 L80.9 453.7 L80.9 455.2 L81.1 455.2 L81.1 456.6 L81.4 456.6 L81.4 458.1 L82.2 458.1 L82.2 459.9 L83.0 459.9 L83.0 461.8 L83.8 461.8 L83.8 463.6 L85.4 463.6 L85.4 464.0 L87.0 464.0 L87.0 464.4 L87.6 464.4 L87.6 466.1 L88.2 466.1 L88.2 467.8 L88.7 467.8 L88.7 469.4 L89.3 469.4 L89.3 471.1 L95.7 471.1 L96.1 471.1 L96.1 472.7 L96.5 472.7 L96.5 474.3 L96.9 474.3 L96.9 475.9 L97.3 475.9 L97.3 477.5 L110.0 477.5 L110.8 477.5 L110.8 479.3 L111.6 479.3 L111.6 481.1 L114.0 481.1 L114.6 481.1 L114.6 482.8 L115.2 482.8 L115.2 484.5 L115.8 484.5 L115.8 486.2 L116.4 486.2 L116.4 487.9 L131.4 487.9 L131.4 492.8 L154.7 492.8 L154.7 501.0 L178.7 501.0 L178.7 509.2 L228.3 509.2 L228.3 521.1 L260.8 521.1 L260.8 541.1 L274.4 541.1" fill="none" stroke="#3f7cc0" stroke-width="1.3"/>
<path d="M142.0 491.4v2.8M145.0 491.4v2.8M147.0 491.4v2.8M149.0 491.4v2.8M180.0 507.8v2.8M224.0 507.8v2.8M231.0 519.7v2.8M252.0 519.7v2.8M272.0 539.7v2.8M124.0 486.5v2.8M126.0 486.5v2.8M128.0 486.5v2.8" stroke="#3f7cc0" stroke-width="0.8" fill="none"/>
<path d="M50.5 589.5V406.5H300.5V589.5" fill="none" stroke="#ababab" stroke-width="1"/>
<line x1="50.5" y1="589.5" x2="300.5" y2="589.5" stroke="#adadad" stroke-width="1"/>
<line x1="50.5" y1="406.5" x2="50.5" y2="589.5" stroke="#cdcdcd" stroke-width="1"/>
<line x1="50.6" y1="590.0" x2="50.6" y2="591.5" stroke="#555" stroke-width="0.8"/>
<text x="50.6" y="602.0" font-size="8.2" text-anchor="middle" fill="#222">0</text>
<line x1="116.9" y1="590.0" x2="116.9" y2="591.5" stroke="#555" stroke-width="0.8"/>
<text x="116.9" y="602.0" font-size="8.2" text-anchor="middle" fill="#222">50</text>
<line x1="183.2" y1="590.0" x2="183.2" y2="591.5" stroke="#555" stroke-width="0.8"/>
<text x="183.2" y="602.0" font-size="8.2" text-anchor="middle" fill="#222">100</text>
<line x1="249.5" y1="590.0" x2="249.5" y2="591.5" stroke="#555" stroke-width="0.8"/>
<text x="249.5" y="602.0" font-size="8.2" text-anchor="middle" fill="#222">150</text>
<line x1="49.8" y1="414.3" x2="51.1" y2="414.3" stroke="#555" stroke-width="0.9"/>
<text x="45.9" y="417.6" font-size="8.4" text-anchor="end" fill="#222">1.00</text>
<line x1="49.8" y1="456.1" x2="51.1" y2="456.1" stroke="#555" stroke-width="0.9"/>
<text x="45.9" y="457.9" font-size="8.4" text-anchor="end" fill="#222">0.75</text>
<line x1="49.8" y1="497.8" x2="51.1" y2="497.8" stroke="#555" stroke-width="0.9"/>
<text x="45.9" y="497.7" font-size="8.4" text-anchor="end" fill="#222">0.50</text>
<line x1="49.8" y1="539.6" x2="51.1" y2="539.6" stroke="#555" stroke-width="0.9"/>
<text x="45.9" y="536.8" font-size="8.4" text-anchor="end" fill="#222">0.25</text>
<line x1="49.8" y1="581.4" x2="51.1" y2="581.4" stroke="#555" stroke-width="0.9"/>
<text x="45.9" y="576.1" font-size="8.4" text-anchor="end" fill="#222">0.00</text>
<text x="175.5" y="615.2" font-size="8.2" text-anchor="middle" fill="#222">Time</text>
<text x="7.8" y="497.5" font-size="8.4" text-anchor="middle" fill="#222" transform="rotate(-90 7.8 497.5)">within Stroma Area</text>
<text x="21.2" y="497.5" font-size="8.4" text-anchor="middle" fill="#222" transform="rotate(-90 21.2 497.5)">Survival probability</text>
<text x="57.8" y="559.1" font-size="8.4" fill="#222"><tspan font-style="italic">p</tspan> = 0.043</text>
<text x="163.4" y="425.2" font-size="8.4" fill="#3e67a3">high CD45+ pHH3- pSMAD2L+</text>
<text x="163.4" y="439" font-size="8.4" fill="#f3b935">low CD45+ pHH3- pSMAD2L+</text>
<text x="0.3" y="7.6" font-size="14" font-weight="bold" fill="#111">a</text>
<text x="309.6" y="13.9" font-size="14" font-weight="bold" fill="#111">b</text>
<text x="309.6" y="177.1" font-size="14" font-weight="bold" fill="#111">c</text>
<text x="309.4" y="322.7" font-size="14" font-weight="bold" fill="#111">d</text>
<text x="309.6" y="484.4" font-size="14" font-weight="bold" fill="#111">e</text>
<text x="-0.2" y="180.3" font-size="14" font-weight="bold" fill="#111">f</text>
<text x="0.2" y="405.9" font-size="14" font-weight="bold" fill="#111">g</text>
<text x="683.5" y="161.6" font-size="6.9" text-anchor="middle" fill="#222" transform="rotate(-90 683.5 161.6)">Immune Cells (CD45+)</text>
<text x="682.8" y="472.9" font-size="6.9" text-anchor="middle" fill="#222" transform="rotate(-90 682.8 472.9)">Tumor Cells (panCK+)</text>
</svg>
</body></html>
